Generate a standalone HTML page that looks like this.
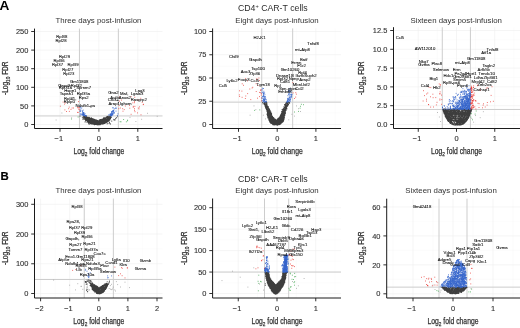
<!DOCTYPE html>
<html><head><meta charset="utf-8"><title>Volcano plots</title>
<style>html,body{margin:0;padding:0;background:#fff}body{width:520px;height:328px;overflow:hidden;font-family:"Liberation Sans",sans-serif}</style></head>
<body>
<svg width="520" height="328" viewBox="0 0 520 328" style="display:block;will-change:transform;font-family:'Liberation Sans',sans-serif">
<rect width="520" height="328" fill="#fff"/>
<g>
<path d="M79.45 28.6V128.5M118.35 28.6V128.5M40.55 28.6V128.5M157.25 28.6V128.5M34.5 115.2H162.5M34.5 96.6H162.5M34.5 78H162.5M34.5 59.4H162.5M34.5 40.8H162.5" stroke="#f5f5f5" stroke-width=".35" fill="none"/>
<path d="M60 28.6V128.5M98.9 28.6V128.5M137.8 28.6V128.5M34.5 124.5H162.5M34.5 105.9H162.5M34.5 87.3H162.5M34.5 68.7H162.5M34.5 50.1H162.5M34.5 31.5H162.5" stroke="#efefef" stroke-width=".6" fill="none"/>
<path d="M79.45 28.6V128.5M118.35 28.6V128.5M34.5 115.94H162.5" stroke="#cdcdcd" stroke-width="1" fill="none"/>
<path d="M61.9 113.0h0M157.2 116.3h0M135.9 121.5h0M147.5 113.3h0M56.1 120.0h0M141.7 119.3h0M130.0 117.4h0M71.7 117.8h0" stroke="#9a9a9a" stroke-width="0.85" stroke-linecap="round" fill="none"/>
<path d="M87.8 120.8h0M98.7 123.1h0M106.2 122.0h0M87.6 121.2h0M89.2 118.6h0M88.0 121.3h0M107.2 120.5h0M100.8 124.2h0M86.3 118.8h0M99.8 120.3h0M106.9 121.6h0M109.2 118.9h0M93.5 122.0h0M88.6 121.1h0M94.1 123.0h0M106.1 121.7h0M95.2 122.6h0M91.7 122.5h0M102.1 119.1h0M88.7 121.9h0M105.8 121.0h0M106.9 119.1h0M87.0 120.4h0M88.0 121.9h0M100.5 123.1h0M105.8 120.4h0M94.2 123.2h0M109.8 120.0h0M88.0 118.8h0M100.6 119.9h0M106.2 117.4h0M101.2 123.9h0M101.6 120.5h0M100.5 120.9h0M102.2 123.7h0M102.1 119.8h0M89.3 118.1h0M102.6 120.3h0M104.9 122.1h0M86.8 118.5h0M107.8 120.7h0M94.1 121.0h0M85.2 119.3h0M92.9 123.0h0M105.6 118.6h0M108.8 119.6h0M103.5 118.8h0M105.6 122.7h0M92.7 118.9h0M99.0 122.8h0M101.0 123.7h0M89.4 118.3h0M85.9 118.2h0M108.0 118.0h0M94.6 121.0h0M101.6 122.2h0M97.6 124.5h0M108.4 119.6h0M100.8 119.5h0M89.8 118.4h0M105.8 122.3h0M92.6 122.3h0M89.8 119.9h0M107.5 118.7h0M95.1 122.9h0M96.8 121.1h0M85.9 117.6h0M93.0 121.2h0M89.9 120.1h0M92.9 124.3h0M104.8 119.6h0M87.9 117.1h0M89.8 118.5h0M84.5 117.6h0M92.1 120.0h0M99.8 122.4h0M109.7 119.2h0M93.4 122.6h0M108.7 118.5h0M102.9 123.9h0M85.9 118.6h0M97.0 123.0h0M102.6 121.7h0M104.5 121.8h0M93.3 119.5h0M99.1 122.9h0M105.3 121.4h0M99.4 124.7h0M88.4 121.9h0M96.6 121.2h0M97.0 123.4h0M109.8 120.0h0M90.1 121.5h0M101.9 119.5h0M106.8 119.5h0M90.5 121.4h0M86.3 118.0h0M107.6 119.9h0M87.1 118.7h0M103.3 121.9h0M103.0 120.7h0M99.8 122.5h0M93.8 122.2h0M95.7 122.2h0M93.6 123.7h0M103.7 122.1h0M88.0 119.3h0M86.8 119.6h0M101.7 123.2h0M101.6 121.7h0M98.4 120.9h0M101.3 119.8h0M91.9 121.0h0M101.4 120.4h0M104.6 118.3h0M108.4 119.4h0M93.2 121.6h0M105.4 121.2h0M106.8 121.4h0M98.1 123.6h0M106.0 122.6h0M92.6 122.0h0M100.2 121.8h0M101.4 122.0h0M101.4 120.1h0M88.0 119.0h0M103.5 118.8h0M105.3 119.1h0M93.2 120.1h0M85.1 117.4h0M102.6 119.5h0M105.1 120.7h0M97.8 123.9h0M92.7 121.2h0M101.4 122.6h0M94.1 123.2h0M103.1 120.5h0M109.4 118.9h0M102.3 122.1h0M86.8 119.2h0M105.9 120.6h0M99.3 123.1h0M98.8 121.3h0M90.1 121.8h0M103.5 118.3h0M103.4 123.4h0M106.2 119.2h0M101.6 122.9h0M91.7 121.6h0M101.7 122.4h0M86.9 118.5h0M91.9 121.2h0M87.4 120.1h0M89.5 119.5h0M108.8 120.4h0M96.9 121.9h0M87.3 121.5h0M110.3 116.5h0M92.3 122.8h0M92.8 119.3h0M96.1 121.5h0M105.2 119.7h0M101.1 121.5h0M97.6 121.3h0M100.8 120.6h0M94.7 124.2h0M90.2 120.8h0M94.2 122.0h0M86.6 119.2h0M89.6 121.0h0M102.7 122.4h0M83.9 117.6h0M99.3 124.4h0M97.2 122.1h0M103.2 122.3h0M107.4 118.4h0M108.7 120.1h0M87.3 118.8h0M100.3 119.9h0M104.4 121.5h0M102.1 119.3h0M101.3 124.1h0M91.7 121.4h0M97.5 121.5h0M100.2 120.8h0M100.9 123.3h0M100.5 122.6h0M95.6 120.5h0M91.0 121.2h0M109.9 119.3h0M99.9 120.3h0M86.4 118.4h0M103.8 119.3h0M93.1 120.0h0M105.1 121.9h0M85.7 118.8h0M106.0 122.2h0M103.7 123.8h0M97.1 120.4h0M87.1 119.1h0M89.2 120.8h0M94.0 120.2h0M100.6 124.1h0M92.2 122.6h0M103.6 119.4h0M100.7 120.5h0M94.6 123.0h0M97.2 123.0h0M93.9 120.6h0M95.9 123.3h0M88.8 119.5h0M103.6 122.1h0M102.3 123.3h0M99.2 124.1h0M92.6 123.1h0M98.3 122.5h0M106.5 120.5h0M108.1 121.2h0M88.7 118.7h0M107.3 119.7h0M87.8 118.5h0M86.0 116.6h0M93.9 124.3h0M93.5 123.2h0M88.2 121.5h0M93.3 123.5h0M90.9 120.0h0M97.9 122.2h0M99.5 122.0h0M91.1 121.9h0M94.2 123.5h0M109.3 119.2h0M106.0 119.9h0M93.4 120.3h0M98.8 124.4h0M101.0 120.9h0M102.2 119.6h0M93.4 123.1h0M96.4 121.2h0M94.9 124.2h0M99.9 123.6h0M104.7 122.4h0M88.0 121.3h0M93.9 120.9h0M89.5 117.5h0M93.7 121.7h0M95.3 124.4h0M87.0 118.4h0M92.0 123.7h0M91.1 123.6h0M106.3 118.8h0M91.4 121.7h0M103.9 123.4h0M96.4 121.4h0M105.8 121.3h0M88.6 117.9h0M96.4 121.0h0M91.5 124.0h0M108.5 117.0h0M88.7 119.8h0M94.7 123.4h0M95.8 123.2h0M104.2 120.9h0M96.2 123.5h0M102.2 119.7h0M95.6 120.1h0M93.2 124.2h0M85.1 118.7h0M93.3 118.8h0M87.2 117.5h0M86.8 119.5h0M89.2 119.5h0M98.9 123.0h0M98.6 124.2h0M99.0 123.9h0M94.6 119.9h0M92.3 121.8h0M87.1 119.1h0M101.2 123.8h0M102.8 123.0h0M89.3 122.2h0M106.5 120.5h0M99.8 120.2h0M97.7 120.6h0M107.5 121.0h0M93.5 120.2h0M99.2 120.7h0M109.4 118.4h0M100.1 123.9h0M97.8 121.3h0M85.6 120.7h0M100.2 120.0h0M97.1 122.2h0M89.1 121.2h0M109.7 116.1h0M95.6 119.7h0M96.2 120.3h0M95.5 123.9h0M98.2 123.7h0M100.6 122.8h0M103.0 123.1h0M97.5 124.7h0M103.6 121.6h0M93.2 123.8h0M88.0 120.0h0M99.9 124.3h0M102.4 123.7h0M100.5 123.9h0M90.5 122.1h0M105.2 120.3h0M106.1 118.8h0M89.6 122.2h0M94.7 122.1h0M105.7 118.4h0M89.5 119.2h0M96.4 123.3h0M88.3 118.9h0M92.1 118.5h0M104.2 123.1h0M91.9 120.0h0M104.3 122.7h0M95.3 122.0h0M89.3 120.6h0M91.2 120.6h0M103.9 120.7h0M108.1 120.5h0M98.3 122.7h0M85.7 119.3h0M100.1 121.9h0M106.9 117.3h0M89.5 120.9h0M101.7 121.8h0M96.3 122.7h0M90.7 121.0h0M88.6 121.4h0M99.5 120.3h0M93.4 120.8h0M98.5 124.2h0M86.7 118.4h0M93.1 123.9h0M90.8 118.5h0M85.9 118.6h0M86.9 117.2h0M87.6 119.5h0M98.5 123.0h0M92.4 121.0h0M104.7 121.1h0M90.8 119.9h0M91.0 121.4h0M107.5 119.6h0M90.2 122.5h0M104.1 121.4h0M100.2 120.6h0M106.1 121.1h0M100.4 123.3h0M88.4 119.7h0M109.3 118.4h0M103.3 121.7h0M85.6 116.4h0M89.3 118.7h0M92.4 122.7h0M95.8 121.1h0M106.3 121.5h0M90.2 119.9h0M102.1 122.4h0M99.1 123.5h0M91.8 120.5h0M93.0 119.8h0M101.0 121.5h0M90.8 121.3h0M101.0 122.2h0M109.9 118.7h0M105.4 121.0h0M106.3 122.4h0M91.7 121.8h0M110.3 116.1h0M100.2 119.7h0M104.1 122.2h0M90.8 119.4h0M97.7 122.6h0M106.1 121.6h0M101.1 120.5h0M96.8 121.4h0M89.5 121.4h0M91.8 122.8h0M90.0 120.2h0M97.7 124.1h0M93.7 123.8h0M89.8 122.5h0M103.2 119.3h0M108.1 118.1h0M93.7 124.0h0M103.3 119.6h0M88.7 121.1h0M88.3 121.2h0M94.5 119.6h0M98.5 122.2h0M91.9 120.4h0M98.0 122.1h0M99.5 121.6h0M87.3 120.3h0M105.1 123.1h0M105.5 122.0h0M95.9 121.1h0M107.0 120.9h0M107.1 118.7h0M109.4 120.1h0M101.6 120.4h0M85.3 118.1h0M97.0 122.7h0M99.6 123.5h0M87.8 121.5h0M93.4 123.3h0M95.3 120.3h0M89.4 120.4h0M99.8 123.2h0M89.2 119.3h0M92.7 120.4h0M96.9 121.2h0M89.1 117.2h0M110.3 118.3h0M105.2 122.5h0M100.8 122.7h0M106.9 117.5h0M96.6 123.1h0M109.3 119.2h0M92.5 121.6h0M97.6 121.8h0M105.4 120.4h0M110.7 116.9h0M98.0 124.9h0M89.0 123.0h0M93.1 119.4h0M98.7 121.6h0M92.5 122.0h0M101.1 122.2h0M107.1 119.4h0M86.3 118.9h0M87.6 119.6h0M91.1 119.2h0M105.1 118.8h0M95.9 122.5h0M87.8 120.1h0M86.6 118.7h0M108.1 117.7h0M89.3 117.7h0M110.3 117.3h0M98.7 123.5h0M103.1 121.5h0M108.1 121.0h0M88.1 117.7h0M92.4 121.3h0M89.0 122.0h0M99.2 124.3h0M101.9 121.9h0M89.3 119.0h0M96.2 124.6h0M94.0 122.9h0M107.4 122.0h0M106.7 120.6h0M98.3 121.6h0M86.5 118.0h0M97.9 122.5h0M96.2 120.6h0M88.1 118.7h0M84.3 117.0h0M89.9 117.9h0M100.3 123.0h0M90.3 119.0h0M107.0 119.8h0M92.9 121.1h0M99.1 124.3h0M90.7 122.9h0M107.6 119.4h0M98.6 123.9h0M102.7 121.8h0M95.6 122.0h0M91.6 119.3h0M103.7 121.7h0M91.3 123.6h0M94.4 121.5h0M92.3 121.7h0M101.4 119.5h0M105.1 122.1h0M101.7 119.3h0M92.3 120.6h0M88.7 117.6h0M89.1 119.5h0M100.9 121.2h0M92.4 120.9h0M103.1 121.1h0M108.2 117.9h0M102.8 123.0h0M103.1 121.3h0M106.5 120.5h0M87.9 121.2h0M91.5 120.3h0M97.7 120.8h0M89.4 121.3h0M90.5 119.5h0M104.9 121.9h0M86.7 120.0h0M93.2 119.1h0M94.6 123.2h0M104.5 122.0h0M109.9 116.6h0M102.6 124.1h0M104.6 118.7h0M107.7 116.7h0M85.5 117.6h0M87.1 119.4h0M94.8 119.6h0M89.2 119.3h0M86.8 120.2h0M87.4 119.0h0M99.2 120.6h0M96.5 122.5h0M94.4 123.6h0M108.0 117.6h0M103.5 118.9h0M101.9 122.8h0M104.3 118.6h0M96.8 122.0h0M104.6 119.9h0M107.0 121.7h0M95.9 122.8h0M96.1 122.8h0M94.9 123.8h0M103.6 123.8h0M95.1 123.6h0M96.5 123.8h0M107.5 118.6h0M93.7 120.6h0M98.2 123.1h0M90.3 120.5h0M92.4 120.4h0M108.1 121.1h0M100.7 122.5h0M96.2 121.0h0M88.6 117.9h0M92.8 121.5h0M101.1 120.6h0M86.1 116.7h0M91.6 122.2h0M108.0 119.3h0M104.2 121.0h0M89.1 118.9h0M96.5 121.5h0M105.6 120.4h0M100.1 121.2h0M109.3 118.1h0M83.7 117.4h0M87.6 120.1h0M105.2 119.4h0M89.1 118.6h0M85.7 117.8h0M93.1 122.0h0M104.0 121.4h0M91.3 120.6h0M90.2 122.7h0M84.9 118.7h0M88.8 121.6h0M85.6 119.5h0M102.8 122.8h0M101.9 121.8h0M104.9 121.4h0M105.0 122.3h0M94.3 124.2h0M87.8 119.1h0M91.5 122.8h0M104.8 122.9h0M92.9 121.7h0M103.2 123.7h0M105.8 119.9h0M100.1 121.4h0M109.2 120.7h0M109.8 117.6h0M84.4 118.1h0M108.7 117.2h0M110.3 116.5h0M101.7 120.1h0M103.4 120.9h0M95.9 124.0h0M92.3 123.5h0M87.2 120.5h0M87.7 118.3h0M97.7 121.2h0M96.7 124.5h0M92.6 122.6h0M108.0 119.2h0M92.7 123.1h0M99.2 122.6h0M103.5 121.8h0M108.3 120.2h0M88.4 118.3h0M90.6 122.9h0M104.3 120.4h0M96.2 120.4h0M87.2 120.8h0M95.7 120.3h0M105.1 118.6h0M103.2 122.5h0M87.9 120.6h0M96.2 123.7h0M87.7 120.5h0M107.7 118.9h0M92.7 120.9h0M106.2 122.0h0M92.0 120.4h0M106.6 121.5h0M95.8 123.5h0M107.0 120.4h0M87.1 118.6h0M105.2 117.8h0M104.8 121.3h0M104.6 122.2h0M94.1 123.5h0M100.5 121.1h0M110.4 118.6h0M104.3 122.2h0M110.5 118.3h0M93.2 119.5h0M92.6 122.3h0M95.1 119.8h0M87.4 118.5h0M109.3 116.9h0M97.0 122.9h0M91.3 118.4h0M85.8 118.8h0M90.2 122.2h0M106.3 121.9h0M102.4 121.6h0M92.8 122.1h0M89.3 119.5h0M103.1 123.3h0M99.9 120.5h0M93.1 121.8h0M102.9 120.4h0M107.4 120.3h0M95.1 120.1h0M90.4 121.1h0M105.1 118.0h0M88.2 118.4h0M108.3 116.4h0M108.7 121.1h0M92.6 119.2h0M94.4 121.3h0M95.5 122.0h0M92.9 120.0h0M83.4 116.1h0M103.3 118.7h0M103.1 121.7h0M93.4 122.5h0M93.1 119.0h0M109.2 119.6h0M107.7 118.3h0M98.5 123.0h0M108.2 117.9h0M102.2 121.2h0M96.5 122.0h0M105.8 121.7h0M100.6 123.9h0M89.0 122.0h0M94.4 119.2h0M96.7 124.5h0M94.5 124.2h0M95.9 124.1h0M108.4 118.2h0M93.0 121.7h0M89.8 121.8h0M109.9 118.7h0M96.6 122.2h0M87.4 119.0h0M97.8 121.6h0M102.2 121.8h0M94.3 121.4h0M93.8 123.0h0M93.0 123.8h0M104.1 117.6h0M87.0 117.8h0M107.6 121.0h0M108.7 119.5h0M107.2 118.0h0M90.6 121.3h0M102.5 119.4h0M91.9 119.1h0M91.0 123.9h0M97.7 123.1h0M85.8 119.0h0M92.2 119.2h0M93.7 122.9h0M90.6 118.4h0M103.4 118.7h0M106.1 121.6h0M104.1 121.7h0M91.5 123.5h0M104.6 121.3h0M102.7 123.3h0M95.5 120.4h0M99.4 119.8h0M95.5 120.3h0M92.1 123.4h0M99.9 120.1h0M102.2 119.0h0M98.7 123.1h0M95.6 120.0h0M105.1 118.6h0M102.7 122.8h0M83.8 117.5h0M93.7 119.4h0M84.4 118.0h0M99.3 122.3h0M106.9 119.7h0M83.5 117.0h0M99.5 124.0h0M85.0 118.8h0M94.4 122.5h0M91.9 118.5h0M108.3 119.9h0M107.6 118.8h0M101.1 121.4h0M98.0 121.3h0M87.1 117.2h0M93.3 123.7h0M92.7 123.1h0M107.5 117.6h0M94.5 123.3h0M91.7 122.4h0M107.8 117.6h0M110.5 117.6h0M94.5 124.3h0M99.2 124.7h0M105.6 121.7h0M110.0 116.8h0M109.3 118.6h0M95.0 121.3h0M105.6 118.1h0M93.0 121.9h0M99.1 121.5h0M102.4 122.8h0M86.5 118.8h0M106.3 120.9h0M96.4 122.2h0M90.0 121.4h0M104.3 122.3h0M99.9 121.4h0M91.9 119.6h0M86.0 118.9h0M97.8 123.6h0M85.8 116.2h0M106.0 119.8h0M99.0 123.5h0M88.2 118.5h0M105.9 118.5h0M94.4 124.5h0M95.1 120.8h0M88.1 120.4h0M87.6 117.7h0M87.4 120.5h0M96.4 124.0h0M86.6 116.7h0M95.2 120.8h0M99.7 124.0h0M89.4 118.7h0M107.6 119.0h0M100.4 124.6h0M103.4 120.9h0M100.2 122.4h0M96.2 123.4h0M109.6 119.1h0M103.7 121.6h0M96.2 124.1h0M95.4 122.9h0M107.3 118.6h0M91.4 120.0h0M97.6 122.5h0M91.8 119.7h0M102.0 123.3h0M87.6 119.4h0M102.1 119.9h0M97.1 124.6h0M102.4 120.9h0M103.7 119.4h0M108.9 119.2h0M105.7 119.6h0M106.0 117.8h0M105.4 119.2h0M86.1 117.2h0M100.3 121.0h0M94.5 124.1h0M91.7 122.7h0M95.6 121.9h0M96.0 124.2h0M98.4 123.5h0M93.2 121.0h0M90.1 122.2h0M104.4 122.1h0M85.6 119.2h0M105.8 118.4h0M104.2 118.1h0M95.8 121.4h0M89.4 119.4h0M90.6 118.5h0M92.2 123.2h0M100.4 122.7h0M104.5 120.0h0M94.2 122.1h0M100.2 122.5h0M89.3 121.6h0M97.3 124.5h0M88.2 121.2h0M98.6 123.9h0M98.9 122.2h0M96.0 122.1h0M106.5 121.7h0M90.1 123.4h0M99.6 120.9h0M105.6 119.6h0M91.7 121.7h0M107.4 116.8h0M109.0 118.2h0M102.1 121.8h0M98.8 124.5h0M103.9 118.9h0M91.6 122.4h0M98.2 121.8h0M87.8 120.4h0M102.5 122.1h0M97.7 120.7h0M88.5 120.0h0M104.2 119.6h0M96.7 122.5h0M92.7 119.9h0M92.5 120.4h0M93.6 119.8h0M104.1 123.3h0M94.4 123.3h0M87.9 118.3h0M106.0 118.3h0M109.3 116.8h0M101.8 121.5h0M91.9 119.0h0M107.9 119.8h0M91.4 120.4h0M105.3 119.8h0M102.3 121.7h0M88.7 118.0h0M88.3 121.3h0M104.1 123.0h0M94.5 124.7h0M100.2 120.0h0M93.5 122.6h0M93.3 122.5h0M89.4 121.8h0M87.9 120.6h0M108.3 117.2h0M89.6 118.8h0M99.6 123.3h0M104.0 122.4h0M98.9 121.2h0M110.2 118.0h0M104.3 122.1h0M95.2 120.9h0M106.2 121.0h0M97.9 122.0h0M90.1 119.1h0M103.0 124.0h0M100.2 122.5h0M107.3 118.5h0M91.0 119.8h0M97.9 120.8h0M93.0 121.5h0M104.8 123.4h0M98.3 121.1h0M96.0 120.1h0M90.8 120.5h0M90.2 118.0h0M88.6 119.5h0M96.5 121.9h0M109.1 120.0h0M102.6 121.6h0M90.1 118.9h0M104.4 123.4h0M105.6 121.0h0M105.8 118.2h0M90.9 121.1h0M89.5 120.2h0M90.9 123.3h0M106.3 122.1h0M101.3 119.9h0M103.7 121.5h0M96.4 120.6h0M105.5 119.0h0M86.9 118.8h0M85.7 118.5h0M94.1 121.9h0M95.2 122.2h0M106.7 119.9h0M87.3 120.5h0M107.3 120.1h0M103.7 122.5h0M93.7 122.0h0M90.9 119.1h0M105.5 121.6h0M87.7 118.7h0M97.7 124.0h0M84.3 116.0h0M89.2 122.7h0M101.1 120.7h0M111.5 117.3h0M90.2 122.4h0M102.6 122.5h0M87.7 117.6h0M86.1 120.5h0M97.6 124.1h0M102.7 120.2h0M94.4 122.4h0M103.8 122.6h0M107.3 116.8h0M101.7 120.0h0M107.7 121.1h0M92.7 124.0h0M101.0 121.5h0M109.3 118.0h0M106.3 121.8h0M88.1 122.0h0M85.5 120.1h0M92.4 122.2h0M99.7 120.5h0M88.9 119.0h0M99.1 122.1h0M102.9 120.8h0M95.2 120.5h0M104.2 121.5h0M98.6 122.6h0M99.5 123.5h0M87.9 120.4h0M107.9 116.4h0M98.8 124.3h0M88.5 118.1h0M88.0 120.6h0M89.9 119.8h0M88.0 120.5h0M106.0 121.0h0M87.1 120.9h0M100.4 119.6h0M106.1 122.2h0M104.5 119.5h0M87.6 120.9h0M109.9 119.4h0M85.9 116.3h0M101.8 122.5h0M92.5 121.6h0M106.7 122.3h0M100.2 124.0h0M106.2 120.0h0M103.9 120.0h0M106.2 120.0h0M105.6 121.5h0M108.6 117.6h0M99.9 124.6h0M94.5 121.8h0M89.1 119.1h0M102.4 122.9h0M91.2 121.5h0M91.4 117.7h0M96.9 121.6h0M91.0 122.4h0M109.9 117.8h0M99.1 123.8h0M109.6 118.1h0M106.8 121.7h0M89.3 122.6h0M103.9 120.8h0M99.0 120.9h0M89.4 119.0h0M107.8 121.4h0M103.7 120.4h0M95.3 122.0h0M98.0 121.2h0M110.5 118.0h0M86.6 119.9h0M106.4 116.9h0M104.6 121.7h0M100.9 121.3h0M88.6 121.3h0M110.6 118.6h0M89.6 118.5h0M87.2 120.8h0M89.9 118.8h0M86.2 119.4h0M108.5 120.7h0M98.9 122.7h0M94.1 122.5h0M107.0 119.4h0M99.5 122.7h0M89.1 120.4h0M89.7 118.5h0M109.2 119.8h0M107.7 119.7h0M88.7 122.2h0M93.1 123.2h0M93.7 124.1h0M96.2 124.3h0M104.2 122.7h0M99.3 120.4h0M94.6 121.4h0M102.8 122.8h0M89.1 122.0h0M99.9 121.1h0M90.9 118.6h0M101.1 119.7h0M97.3 124.1h0M100.9 120.8h0M94.3 122.9h0M103.5 118.1h0M105.3 118.0h0M89.4 120.2h0M86.4 119.3h0M94.5 119.7h0M108.6 118.4h0M100.2 122.0h0M94.1 122.6h0M85.2 119.1h0M96.0 122.5h0M87.9 120.2h0M94.7 120.4h0M104.3 121.3h0M106.9 119.1h0M99.2 123.1h0M88.9 121.5h0M90.6 120.9h0M107.2 119.3h0M91.0 119.1h0M91.0 122.5h0M96.2 119.8h0M92.7 123.3h0M92.8 122.8h0M88.3 119.0h0M86.6 118.5h0M108.2 119.8h0M107.6 120.5h0M104.6 119.2h0M109.1 117.0h0M87.1 118.6h0M88.7 121.1h0M90.6 119.3h0M92.3 122.4h0M85.9 117.3h0M97.9 121.9h0M91.7 122.0h0M98.9 122.3h0M100.3 121.8h0M98.0 121.1h0M95.3 122.8h0M98.7 122.0h0M84.9 118.0h0M84.9 117.1h0M95.7 123.1h0M91.7 121.2h0M100.3 121.1h0M103.4 118.6h0M103.8 119.8h0M91.2 121.4h0M87.3 119.0h0M104.5 120.1h0M94.2 122.6h0M86.8 118.9h0M87.0 120.9h0M89.9 117.9h0M93.8 119.8h0M92.6 123.0h0M108.5 118.9h0M104.1 120.5h0M99.7 120.6h0M101.7 121.1h0M104.2 119.8h0M93.3 123.8h0M101.8 120.6h0M85.1 116.6h0M109.1 123.3h0M87.0 122.2h0M116.7 117.5h0M111.8 121.1h0M109.4 122.4h0M114.1 120.0h0M88.6 123.6h0M115.0 119.9h0M107.1 123.8h0M84.0 119.5h0M82.8 119.1h0M109.2 123.6h0M107.4 123.8h0M113.9 119.4h0M117.6 116.1h0M88.5 122.4h0M89.0 123.0h0M85.1 121.9h0M89.2 124.2h0M115.8 118.2h0M110.5 123.9h0M80.0 116.1h0M83.4 118.3h0M82.4 117.3h0M115.8 118.6h0M80.0 116.0h0" stroke="#3d3d3d" stroke-width="1.1" stroke-linecap="round" fill="none"/>
<path d="M127.7 120.8h0M120.1 121.7h0M127.6 120.2h0M126.3 121.8h0M121.0 121.8h0M123.7 119.5h0M71.4 119.0h0M78.1 117.0h0" stroke="#2e9e3e" stroke-width="0.85" stroke-linecap="round" fill="none"/>
<path d="M111.4 115.8h0M111.5 115.9h0M114.5 113.0h0M112.1 114.7h0M83.7 114.0h0M82.9 114.5h0M83.5 113.8h0M83.9 114.8h0M111.5 113.5h0M80.0 111.5h0M110.6 114.0h0M84.7 114.6h0M85.2 115.5h0M83.3 115.1h0M83.0 115.6h0M110.7 114.8h0M109.9 114.5h0M85.7 115.9h0M82.6 114.3h0M114.2 112.2h0M112.2 114.7h0M82.4 112.8h0M112.8 111.8h0M110.8 114.8h0M113.0 113.6h0M80.8 110.6h0M83.8 114.7h0M81.3 114.6h0M111.7 114.5h0M113.8 110.4h0M83.0 112.5h0M112.9 111.6h0M85.6 115.8h0M113.5 107.9h0M83.9 112.8h0M82.1 115.1h0M83.2 115.3h0M85.1 113.8h0M83.9 113.5h0M110.2 113.8h0M84.0 115.0h0M113.0 114.7h0M112.4 114.1h0M110.0 115.6h0M82.4 114.0h0M82.0 113.6h0M83.4 115.0h0M111.5 115.4h0M112.7 111.9h0M82.6 111.5h0M112.7 110.7h0M80.5 107.3h0M86.1 115.6h0M111.8 115.5h0M112.3 111.9h0M110.7 114.8h0M110.3 114.5h0M116.0 107.3h0M112.2 114.4h0M111.4 112.4h0M110.3 115.6h0M110.7 115.2h0M85.6 115.8h0M79.9 106.6h0M83.9 115.3h0M113.8 112.9h0M113.2 110.8h0M80.3 110.0h0M81.8 107.9h0M83.7 112.7h0M83.7 112.4h0M112.4 107.8h0M83.7 114.2h0M86.2 115.5h0M83.2 110.1h0M81.0 108.8h0M111.9 114.0h0M85.5 115.8h0M113.5 110.3h0M115.8 108.4h0M116.1 108.6h0M112.1 115.2h0M111.6 113.0h0M80.7 111.6h0M84.8 115.6h0M83.8 113.6h0M113.2 113.1h0M83.1 114.2h0M113.2 112.0h0M111.6 111.5h0M82.3 110.7h0M114.4 108.9h0M112.4 113.6h0M113.6 111.3h0M108.6 115.0h0M116.0 111.1h0M117.3 115.4h0M80.3 113.8h0M118.0 113.8h0M80.3 114.9h0" stroke="#3867cc" stroke-width="0.95" stroke-linecap="round" fill="none"/>
<path d="M78.6 109.1h0M79.0 107.6h0M79.4 109.9h0M79.0 107.4h0M68.7 108.7h0M63.1 102.1h0M60.3 106.2h0M72.1 108.0h0M65.7 102.9h0M77.5 107.7h0M69.3 111.4h0M69.2 107.1h0M78.2 112.4h0M71.0 109.4h0M64.9 109.9h0M78.6 101.6h0M73.5 108.0h0M66.4 111.5h0M77.4 112.4h0M64.6 104.1h0M134.5 101.3h0M118.8 108.7h0M129.4 105.4h0M120.3 108.0h0M137.6 112.9h0M142.2 102.4h0M139.4 106.9h0M124.2 109.6h0M123.0 111.2h0M139.0 108.9h0M143.2 104.6h0M119.5 101.1h0M119.1 105.5h0M138.3 108.0h0M134.4 108.7h0M143.5 104.3h0M133.3 106.4h0M131.1 114.3h0M133.2 107.3h0M138.2 100.0h0M141.0 114.8h0M140.8 98.3h0M134.8 97.3h0M125.3 106.0h0M121.5 100.1h0M134.6 110.3h0M134.4 102.7h0M122.7 108.7h0M129.8 108.2h0M135.0 111.7h0M131.1 96.7h0M134.9 106.4h0M132.9 102.8h0M119.4 97.0h0" stroke="#e8302a" stroke-width="0.85" stroke-linecap="round" fill="none"/>
<path d="M34.5 28.6V128.5H162.5" stroke="#1a1a1a" stroke-width="1" fill="none"/>
<path d="M60 128.5v3.3M98.9 128.5v3.3M137.8 128.5v3.3M34.5 124.5h-3.3M34.5 105.9h-3.3M34.5 87.3h-3.3M34.5 68.7h-3.3M34.5 50.1h-3.3M34.5 31.5h-3.3" stroke="#1a1a1a" stroke-width=".9" fill="none"/>
<text transform="translate(58.8 141.25) scale(.92 1)" font-size="8.1" fill="#303030" stroke="#303030" stroke-width=".12" text-anchor="middle">−1</text>
<text transform="translate(98.9 141.25) scale(.92 1)" font-size="8.1" fill="#303030" stroke="#303030" stroke-width=".12" text-anchor="middle">0</text>
<text transform="translate(137.8 141.25) scale(.92 1)" font-size="8.1" fill="#303030" stroke="#303030" stroke-width=".12" text-anchor="middle">1</text>
<text transform="translate(28.3 127.15) scale(.92 1)" font-size="8.1" fill="#303030" stroke="#303030" stroke-width=".12" text-anchor="end">0</text>
<text transform="translate(28.3 108.55) scale(.92 1)" font-size="8.1" fill="#303030" stroke="#303030" stroke-width=".12" text-anchor="end">50</text>
<text transform="translate(28.3 89.95) scale(.92 1)" font-size="8.1" fill="#303030" stroke="#303030" stroke-width=".12" text-anchor="end">100</text>
<text transform="translate(28.3 71.35) scale(.92 1)" font-size="8.1" fill="#303030" stroke="#303030" stroke-width=".12" text-anchor="end">150</text>
<text transform="translate(28.3 52.75) scale(.92 1)" font-size="8.1" fill="#303030" stroke="#303030" stroke-width=".12" text-anchor="end">200</text>
<text transform="translate(28.3 34.15) scale(.92 1)" font-size="8.1" fill="#303030" stroke="#303030" stroke-width=".12" text-anchor="end">250</text>
<text x="98.5" y="22.5" font-size="7.85" fill="#333" text-anchor="middle">Three days post-infusion</text>
<text x="98.9" y="154.05" font-size="8.6" fill="#303030" stroke="#303030" stroke-width=".25" text-anchor="middle" textLength="51" lengthAdjust="spacingAndGlyphs">Log<tspan font-size="6" dy="2">2</tspan><tspan dy="-2"> fold change</tspan></text>
<text transform="translate(8 78.2) rotate(-90)" font-size="8.4" fill="#303030" stroke="#303030" stroke-width=".25" text-anchor="middle" textLength="33.5" lengthAdjust="spacingAndGlyphs">-Log<tspan font-size="6" dy="2">10</tspan><tspan dy="-2"> FDR</tspan></text>
<g transform="scale(.25)" font-size="17" fill="#0c0c0c" stroke="#0c0c0c" stroke-width=".3" text-anchor="middle"><text x="247.2" y="152">Rpl38</text><text x="244" y="169.2">Rpl28</text><text x="258" y="230.6">Rpl29</text><text x="236" y="248">Rpl36</text><text x="230" y="262.6">Rpl37</text><text x="292" y="263.6">Rpl39</text><text x="271.2" y="282.6">Rpl27</text><text x="275" y="301.6">Rpl23</text><text x="316.8" y="330.4">Gm11808</text><text x="258.8" y="347.2">Gapdh</text><text x="304.8" y="347.2">Rpl32</text><text x="262" y="355.6">Rpl31a</text><text x="334.4" y="356.4">Sprnm7</text><text x="281.2" y="368.8">Hspe1</text><text x="266.4" y="380">Tspan1</text><text x="333.6" y="380.6">Rpl35a</text><text x="280.8" y="399.2">Rpl41,</text><text x="335" y="395.6">Rps2</text><text x="276.8" y="411.2">Rplp0</text><text x="341.2" y="429.2">Ndufb1-ps</text><text x="560" y="366">Lag3</text><text x="454" y="375.6">Gna2</text><text x="496.8" y="380">Maf,</text><text x="548" y="380">Lgals3</text><text x="482.4" y="394.4">ActbAnxa2</text><text x="555" y="405.6">Rasgrp2</text><text x="453" y="405.6">Ctc3+</text><text x="480" y="418.6">Arap1Ighxm</text></g>
</g>
<g>
<path d="M257.85 28.4V128.5M296.55 28.4V128.5M219.15 28.4V128.5M335.25 28.4V128.5M212.6 112.88H341M212.6 89.62H341M212.6 66.38H341M212.6 43.12H341" stroke="#f5f5f5" stroke-width=".35" fill="none"/>
<path d="M238.5 28.4V128.5M277.2 28.4V128.5M315.9 28.4V128.5M212.6 124.5H341M212.6 101.25H341M212.6 78H341M212.6 54.75H341M212.6 31.5H341" stroke="#efefef" stroke-width=".6" fill="none"/>
<path d="M261.72 28.4V128.5M292.68 28.4V128.5M212.6 102.18H341" stroke="#cdcdcd" stroke-width="1" fill="none"/>
<path d="M250.1 115.2h0M255.9 109.6h0M300.4 111.5h0M296.6 105.9h0M298.5 108.7h0M263.3 115.2h0M291.9 114.3h0M254.0 105.9h0M294.6 116.1h0M265.6 118.9h0M288.8 119.8h0" stroke="#9a9a9a" stroke-width="0.85" stroke-linecap="round" fill="none"/>
<path d="M277.9 121.4h0M281.6 120.7h0M268.8 112.5h0M273.5 123.3h0M281.1 116.8h0M270.7 114.3h0M277.3 122.1h0M276.1 123.6h0M283.0 121.0h0M268.7 116.0h0M281.5 117.6h0M281.2 122.4h0M280.0 119.4h0M269.7 115.6h0M270.3 119.0h0M282.2 116.1h0M282.8 115.6h0M277.7 119.5h0M281.0 122.1h0M282.6 120.3h0M281.1 118.1h0M285.8 108.9h0M269.7 113.4h0M279.0 120.3h0M266.1 106.5h0M272.1 118.8h0M268.0 115.1h0M271.8 122.8h0M277.6 122.9h0M277.5 121.5h0M285.5 109.2h0M280.7 115.7h0M268.4 111.2h0M280.2 116.2h0M282.7 119.6h0M282.0 118.1h0M272.6 116.6h0M283.7 110.6h0M272.0 119.3h0M267.0 108.8h0M281.0 116.9h0M267.5 111.9h0M279.9 118.2h0M282.9 115.0h0M281.1 120.3h0M280.0 118.0h0M281.6 121.4h0M279.2 122.9h0M274.2 124.0h0M281.5 115.0h0M270.2 118.9h0M266.8 108.6h0M268.2 111.5h0M275.0 119.8h0M283.5 116.8h0M268.7 114.0h0M273.1 119.3h0M272.3 121.9h0M272.6 122.3h0M276.6 121.8h0M284.1 116.6h0M274.8 122.7h0M278.7 124.1h0M270.8 111.8h0M280.9 123.1h0M271.9 119.1h0M271.8 118.5h0M270.2 116.3h0M269.8 118.1h0M266.0 105.3h0M283.5 114.1h0M268.5 117.2h0M270.2 116.3h0M283.3 118.5h0M289.5 102.6h0M274.5 121.5h0M271.0 115.5h0M269.8 117.2h0M276.6 124.0h0M272.3 120.5h0M266.0 106.4h0M284.4 113.4h0M273.5 124.4h0M280.3 120.5h0M273.6 124.6h0M267.6 111.8h0M277.7 122.8h0M277.0 123.5h0M269.8 118.8h0M272.8 120.4h0M273.9 123.8h0M274.0 119.5h0M282.3 120.4h0M270.9 117.8h0M278.7 124.7h0M279.3 122.4h0M281.9 121.7h0M273.5 119.2h0M281.3 120.5h0M270.0 116.9h0M277.5 120.9h0M266.1 107.8h0M288.8 102.6h0M281.0 123.6h0M281.4 121.7h0M282.7 117.7h0M283.3 113.7h0M273.0 123.3h0M277.5 122.1h0M269.0 118.9h0M269.9 115.7h0M266.5 107.9h0M269.3 110.0h0M269.1 112.7h0M280.1 123.7h0M271.9 116.6h0M280.8 123.1h0M279.7 121.1h0M282.7 116.4h0M271.0 119.6h0M281.6 119.0h0M269.5 112.7h0M269.8 112.0h0M272.6 117.7h0M282.0 113.0h0M274.7 119.5h0M282.1 116.5h0M262.7 102.4h0M279.5 123.9h0M266.6 109.3h0M268.3 117.3h0M284.3 114.9h0M275.0 121.9h0M281.6 117.8h0M275.8 120.5h0M271.5 122.9h0M275.3 124.7h0M284.4 107.8h0M282.4 115.3h0M274.8 121.6h0M271.1 121.4h0M282.2 119.0h0M282.1 112.5h0M277.6 122.9h0M287.8 102.5h0M285.4 104.8h0M278.7 121.4h0M269.1 116.2h0M275.6 120.1h0M283.6 115.1h0M270.8 123.3h0M269.4 118.9h0M280.8 116.8h0M267.9 116.6h0M270.7 115.3h0M283.8 109.1h0M276.0 121.1h0M270.1 122.2h0M282.3 119.7h0M271.0 117.7h0M287.0 103.1h0M270.6 114.6h0M271.2 114.6h0M275.4 120.8h0M272.8 121.1h0M280.9 119.5h0M283.1 120.8h0M268.1 116.2h0M266.9 103.9h0M280.2 122.6h0M268.9 117.9h0M268.7 115.5h0M273.3 118.8h0M268.3 107.5h0M271.6 114.3h0M286.0 109.2h0M281.2 122.7h0M270.6 121.3h0M280.8 123.5h0M282.8 112.0h0M287.5 102.9h0M276.9 124.6h0M270.1 113.6h0M284.1 114.4h0M265.6 107.9h0M281.9 121.0h0M271.0 114.5h0M269.9 121.4h0M275.7 123.5h0M268.2 114.0h0M276.4 123.6h0M270.7 115.5h0M277.9 121.0h0M272.7 118.5h0M268.8 108.7h0M282.7 121.2h0M279.3 118.5h0M277.3 120.3h0M275.8 121.9h0M281.6 118.3h0M281.5 122.3h0M268.9 112.7h0M271.5 116.7h0M276.3 120.8h0M274.3 120.0h0M283.5 115.5h0M280.8 114.5h0M278.2 120.7h0M276.5 124.7h0M283.3 108.6h0M286.0 103.8h0M271.8 121.9h0M278.8 122.2h0M280.5 119.4h0M271.1 116.6h0M286.8 103.1h0M274.1 121.1h0M268.8 116.9h0M282.6 118.9h0M274.4 121.1h0M277.0 123.4h0M274.5 122.1h0M269.0 120.0h0M278.6 123.1h0M270.8 122.0h0M276.9 124.0h0M272.2 116.5h0M278.2 118.3h0M281.7 121.5h0M282.9 117.8h0M271.5 119.3h0M283.4 115.7h0M286.4 105.9h0M280.7 120.1h0M271.0 115.8h0M279.6 121.8h0M265.0 104.9h0M280.2 116.3h0M272.0 122.2h0M271.9 121.5h0M272.8 122.4h0M275.9 121.9h0M275.1 120.3h0M283.9 112.3h0M279.1 118.8h0M276.7 120.9h0M281.0 119.6h0M278.2 120.9h0M269.2 114.6h0M275.8 123.9h0M273.1 120.4h0M272.5 120.5h0M275.7 122.2h0M267.8 114.7h0M278.2 121.6h0M271.3 120.4h0M276.7 123.7h0M283.4 114.1h0M270.3 119.8h0M268.3 115.9h0M279.4 121.4h0M276.9 124.6h0M270.1 120.3h0M269.9 113.3h0M282.8 111.8h0M276.5 120.3h0M268.9 111.1h0M277.5 124.0h0M271.2 118.1h0M276.9 121.1h0M271.9 118.9h0M275.6 121.7h0M285.4 108.7h0M277.2 120.3h0M287.0 105.0h0M270.5 122.7h0M274.4 119.3h0M282.9 118.9h0M284.2 115.0h0M278.3 120.0h0M278.6 119.1h0M280.0 123.5h0M272.4 121.0h0M283.6 114.7h0M276.3 123.1h0M278.6 118.8h0M281.9 121.0h0M272.0 122.0h0M277.1 122.7h0M284.2 112.3h0M268.4 115.4h0M277.0 119.5h0M269.5 119.5h0M283.0 114.5h0M269.2 116.5h0M267.4 107.2h0M265.5 107.0h0M270.7 118.7h0M270.9 116.0h0M283.5 117.9h0M273.0 120.3h0M274.7 119.0h0M282.1 114.8h0M270.7 117.5h0M268.3 116.3h0M283.7 118.7h0M285.9 104.0h0M268.9 113.6h0M278.9 122.4h0M285.4 112.5h0M267.6 107.1h0M270.8 112.2h0M270.2 120.2h0M269.9 119.9h0M274.4 121.2h0M274.2 123.4h0M280.4 118.8h0M283.9 111.1h0M267.5 113.4h0M284.2 115.9h0M285.3 111.4h0M269.2 115.6h0M282.1 121.6h0M267.9 112.8h0M274.8 119.8h0M283.4 109.1h0M280.3 120.3h0M273.9 123.4h0M267.8 114.4h0M272.4 122.7h0M270.2 110.2h0M274.6 119.2h0M267.3 113.4h0M278.0 123.4h0M269.7 117.7h0M282.3 115.8h0M278.1 122.9h0M282.4 116.6h0M270.5 122.5h0M271.1 120.6h0M273.0 120.2h0M271.1 116.7h0M275.5 123.0h0M271.9 121.8h0M281.6 113.2h0M267.9 115.0h0M278.6 118.8h0M273.1 120.9h0M281.9 115.2h0M269.3 118.9h0M273.8 120.7h0M282.0 109.7h0M278.6 122.1h0M267.7 112.4h0M269.0 116.9h0M283.8 116.4h0M268.4 115.4h0M283.3 114.4h0M269.3 109.3h0M267.6 107.1h0M269.6 120.8h0M274.3 122.0h0M285.6 108.7h0M275.8 121.3h0M273.1 121.5h0M270.4 112.7h0M264.8 102.6h0M285.0 111.1h0M282.8 118.0h0M274.7 119.9h0M281.3 114.4h0M270.3 116.3h0M275.7 124.8h0M270.8 121.9h0M274.9 124.7h0M266.3 107.8h0M277.8 121.3h0M270.7 122.2h0M268.4 117.2h0M272.3 121.4h0M270.5 117.9h0M287.9 104.1h0M284.3 110.4h0M273.0 120.9h0M268.4 106.9h0M281.3 119.5h0M270.5 117.8h0M269.3 120.5h0M277.1 120.4h0M270.9 114.4h0M283.1 116.8h0M283.3 115.4h0M276.2 123.2h0M280.2 118.0h0M283.1 117.4h0M276.1 121.8h0M273.7 123.9h0M274.5 120.6h0M281.5 114.2h0M274.5 124.3h0M276.4 123.9h0M268.3 115.4h0M268.9 109.4h0M273.1 119.1h0M282.1 116.6h0M270.4 121.1h0M276.0 120.9h0M271.4 118.6h0M272.9 122.1h0M281.5 118.7h0M275.2 122.3h0M286.6 106.5h0M283.0 116.2h0M276.9 123.4h0M269.9 122.0h0M267.7 111.7h0M282.7 119.8h0M271.7 121.1h0M278.0 124.2h0M270.0 115.7h0M280.4 117.5h0M266.9 111.1h0M276.1 121.9h0M267.7 114.0h0M283.9 111.7h0M268.9 112.1h0M271.3 114.6h0M270.0 119.1h0M275.7 123.7h0M281.2 116.2h0M277.6 124.2h0M273.2 123.1h0M282.4 119.6h0M280.2 122.6h0M271.6 118.9h0M284.8 111.2h0M280.8 121.8h0M269.9 113.1h0M279.2 123.9h0M280.2 119.5h0M270.2 115.1h0M271.0 114.4h0M274.0 120.7h0M283.7 112.4h0M279.8 119.8h0M273.5 121.6h0M281.9 118.1h0M271.8 116.5h0M268.7 111.6h0M271.1 116.2h0M279.6 123.2h0M282.6 117.2h0M283.1 120.3h0M281.0 114.7h0M277.3 124.2h0M271.7 115.9h0M282.8 112.9h0M275.5 124.1h0M274.3 124.6h0M287.0 108.7h0M286.3 108.6h0M272.6 122.4h0M286.7 106.9h0M280.1 119.3h0M282.1 118.0h0M282.9 119.0h0M271.2 120.2h0M286.0 109.1h0M281.3 116.5h0M285.3 105.5h0M282.9 116.3h0M285.3 106.5h0M282.6 118.2h0M278.7 118.5h0M281.5 117.6h0M277.2 125.1h0M270.1 113.6h0M275.4 122.3h0M265.6 104.7h0M275.3 123.9h0M268.0 115.3h0M269.3 114.0h0M269.0 117.9h0M275.1 122.8h0M269.4 112.5h0M282.8 120.4h0M281.1 120.8h0M270.9 115.0h0M274.4 122.8h0M273.7 119.1h0M281.8 116.1h0M270.8 120.9h0M287.0 106.3h0M269.4 116.7h0M278.1 123.2h0M273.7 122.4h0M270.7 122.5h0M278.7 118.9h0M285.7 107.7h0M279.6 122.6h0M276.6 122.5h0M283.2 121.6h0M269.2 117.3h0M271.8 119.4h0M272.7 119.1h0M274.0 122.4h0M269.0 112.2h0M278.5 118.8h0M285.1 110.2h0M277.2 123.9h0M273.4 118.8h0M280.1 120.1h0M269.5 111.3h0M281.8 115.4h0M269.7 118.0h0M277.0 122.2h0M269.4 115.3h0M286.2 108.5h0M282.6 113.5h0M266.1 102.6h0M280.0 116.9h0M275.8 120.2h0M281.9 121.7h0M267.9 112.7h0M283.0 112.6h0M268.4 116.4h0M283.2 113.5h0M272.5 118.4h0M269.1 110.9h0M281.0 115.2h0M275.6 121.5h0M271.2 116.7h0M268.7 116.0h0M277.8 121.5h0M264.9 105.3h0M269.5 112.6h0M274.0 122.6h0M275.8 121.4h0M277.1 125.0h0M266.0 104.9h0M276.9 122.0h0M270.4 111.6h0M270.2 118.2h0M274.0 123.7h0M277.3 121.4h0M271.9 120.7h0M281.4 113.6h0M269.7 119.6h0M271.6 122.3h0M285.5 104.5h0M281.9 118.3h0M280.2 123.6h0M284.4 115.4h0M281.9 119.6h0M278.6 122.8h0M270.0 115.3h0M274.9 122.9h0M287.8 105.2h0M268.3 114.1h0M271.2 114.7h0M269.1 113.3h0M285.8 110.0h0M279.0 118.6h0M284.9 112.3h0M276.9 122.9h0M271.6 115.3h0M268.6 114.0h0M279.2 121.4h0M278.0 122.7h0M266.9 107.4h0M268.6 108.6h0M278.9 122.5h0M281.4 116.9h0M275.8 121.9h0M282.3 121.8h0M265.1 106.3h0M283.9 115.5h0M284.7 113.9h0M270.5 120.8h0M269.4 113.6h0M272.1 115.7h0M282.8 120.1h0M279.7 118.4h0M274.1 121.1h0M268.9 117.0h0M280.6 122.1h0M271.4 119.3h0M268.2 110.7h0M282.6 115.7h0M272.5 116.7h0M271.8 122.6h0M269.4 112.1h0M279.8 116.6h0M287.3 104.5h0M267.5 105.8h0M286.4 105.8h0M272.5 117.6h0M284.6 113.7h0M273.1 122.8h0M279.1 124.1h0M268.4 113.2h0M270.7 115.4h0M266.6 104.6h0M274.3 120.3h0M271.2 118.4h0M284.5 113.1h0M270.0 116.3h0M283.9 111.3h0M274.4 119.4h0M269.4 111.2h0M282.7 110.2h0M285.5 108.0h0M271.2 119.6h0M265.7 107.6h0M277.3 120.2h0M283.5 117.0h0M282.6 116.2h0M281.3 116.7h0M272.2 120.3h0M281.9 118.3h0M281.1 118.6h0M267.8 115.6h0M271.1 117.8h0M270.0 120.6h0M282.1 122.2h0M268.3 116.4h0M280.4 122.1h0M273.1 120.3h0M282.7 116.1h0M281.4 121.6h0M266.9 108.8h0M268.3 117.7h0M268.1 115.4h0M284.4 115.5h0M281.6 122.2h0M287.3 105.9h0M284.1 111.0h0M276.8 122.3h0M284.0 117.5h0M271.6 118.1h0M281.7 120.4h0M283.4 120.0h0M280.9 121.0h0M271.4 116.4h0M268.8 119.0h0M275.4 122.6h0M280.0 121.8h0M281.2 122.5h0M280.3 116.2h0M271.5 117.5h0M274.8 119.7h0M269.7 117.9h0M282.7 116.7h0M270.8 121.6h0M273.7 123.6h0M287.1 102.8h0M273.5 121.5h0M278.1 121.6h0M267.5 115.0h0M275.6 122.3h0M272.9 119.6h0M285.0 110.4h0M272.0 123.6h0M270.8 120.9h0M269.7 116.8h0M269.1 112.0h0M279.2 122.9h0M272.8 119.5h0M282.8 116.9h0M269.5 117.7h0M268.2 118.0h0M271.2 121.8h0M278.4 121.2h0M271.9 119.9h0M280.7 123.2h0M276.3 122.3h0M267.8 117.3h0M276.8 120.4h0M272.2 121.8h0M271.2 116.5h0M278.4 120.5h0M274.0 124.4h0M277.3 122.9h0M266.8 109.7h0M271.0 122.9h0M282.5 116.2h0M274.5 119.4h0M284.0 113.7h0M269.9 118.0h0M271.2 121.0h0M275.1 121.6h0M282.0 121.4h0M272.6 121.4h0M270.0 121.0h0M269.8 120.4h0M282.9 116.5h0M273.4 117.6h0M274.8 123.3h0M273.9 119.4h0M286.8 106.1h0M285.1 105.2h0M269.2 120.5h0M276.6 122.1h0M276.3 120.8h0M281.9 122.5h0M282.2 121.2h0M267.4 106.6h0M268.6 109.5h0M272.8 119.2h0M268.7 117.3h0M280.7 115.4h0M282.8 115.0h0M270.7 115.2h0M281.3 114.3h0M268.3 117.1h0M280.6 122.7h0M284.6 115.4h0M268.6 115.5h0M281.8 122.1h0M280.4 121.4h0M282.9 116.0h0M274.7 119.5h0M285.0 112.4h0M282.5 120.9h0M280.5 115.4h0M283.5 116.6h0M274.9 122.9h0M270.9 120.9h0M278.6 119.9h0M272.8 120.0h0M274.1 123.2h0M278.1 121.7h0M279.2 117.9h0M269.6 121.3h0M272.5 116.3h0M271.8 119.5h0M280.8 118.7h0M271.0 121.6h0M268.9 113.4h0M276.2 123.2h0M265.5 105.0h0M283.6 117.0h0M266.9 104.4h0M282.0 118.0h0M269.2 119.8h0M280.5 120.2h0M285.9 106.0h0M273.6 118.5h0M273.5 119.6h0M281.2 122.5h0M276.3 122.4h0M274.2 119.6h0M279.9 118.6h0M284.3 112.5h0M272.3 123.0h0M273.9 119.2h0M280.2 122.6h0M279.3 121.4h0M281.2 118.1h0M266.4 109.4h0M279.0 122.5h0M276.5 122.3h0M283.7 115.2h0M271.7 117.7h0M276.9 123.3h0M270.6 115.3h0M265.4 103.3h0M282.9 114.2h0M268.2 114.3h0M271.1 120.6h0M284.5 112.8h0M271.7 117.5h0M276.4 123.0h0M271.1 120.2h0M288.5 104.4h0M271.9 115.7h0M272.5 119.8h0M282.1 115.2h0M284.3 115.7h0M271.0 122.2h0M268.8 118.8h0M269.5 112.8h0M276.7 122.9h0M270.1 117.9h0M271.1 123.0h0M274.6 121.1h0M267.7 113.8h0M272.1 120.1h0M269.4 112.2h0M269.8 114.9h0M283.8 116.1h0M280.3 122.3h0M280.7 119.1h0M268.7 109.1h0M281.8 116.8h0M274.6 123.4h0M271.5 118.2h0M273.0 118.9h0M281.3 118.8h0M271.8 119.4h0M271.0 112.3h0M279.1 117.8h0M284.7 110.5h0M263.9 103.8h0M266.2 108.5h0M285.4 113.5h0M279.8 124.4h0M274.6 124.8h0M274.6 121.9h0M272.6 118.2h0M273.0 120.5h0M277.6 122.6h0M287.2 106.4h0M278.6 118.9h0M273.7 122.0h0M271.7 118.2h0M269.0 114.6h0M266.4 106.4h0M280.1 122.5h0M271.0 114.0h0M277.0 120.0h0M279.7 119.9h0M284.2 118.7h0M280.2 118.9h0M269.6 113.2h0M282.2 120.4h0M273.7 119.0h0M283.6 119.1h0M269.2 116.2h0M281.0 117.5h0M277.5 123.6h0M268.9 110.8h0M282.1 116.1h0M272.2 122.2h0M269.8 118.0h0M266.5 108.4h0M267.1 109.2h0M278.1 119.7h0M276.0 121.2h0M266.2 103.9h0M283.2 114.8h0M270.5 115.9h0M283.2 119.3h0M267.3 110.2h0M275.6 122.0h0M281.5 111.8h0M269.1 112.7h0M268.0 117.9h0M273.2 120.4h0M270.2 115.5h0M270.1 119.4h0M270.1 119.4h0M282.3 121.0h0M281.8 113.3h0M281.4 122.3h0M270.5 118.3h0M283.4 118.9h0M275.6 122.8h0M272.3 117.2h0M278.9 121.5h0M264.4 104.2h0M272.3 122.8h0M286.7 107.1h0M283.7 116.3h0M275.5 122.0h0M272.5 119.4h0M275.2 121.4h0M272.0 118.6h0M282.4 112.3h0M273.2 118.7h0M285.7 107.6h0M279.1 121.6h0M272.6 122.5h0M281.1 115.7h0M280.2 120.0h0M278.0 120.9h0M285.6 106.5h0M280.2 117.4h0M280.3 121.0h0M280.2 117.3h0M271.3 117.5h0M282.9 113.1h0M270.5 119.4h0M270.1 118.3h0M273.2 122.0h0M283.5 111.1h0M285.6 107.0h0M276.1 124.7h0M267.8 114.2h0M285.1 110.4h0M270.8 112.9h0M273.2 121.6h0M272.9 119.5h0M269.8 110.6h0M271.6 113.5h0M283.0 116.6h0M286.7 102.6h0M287.4 103.5h0M280.8 119.0h0M271.9 118.7h0M268.1 107.8h0M274.0 118.8h0M268.7 109.9h0M275.9 121.5h0M281.6 121.0h0M279.6 119.8h0M280.2 120.7h0M282.3 119.0h0M280.2 121.6h0M270.5 122.2h0M282.0 119.7h0M271.0 122.1h0M272.3 120.2h0M272.6 119.6h0M287.3 105.1h0M271.2 119.2h0M280.8 116.8h0M267.5 106.6h0M270.1 119.1h0M282.5 120.7h0M270.5 117.0h0M269.5 112.1h0M275.5 120.5h0M284.6 114.3h0M283.2 118.7h0M271.0 117.9h0M282.2 116.0h0M271.8 118.8h0M272.5 121.5h0M282.8 121.8h0M280.5 124.0h0M282.8 109.4h0M268.4 116.1h0M286.9 105.3h0M273.6 120.4h0M270.5 117.4h0M270.3 117.3h0M273.9 122.4h0M272.0 117.6h0M282.2 116.9h0M283.5 119.3h0M281.1 119.9h0M279.6 121.3h0M274.6 123.4h0M280.7 116.8h0M271.9 121.6h0M275.7 123.3h0M285.5 108.6h0M278.9 119.7h0M271.6 118.7h0M272.2 121.9h0M276.6 120.8h0M283.4 111.5h0M270.8 114.0h0M276.7 124.4h0M274.2 123.9h0M272.8 118.5h0M276.0 124.4h0M284.0 106.7h0M270.9 116.8h0M279.8 120.6h0M282.7 121.6h0M275.9 122.2h0M270.0 117.4h0M278.0 122.0h0M280.3 121.8h0M271.6 114.5h0M268.2 109.9h0M280.3 116.1h0M285.6 103.7h0M268.3 112.2h0M277.2 119.2h0M273.2 120.1h0M274.7 121.7h0M285.1 112.7h0M273.0 118.2h0M285.3 109.8h0M278.5 118.3h0M285.8 110.0h0M282.9 114.8h0M279.9 117.6h0M281.4 114.9h0M281.2 114.1h0M278.2 123.5h0M267.9 112.7h0M273.7 123.0h0M280.9 117.9h0M272.8 118.5h0M268.9 113.9h0M276.2 121.8h0M282.3 115.1h0M269.9 113.4h0M275.6 120.2h0M270.7 117.0h0M274.5 119.3h0M281.8 114.0h0M268.8 109.3h0M273.8 117.8h0M279.3 124.6h0M266.9 107.2h0M283.7 117.1h0M271.8 122.4h0M282.5 114.5h0M274.6 119.0h0M282.0 121.8h0M278.3 119.9h0M269.0 116.7h0M273.4 120.3h0M272.3 122.4h0M276.4 123.9h0M274.5 119.8h0M282.7 114.3h0M280.4 120.3h0M279.6 119.4h0M282.2 112.4h0M282.1 116.3h0M285.3 111.9h0M265.5 105.3h0M281.8 117.9h0M283.6 113.4h0M275.8 124.6h0M270.2 118.6h0M284.6 113.9h0M276.7 121.6h0M274.5 123.5h0M282.2 118.0h0M274.5 123.6h0M274.2 122.0h0M277.9 124.0h0M270.6 114.4h0M273.0 123.6h0M285.7 106.7h0M281.4 117.4h0M279.2 119.2h0M271.5 122.6h0M283.9 119.6h0M280.5 121.2h0M268.3 110.5h0M279.2 117.9h0M274.5 124.3h0M286.8 105.3h0M276.7 120.6h0M279.1 118.4h0M271.4 114.7h0M279.9 122.9h0M272.0 119.0h0M280.8 120.6h0M267.4 110.4h0M273.0 124.1h0M286.0 106.4h0M277.9 124.5h0M285.7 106.7h0M278.9 119.0h0M277.9 121.9h0M278.1 120.6h0M288.0 105.6h0M270.6 121.7h0M284.7 112.3h0M267.5 109.0h0M279.7 120.9h0M268.6 117.3h0M283.8 118.2h0M266.9 105.9h0M274.7 121.9h0M283.7 120.2h0M282.1 115.7h0M281.5 122.5h0M276.4 120.9h0M270.6 113.9h0M268.4 116.1h0M280.6 117.5h0M268.2 110.5h0M278.1 120.8h0M285.3 107.2h0M277.2 120.3h0M283.8 107.0h0M268.6 114.6h0M281.0 114.7h0M269.1 117.0h0M268.4 113.4h0M275.9 120.6h0M267.9 114.5h0M279.4 122.6h0M280.4 115.9h0M264.9 102.5h0M281.9 121.0h0M285.0 108.2h0M271.7 117.1h0M283.8 118.7h0M279.0 119.4h0M272.6 119.0h0M281.5 118.9h0M266.8 104.3h0M281.5 113.7h0M282.1 122.2h0M282.4 113.2h0M282.8 116.9h0M271.8 120.8h0M282.5 114.4h0M269.1 118.2h0M280.8 121.6h0M273.8 122.5h0M266.6 108.0h0M276.2 124.8h0M275.3 121.1h0M282.8 118.8h0M278.7 120.8h0M283.2 117.5h0M278.4 122.7h0M268.3 113.3h0M272.7 117.5h0M282.2 116.0h0M280.3 122.3h0M272.5 118.8h0M273.2 122.5h0M282.1 120.3h0M269.7 118.6h0M281.6 114.3h0M272.1 122.0h0M282.3 112.6h0M282.9 114.4h0M271.9 118.7h0M267.2 110.1h0M268.9 119.4h0M265.3 102.7h0M269.1 119.3h0M286.0 103.6h0M284.8 113.7h0M280.2 117.9h0M270.7 116.8h0M284.8 112.8h0M288.0 103.1h0M266.2 108.0h0M264.8 103.3h0M269.9 119.5h0M274.1 124.3h0M278.2 122.6h0M280.4 119.8h0M272.5 123.3h0M270.0 117.7h0M276.8 122.6h0M271.8 120.9h0M275.3 120.9h0M285.4 107.7h0M280.9 118.7h0M278.1 122.8h0M283.0 114.2h0M287.6 105.5h0M280.8 114.9h0M276.4 124.7h0M269.5 111.4h0M276.0 121.9h0M269.0 112.2h0M283.9 111.8h0M270.9 115.6h0M274.0 123.5h0M277.7 119.9h0M271.4 123.1h0M268.7 113.3h0M275.8 123.7h0M270.5 119.3h0M270.1 114.3h0M282.4 112.0h0M281.7 119.1h0M278.5 123.1h0M283.7 109.7h0M278.1 120.4h0M271.7 118.3h0M276.7 124.5h0M280.9 120.8h0M285.6 105.0h0M282.7 114.7h0M267.9 114.8h0M280.8 117.2h0M277.0 122.4h0M279.1 121.5h0M264.6 104.4h0M275.3 123.0h0M280.8 115.8h0M268.9 119.8h0M268.3 114.3h0M277.7 122.2h0M273.8 123.0h0M283.5 117.5h0M278.5 121.2h0M268.0 113.3h0M274.8 122.5h0M278.5 121.0h0M273.1 121.9h0M283.9 119.6h0M281.1 121.4h0M282.6 116.5h0M283.6 119.8h0M282.5 117.9h0M282.7 110.3h0M284.5 110.5h0M271.0 121.6h0M281.0 121.0h0M271.6 117.0h0M280.7 118.9h0M279.0 123.9h0M271.6 114.6h0M270.9 113.2h0M281.4 119.5h0M274.6 122.8h0M271.1 115.2h0M272.7 123.7h0M277.9 123.2h0M280.3 117.0h0M282.7 119.3h0M277.9 121.2h0M278.8 121.9h0M276.8 120.4h0M284.0 110.1h0M284.2 114.8h0M278.1 124.6h0M275.2 122.4h0M287.7 103.8h0M272.3 117.2h0M269.4 119.5h0M275.7 123.5h0M275.4 121.3h0M272.7 124.6h0M268.5 111.1h0M266.9 106.0h0M281.5 117.7h0M268.8 113.2h0M279.2 122.4h0M279.0 120.9h0M271.0 116.7h0M283.6 115.4h0M269.1 116.8h0M278.7 123.3h0M284.9 105.6h0M272.8 121.0h0M270.9 115.1h0M267.1 110.3h0M280.1 122.5h0M280.6 118.6h0M271.9 116.7h0M268.0 114.9h0M274.9 119.5h0M271.2 115.1h0M281.1 118.0h0M280.9 122.9h0M271.9 121.3h0M270.4 116.6h0M270.6 115.3h0M271.0 118.9h0M273.2 121.1h0M280.1 123.7h0M267.4 114.3h0M271.0 122.0h0M268.2 115.2h0M265.0 105.1h0M270.7 112.0h0M284.2 117.2h0M272.7 123.8h0M271.3 114.6h0M280.5 120.5h0M282.2 111.6h0M270.9 118.2h0M268.8 113.2h0M284.1 114.4h0M273.3 120.7h0M273.8 118.7h0M277.4 123.1h0M271.4 122.9h0M270.7 120.7h0M283.1 114.9h0M273.7 119.5h0M285.9 110.5h0M271.5 116.0h0M286.5 107.5h0M281.6 113.1h0M271.6 119.4h0M271.3 122.8h0M273.8 118.5h0M281.3 118.2h0M274.5 123.2h0M275.6 122.2h0M268.9 111.7h0M283.5 120.0h0M273.7 124.1h0M275.5 120.9h0M272.3 117.4h0M286.4 102.2h0M273.5 124.3h0M270.6 114.7h0M265.4 103.2h0M264.3 102.4h0M271.8 116.7h0M282.2 113.2h0M271.0 115.4h0M275.3 124.5h0M274.6 120.8h0M266.4 105.2h0M278.9 123.3h0M277.5 122.2h0M283.4 116.7h0M269.0 108.6h0M271.9 119.8h0M281.5 116.8h0M285.3 111.5h0M273.1 124.5h0M280.4 115.6h0M275.9 122.7h0M285.7 103.6h0M268.2 114.8h0M285.7 108.0h0M273.0 118.4h0M276.8 123.3h0M270.6 121.7h0M277.9 123.1h0M267.7 114.1h0M284.7 109.7h0M272.2 118.7h0M267.8 111.5h0M280.6 121.7h0M282.7 118.9h0M283.3 119.3h0M281.9 118.2h0M274.6 124.0h0M282.1 122.1h0M277.9 123.1h0M269.7 115.7h0M282.2 118.3h0M270.3 116.6h0M273.4 121.8h0M280.5 122.9h0M267.4 115.7h0M268.2 112.2h0M278.9 122.8h0M282.4 118.2h0M287.8 103.0h0M286.1 108.0h0M279.8 122.5h0M272.7 118.4h0M285.1 109.9h0M271.3 116.8h0M279.6 124.4h0M282.0 119.8h0M272.9 120.6h0M276.5 120.1h0M284.2 112.5h0M270.4 113.2h0M266.0 102.3h0M278.4 119.2h0M266.8 105.6h0M283.6 117.9h0M284.4 112.6h0M272.9 122.0h0M285.2 109.7h0M280.3 119.5h0M286.2 104.7h0M271.4 120.5h0M280.8 119.5h0M272.2 118.0h0M267.6 109.4h0M282.7 114.6h0M282.4 121.0h0M283.5 118.3h0M267.4 111.0h0M267.5 109.0h0M267.4 114.4h0M275.2 120.5h0M266.2 106.6h0M271.4 119.7h0M281.4 114.7h0M269.6 112.6h0M282.8 115.3h0M273.4 123.5h0M280.6 121.6h0M268.9 113.1h0M283.5 115.6h0M284.7 111.3h0M268.2 115.1h0M284.5 115.5h0M285.9 109.6h0M285.4 106.2h0M283.3 120.7h0M282.7 111.7h0M289.3 102.5h0M274.8 123.0h0M274.6 119.2h0M271.1 117.5h0M272.4 117.2h0M286.1 109.9h0M276.1 124.4h0M277.6 123.4h0M268.4 113.6h0M273.0 121.0h0M278.3 118.9h0M276.4 122.4h0M264.7 103.2h0M270.6 118.2h0M274.7 123.5h0M285.7 108.4h0M270.0 117.3h0M276.6 121.0h0M279.5 123.1h0M279.5 124.4h0M269.8 110.0h0M278.1 122.7h0M269.7 121.2h0M282.5 118.1h0M271.6 123.5h0M281.5 114.7h0M281.1 116.1h0M271.0 116.1h0M282.4 120.2h0M276.6 120.9h0M284.5 113.9h0M284.0 116.9h0M266.3 107.4h0M273.0 122.4h0M282.6 113.6h0M277.6 121.4h0M278.5 120.8h0M272.8 124.1h0M286.9 105.4h0M279.9 122.3h0M277.6 121.5h0M272.6 120.0h0M268.8 119.2h0M270.3 112.1h0M272.5 123.1h0M276.0 123.2h0M271.0 121.6h0M269.1 109.6h0M283.9 111.8h0M268.3 108.2h0M278.8 118.3h0M274.7 124.7h0M280.7 116.8h0M282.2 120.7h0M272.7 122.7h0M281.5 120.5h0M283.5 114.7h0M282.6 117.0h0M283.2 114.5h0M269.6 116.4h0M280.7 117.0h0M283.2 117.5h0M284.0 113.3h0M283.9 115.1h0M282.7 115.6h0M270.3 120.4h0M272.4 121.6h0M282.9 113.6h0M269.3 116.0h0M270.4 113.9h0M277.6 120.5h0M278.2 124.5h0M268.1 113.4h0M275.0 122.0h0M282.9 114.0h0M279.8 124.0h0M276.9 123.0h0M272.0 122.9h0M279.8 122.3h0M283.0 112.8h0M279.3 124.0h0M280.0 120.6h0M284.3 117.7h0M281.8 117.7h0M280.9 115.6h0M268.3 117.6h0M279.5 122.8h0M272.9 123.1h0M281.6 113.2h0M269.3 120.6h0M272.7 122.7h0M274.0 120.6h0M281.6 122.7h0M267.7 113.9h0M281.4 121.7h0M280.4 117.2h0M278.6 119.5h0M268.7 117.2h0M265.1 106.0h0M271.8 118.5h0M272.9 122.4h0M267.8 115.3h0M278.0 120.6h0M278.8 121.0h0M284.7 112.2h0M271.7 121.3h0M282.0 120.4h0M281.7 119.4h0M284.8 113.5h0M271.3 113.9h0M278.5 119.7h0M276.9 124.9h0M274.6 124.7h0M272.4 122.5h0M274.2 119.1h0M273.0 118.5h0M271.3 115.1h0M273.4 118.3h0M279.8 122.4h0M281.0 115.1h0M275.7 122.3h0M276.7 120.2h0M276.3 124.2h0M272.1 116.3h0M267.4 112.6h0M271.1 120.5h0M278.0 123.7h0M277.6 120.1h0M275.4 122.4h0M277.9 121.9h0M284.0 116.0h0M281.6 116.4h0M282.6 116.5h0M282.1 119.3h0M281.1 116.6h0M274.0 118.8h0M281.6 119.9h0M281.1 123.0h0M268.5 109.9h0M269.6 120.0h0M269.8 111.5h0M284.6 109.0h0M271.9 119.5h0M270.2 115.9h0M281.0 118.3h0M285.4 112.7h0M274.7 124.7h0M284.8 110.0h0M273.9 121.5h0M275.8 121.7h0M282.2 115.0h0M278.1 121.2h0M271.1 118.4h0M274.3 122.9h0M277.2 124.4h0M283.3 118.6h0M272.1 122.3h0M285.4 107.4h0M277.1 123.8h0M278.0 122.8h0M265.3 105.7h0M273.0 121.0h0M269.6 116.1h0M276.1 124.0h0M283.6 115.2h0M283.7 118.2h0M283.8 111.8h0M270.1 114.9h0M284.6 115.6h0M270.2 118.6h0M272.9 117.4h0M269.8 113.8h0M280.1 119.8h0M281.9 115.4h0M279.5 122.8h0M283.6 110.1h0M280.8 116.9h0M281.7 122.7h0M270.3 121.5h0M270.3 120.1h0M276.6 123.3h0M281.2 118.6h0M281.3 118.2h0M283.7 117.4h0M281.7 119.9h0M281.6 121.6h0M281.9 114.2h0M271.1 119.3h0M274.0 124.8h0M269.5 113.8h0M273.1 124.5h0M271.2 116.7h0M269.8 118.1h0M285.9 107.1h0M285.2 107.8h0M280.2 120.0h0M283.9 117.2h0M273.1 122.6h0M272.2 117.8h0M283.4 120.9h0M280.8 119.6h0M268.9 119.6h0M267.6 107.6h0M271.8 117.2h0M284.3 111.2h0M278.6 119.6h0M277.1 119.8h0M286.1 103.6h0M280.6 120.3h0M276.8 123.6h0M276.0 121.3h0M271.0 114.2h0M283.7 119.2h0M268.7 113.4h0M282.7 115.4h0M284.8 108.1h0M275.6 122.2h0M283.5 109.3h0M280.3 121.8h0M271.8 119.3h0M286.1 105.6h0M282.9 120.4h0M282.8 117.4h0M278.4 120.2h0M273.6 122.7h0M268.3 118.0h0M279.8 123.7h0M274.3 123.9h0M277.8 119.4h0M279.7 120.4h0M270.2 112.0h0M279.9 118.7h0M275.2 120.3h0M277.4 121.0h0M283.8 108.8h0M269.7 113.3h0M281.2 117.1h0M281.5 122.3h0M281.9 117.3h0M272.5 123.6h0M280.9 122.8h0M280.1 119.8h0M279.5 123.6h0M279.7 123.7h0M270.5 117.6h0M281.8 113.0h0M274.6 121.7h0M283.8 111.4h0M276.6 122.4h0M275.5 119.2h0M279.5 120.1h0M284.7 113.9h0M284.4 117.3h0M270.1 117.3h0M272.1 123.4h0M274.4 121.9h0M281.3 120.9h0M284.3 115.2h0M269.0 110.5h0M285.0 107.0h0M268.0 111.6h0M268.8 112.2h0M268.4 111.7h0M281.3 116.0h0M279.3 123.8h0M274.7 123.0h0M278.2 124.0h0M282.7 115.1h0M268.1 115.4h0M272.6 122.4h0M278.6 120.7h0M280.5 122.4h0M267.1 111.4h0M270.5 113.7h0M271.6 115.3h0M281.5 116.1h0M281.2 118.5h0M283.5 119.0h0M279.7 122.5h0M270.3 118.5h0M269.4 117.2h0M269.3 116.4h0M271.8 123.3h0M266.3 107.1h0M281.0 115.2h0M280.5 115.7h0M272.2 121.2h0M282.5 118.4h0M272.4 116.3h0M274.5 121.8h0M268.4 115.7h0M281.9 117.1h0M282.0 113.5h0M271.3 117.8h0M268.8 115.4h0M265.4 104.6h0M267.7 116.0h0M277.4 125.2h0M277.5 123.3h0M271.7 119.9h0M279.9 119.1h0M270.7 116.9h0M270.3 119.1h0M271.0 119.1h0M280.9 123.2h0M269.3 112.0h0M279.0 118.3h0M287.4 105.4h0M286.6 107.8h0M266.9 102.8h0M269.4 115.9h0M277.4 123.6h0M282.1 119.5h0M273.1 118.0h0M276.2 121.2h0M274.9 124.3h0M268.6 114.5h0M270.7 113.6h0M274.8 121.9h0M277.9 124.5h0M284.7 114.7h0M271.4 115.7h0M277.9 122.8h0M271.5 122.2h0M277.1 121.1h0M271.4 116.3h0M282.8 110.9h0M268.8 112.0h0M272.6 121.6h0M273.2 120.2h0M272.0 117.9h0M268.6 116.5h0M270.9 121.5h0M277.4 120.1h0M282.4 116.8h0M282.2 116.2h0M268.8 114.5h0M269.9 117.8h0M278.0 124.4h0M280.9 121.6h0M281.0 117.7h0M280.7 120.6h0M271.2 121.0h0M269.0 110.2h0M281.7 121.8h0M283.1 113.6h0M268.3 115.0h0M282.8 115.5h0M285.3 106.3h0M284.6 109.6h0M281.0 120.1h0M283.4 118.0h0M279.0 123.0h0M277.4 121.8h0M283.7 109.3h0M271.5 121.6h0M275.0 120.4h0M280.6 121.7h0M282.7 111.9h0M278.1 122.4h0M282.8 116.9h0M273.8 122.0h0M268.1 110.9h0M270.3 122.1h0M271.2 116.9h0M285.8 103.8h0M283.7 115.2h0M271.4 117.2h0M267.1 114.4h0M278.8 119.7h0M272.7 122.5h0M269.5 114.5h0M283.8 109.4h0M270.6 121.5h0M269.4 118.8h0M282.3 111.8h0M275.7 121.0h0M275.2 120.1h0M274.3 120.3h0M271.3 122.6h0M284.8 108.3h0M268.0 116.0h0M270.4 115.9h0M268.1 114.0h0M268.8 110.5h0M279.1 118.3h0M287.0 102.5h0M274.0 125.1h0M272.1 121.0h0M269.8 122.0h0M281.9 117.0h0M270.8 113.8h0M282.0 111.5h0M268.0 106.3h0M273.6 118.8h0M283.0 118.6h0M270.1 118.0h0M276.4 124.7h0M278.0 118.9h0M269.9 115.0h0M280.1 123.7h0M282.2 120.7h0M271.6 122.4h0M277.4 123.3h0M275.2 120.3h0M282.6 119.1h0M276.8 122.7h0M284.5 115.9h0M284.0 115.9h0M267.6 114.9h0M276.9 124.2h0M282.2 122.4h0M267.5 106.7h0M273.1 122.2h0M281.1 121.7h0M268.8 118.8h0M269.5 112.9h0M274.7 118.8h0M277.5 124.3h0M273.5 119.9h0M264.1 103.5h0M280.6 121.3h0M283.2 115.3h0M269.8 120.6h0M275.7 123.8h0M279.0 120.1h0M281.3 118.3h0M285.5 110.7h0M270.8 121.8h0M284.0 110.0h0M270.6 122.5h0M278.8 120.5h0M280.4 119.5h0M286.3 103.0h0M271.8 120.1h0M280.8 120.4h0M275.7 124.4h0M274.5 121.5h0M271.3 116.4h0M280.9 114.6h0M274.8 119.0h0M266.4 105.4h0M277.1 123.9h0M271.2 116.3h0M277.9 119.8h0M282.0 118.1h0M283.1 120.3h0M273.1 122.6h0M272.2 122.7h0M272.5 123.2h0M279.8 117.4h0M276.8 122.1h0M269.4 110.3h0M283.8 116.0h0M279.7 121.1h0M270.6 122.3h0M280.1 121.7h0M283.4 117.2h0M273.7 121.0h0M275.5 122.6h0M268.3 117.8h0M274.5 123.4h0M279.8 119.0h0M270.2 118.3h0M286.2 104.0h0M270.8 115.1h0M277.7 124.8h0M275.9 124.2h0M276.7 124.7h0M272.0 117.5h0M268.4 117.4h0M280.1 117.2h0M269.5 109.3h0M272.5 122.2h0M281.6 117.9h0M268.8 110.2h0M285.0 114.9h0M269.5 119.9h0M274.5 124.0h0M279.6 123.6h0M286.8 103.3h0M278.3 122.5h0M278.1 124.2h0M281.5 113.4h0M283.0 117.5h0M280.4 118.9h0M282.5 116.2h0M270.0 121.3h0M274.3 119.7h0M277.6 120.7h0M269.9 121.9h0M280.7 115.1h0M270.2 119.6h0M273.8 119.8h0M269.7 116.8h0M267.9 115.8h0M268.1 113.4h0M268.4 115.3h0M277.4 120.6h0M275.3 123.4h0M268.8 116.7h0M278.2 121.5h0M271.1 119.5h0M284.4 110.0h0M273.9 123.7h0M269.5 120.1h0M270.0 121.9h0M283.1 118.6h0M283.4 118.2h0M271.7 121.0h0M284.9 105.0h0M280.3 117.5h0M276.4 122.3h0M268.1 113.4h0M281.5 115.7h0M282.4 119.4h0M282.5 113.7h0M269.9 113.9h0M281.3 120.2h0M267.9 107.8h0M270.0 115.6h0M276.2 123.7h0M271.6 121.7h0M274.5 124.3h0M282.5 116.0h0M272.1 122.5h0M270.5 119.2h0M281.3 118.7h0M277.6 124.0h0M286.4 105.3h0M280.3 120.2h0M271.3 120.7h0M274.9 122.3h0M283.8 113.8h0M279.2 122.7h0M275.2 124.8h0M268.9 111.9h0M277.2 121.0h0M274.0 119.9h0M270.2 113.8h0M283.3 113.3h0M269.5 117.9h0M284.6 110.5h0M271.8 118.9h0M274.2 119.4h0M282.8 116.5h0M271.7 117.9h0M271.6 120.7h0M268.2 114.1h0M268.1 115.6h0M270.9 122.1h0M272.1 117.0h0M281.7 117.7h0M272.2 117.7h0M272.6 117.5h0M281.9 115.0h0M273.3 119.0h0M280.4 117.9h0M267.8 108.3h0M278.9 123.7h0M281.6 114.2h0M273.0 123.8h0M279.1 124.6h0M266.8 110.0h0M273.4 122.7h0M274.7 123.5h0M267.5 112.4h0M278.6 120.0h0M279.3 119.2h0M271.4 116.9h0M281.9 118.4h0M267.8 114.5h0M270.4 119.0h0M284.0 113.0h0M276.0 120.5h0M276.5 122.8h0M267.9 113.6h0M284.5 104.6h0M284.2 111.7h0M277.8 123.3h0M283.0 118.9h0M283.7 116.1h0M280.5 117.4h0M283.2 112.0h0M268.4 115.9h0M284.3 109.3h0M280.7 120.1h0M282.3 117.8h0M283.2 109.0h0M272.5 121.4h0M269.3 117.1h0M269.3 116.6h0M280.1 120.6h0M269.1 114.6h0M284.1 114.0h0M282.1 116.6h0M273.6 121.9h0M273.8 121.1h0M271.5 117.8h0M274.4 121.2h0M267.9 115.4h0M283.5 114.5h0M278.5 123.0h0M283.4 116.6h0M283.1 115.5h0M283.3 115.8h0M269.7 113.0h0M271.4 115.5h0M271.3 122.4h0M275.9 121.0h0M271.6 115.6h0M270.1 113.2h0M272.7 121.3h0M273.3 119.0h0M278.7 122.7h0M271.0 114.8h0M285.0 112.4h0M278.8 124.2h0M284.1 111.5h0M273.0 121.1h0M277.2 120.1h0M271.5 119.4h0M268.3 108.4h0M282.2 120.0h0M270.1 112.4h0M282.2 115.0h0M271.9 115.8h0M280.5 115.8h0M269.9 117.6h0M278.0 124.3h0M275.5 119.2h0M281.5 120.0h0M275.9 122.0h0M283.8 114.9h0M275.5 121.9h0M280.5 122.0h0M271.2 123.2h0M269.3 120.1h0M269.7 119.3h0M266.2 106.2h0M276.0 123.3h0M281.2 114.5h0M273.0 121.1h0M269.6 111.9h0M273.0 119.6h0M280.6 116.4h0M282.0 115.9h0M268.5 113.0h0M267.8 110.4h0M284.1 117.4h0M268.7 117.8h0M269.7 120.2h0M277.5 119.1h0M267.9 108.2h0M272.7 120.7h0M283.9 116.5h0M267.0 104.0h0M266.7 102.7h0M286.2 102.6h0M263.9 103.7h0M263.0 103.7h0M286.0 103.0h0M289.6 103.3h0M286.3 103.1h0M288.2 103.0h0" stroke="#3d3d3d" stroke-width="1.1" stroke-linecap="round" fill="none"/>
<path d="M298.5 111.4h0M300.4 106.3h0M300.1 108.2h0M259.8 109.9h0M254.7 110.4h0M301.3 104.3h0M303.6 104.7h0M294.4 112.0h0" stroke="#2e9e3e" stroke-width="0.85" stroke-linecap="round" fill="none"/>
<path d="M264.7 102.1h0M265.9 101.6h0M290.1 100.0h0M264.2 101.1h0M263.7 101.4h0M265.9 101.6h0M265.7 101.9h0M263.8 98.6h0M290.7 98.1h0M262.4 88.2h0M263.9 92.9h0M262.8 92.3h0M286.9 102.1h0M287.4 101.8h0M287.7 100.7h0M288.6 98.3h0M289.0 99.2h0M263.4 95.6h0M290.7 99.7h0M287.6 98.9h0M263.5 93.3h0M263.1 100.4h0M263.4 99.3h0M288.6 99.6h0M288.4 101.4h0M291.0 96.9h0M290.4 99.8h0M264.0 99.2h0M287.1 102.0h0M263.9 99.5h0M262.0 89.5h0M290.0 98.7h0M263.7 96.1h0M288.4 101.3h0M262.9 96.5h0M290.1 101.4h0M289.4 100.2h0M262.0 90.8h0M288.0 99.1h0M264.1 97.5h0M289.6 100.1h0M264.6 100.0h0M287.3 100.6h0M288.5 94.6h0M262.2 100.8h0M263.9 92.9h0M288.8 93.7h0M264.8 98.4h0M264.0 100.1h0M291.5 94.6h0M264.7 99.7h0M291.3 94.0h0M265.4 99.8h0M263.9 102.1h0M290.2 97.2h0M262.8 96.4h0M291.7 96.0h0M291.1 92.0h0M261.8 98.0h0M292.0 94.5h0M287.6 101.3h0M290.1 96.1h0M291.5 95.9h0M289.2 93.0h0M263.4 88.5h0M291.3 97.7h0M287.9 95.7h0M289.3 91.7h0M289.9 88.6h0M265.7 98.1h0M263.3 93.5h0M287.1 101.8h0M263.6 96.1h0M289.8 101.8h0M288.5 91.2h0M265.0 97.2h0M288.8 100.2h0M266.6 101.2h0M289.7 90.6h0M265.3 96.6h0M263.8 99.9h0M290.2 89.1h0M264.5 100.2h0M287.7 99.8h0M262.6 98.1h0M289.7 94.0h0M263.2 101.1h0M291.3 96.2h0M290.3 94.4h0M262.0 92.7h0M289.0 100.0h0M265.2 98.9h0M264.1 96.7h0M264.3 101.1h0M289.2 97.0h0M289.6 98.1h0M264.7 93.1h0M266.2 99.6h0M287.3 101.1h0M289.8 95.2h0M263.9 91.3h0M264.6 96.3h0M290.6 91.1h0M289.6 97.4h0M264.9 94.7h0M263.4 94.5h0M288.7 90.5h0M287.8 98.3h0M266.1 101.7h0M264.3 100.4h0M289.0 91.4h0" stroke="#3867cc" stroke-width="0.95" stroke-linecap="round" fill="none"/>
<path d="M261.6 98.0h0M261.4 100.9h0M261.3 93.6h0M260.7 90.4h0M260.4 92.7h0M260.8 89.8h0M261.2 95.1h0M257.1 79.1h0M252.1 88.0h0M258.0 85.5h0M256.2 91.5h0M250.8 99.6h0M247.7 93.6h0M245.8 96.0h0M239.3 94.9h0M256.1 83.7h0M259.4 92.4h0M259.6 80.6h0M245.7 78.7h0M259.4 96.6h0M258.9 78.0h0M242.1 97.3h0M257.6 98.2h0M242.2 83.8h0M247.6 80.9h0M239.5 90.8h0M243.5 85.3h0M239.7 96.5h0M241.9 91.1h0M256.5 79.1h0M249.8 89.0h0M252.8 87.3h0M245.3 98.5h0M296.3 94.2h0M294.4 98.5h0M295.7 97.1h0M292.8 82.7h0M295.8 92.7h0M293.1 92.9h0" stroke="#e8302a" stroke-width="0.85" stroke-linecap="round" fill="none"/>
<path d="M212.6 28.4V128.5H341" stroke="#1a1a1a" stroke-width="1" fill="none"/>
<path d="M238.5 128.5v3.3M277.2 128.5v3.3M315.9 128.5v3.3M212.6 124.5h-3.3M212.6 101.25h-3.3M212.6 78h-3.3M212.6 54.75h-3.3M212.6 31.5h-3.3" stroke="#1a1a1a" stroke-width=".9" fill="none"/>
<text transform="translate(237.3 141.25) scale(.92 1)" font-size="8.1" fill="#303030" stroke="#303030" stroke-width=".12" text-anchor="middle">−1</text>
<text transform="translate(277.2 141.25) scale(.92 1)" font-size="8.1" fill="#303030" stroke="#303030" stroke-width=".12" text-anchor="middle">0</text>
<text transform="translate(315.9 141.25) scale(.92 1)" font-size="8.1" fill="#303030" stroke="#303030" stroke-width=".12" text-anchor="middle">1</text>
<text transform="translate(206.4 127.15) scale(.92 1)" font-size="8.1" fill="#303030" stroke="#303030" stroke-width=".12" text-anchor="end">0</text>
<text transform="translate(206.4 103.9) scale(.92 1)" font-size="8.1" fill="#303030" stroke="#303030" stroke-width=".12" text-anchor="end">25</text>
<text transform="translate(206.4 80.65) scale(.92 1)" font-size="8.1" fill="#303030" stroke="#303030" stroke-width=".12" text-anchor="end">50</text>
<text transform="translate(206.4 57.4) scale(.92 1)" font-size="8.1" fill="#303030" stroke="#303030" stroke-width=".12" text-anchor="end">75</text>
<text transform="translate(206.4 34.15) scale(.92 1)" font-size="8.1" fill="#303030" stroke="#303030" stroke-width=".12" text-anchor="end">100</text>
<text x="277" y="22.5" font-size="7.85" fill="#333" text-anchor="middle">Eight days post-infusion</text>
<text x="277.2" y="154.05" font-size="8.6" fill="#303030" stroke="#303030" stroke-width=".25" text-anchor="middle" textLength="51" lengthAdjust="spacingAndGlyphs">Log<tspan font-size="6" dy="2">2</tspan><tspan dy="-2"> fold change</tspan></text>
<text transform="translate(186.5 78.2) rotate(-90)" font-size="8.4" fill="#303030" stroke="#303030" stroke-width=".25" text-anchor="middle" textLength="33.5" lengthAdjust="spacingAndGlyphs">-Log<tspan font-size="6" dy="2">10</tspan><tspan dy="-2"> FDR</tspan></text>
<g transform="scale(.25)" font-size="17" fill="#0c0c0c" stroke="#0c0c0c" stroke-width=".3" text-anchor="middle"><text x="1038" y="156.4">H2-K1</text><text x="1252" y="178.4">Tnfsf8</text><text x="1210" y="202.6">mt-Atp8</text><text x="935" y="233.6">Chil9</text><text x="1022" y="243.6">Gapdh</text><text x="1215" y="242.6">Batf</text><text x="1185" y="255.6">Ermn</text><text x="1206.4" y="268.6">F1r2</text><text x="1032" y="280.6">Tsp100</text><text x="982" y="290.6">Aoc3</text><text x="1160" y="285.6">Gm10260</text><text x="1210" y="295.6">Rpl4</text><text x="1019.2" y="301.6">Zfp36</text><text x="1140" y="307.6">Dnase1l3</text><text x="1200" y="307.6">Ikzrk</text><text x="1242" y="307.6">Suph2</text><text x="928" y="327.6">Ly6c2</text><text x="975" y="323.6">Foxp3</text><text x="1019.2" y="326.8">Ccl5</text><text x="1130" y="320.6">Rpl32</text><text x="1175" y="320.6">Npnp</text><text x="1220" y="325.6">Arap2</text><text x="892" y="348.6">Ccl5</text><text x="1052.8" y="342.6">Tgm18</text><text x="1110" y="348.6">Rpl</text><text x="1140" y="333.6">Cd81</text><text x="1205" y="342.6">Mbnl.kif2</text><text x="1152" y="358.6">Spn.ptprc</text><text x="1198" y="358.6">Ccl2</text><text x="1140" y="370.6">Emba8</text></g>
</g>
<g>
<path d="M437.38 27.2V128.5M475.62 27.2V128.5M399.12 27.2V128.5M513.88 27.2V128.5M393.5 115.1H520M393.5 96.3H520M393.5 77.5H520M393.5 58.7H520M393.5 39.9H520" stroke="#f5f5f5" stroke-width=".35" fill="none"/>
<path d="M418.25 27.2V128.5M456.5 27.2V128.5M494.75 27.2V128.5M393.5 124.5H520M393.5 105.7H520M393.5 86.9H520M393.5 68.1H520M393.5 49.3H520M393.5 30.5H520" stroke="#efefef" stroke-width=".6" fill="none"/>
<path d="M442.27 27.2V128.5M470.42 27.2V128.5M393.5 109.46H520" stroke="#cdcdcd" stroke-width="1" fill="none"/>
<path d="M475.6 115.5h0M480.2 117.7h0M439.3 117.0h0M440.4 121.5h0M473.7 122.2h0M483.3 111.7h0M437.4 112.5h0M471.8 118.5h0" stroke="#9a9a9a" stroke-width="0.85" stroke-linecap="round" fill="none"/>
<path d="M445.2 110.4h0M449.6 111.5h0M466.0 112.7h0M459.7 117.2h0M445.5 114.9h0M455.3 120.7h0M456.7 122.5h0M447.4 116.6h0M464.1 123.5h0M446.0 113.9h0M454.1 112.6h0M457.8 119.9h0M455.2 111.4h0M459.8 116.2h0M464.2 112.2h0M470.5 109.1h0M451.0 122.4h0M461.6 118.4h0M463.0 121.8h0M451.2 122.1h0M442.8 109.2h0M471.0 111.7h0M451.4 115.2h0M451.9 110.4h0M468.7 114.0h0M459.7 114.1h0M456.4 123.1h0M465.2 112.4h0M443.6 109.8h0M463.3 115.3h0M453.6 110.4h0M445.4 112.4h0M461.9 115.4h0M469.8 114.9h0M448.8 111.4h0M461.0 119.5h0M451.4 113.7h0M464.3 116.4h0M463.7 121.6h0M449.1 116.0h0M466.9 109.9h0M461.8 114.5h0M462.6 122.7h0M466.6 114.6h0M455.2 110.6h0M464.8 122.7h0M468.3 118.3h0M445.7 110.6h0M467.4 113.4h0M454.2 113.1h0M456.7 120.0h0M447.0 113.7h0M463.0 122.0h0M451.2 122.3h0M468.1 113.4h0M450.7 111.3h0M459.1 116.5h0M454.3 124.9h0M460.5 125.0h0M448.4 112.1h0M448.0 116.7h0M464.4 120.5h0M464.6 119.6h0M459.2 110.3h0M469.5 112.6h0M448.7 120.2h0M467.5 117.8h0M447.6 119.9h0M470.8 109.3h0M460.9 117.7h0M460.4 117.9h0M470.9 111.8h0M465.6 118.6h0M465.7 111.6h0M444.3 109.8h0M453.5 117.8h0M445.2 114.2h0M448.4 109.6h0M448.9 118.0h0M467.7 116.6h0M446.4 117.3h0M451.4 116.8h0M457.1 111.7h0M467.4 114.2h0M470.8 109.7h0M463.3 119.2h0M448.9 113.2h0M458.6 122.4h0M463.3 117.2h0M444.2 112.3h0M462.5 119.9h0M453.4 112.9h0M459.9 121.7h0M462.2 116.8h0M462.2 119.0h0M457.9 110.9h0M458.9 121.5h0M448.5 117.3h0M457.1 113.8h0M446.4 115.8h0M456.7 113.4h0M458.3 109.4h0M465.2 117.7h0M454.2 116.5h0M443.3 111.1h0M458.1 112.3h0M448.7 117.2h0M464.3 114.7h0M454.0 121.8h0M453.8 114.4h0M469.2 112.8h0M454.2 109.2h0M452.9 109.9h0M452.8 115.8h0M456.7 122.5h0M445.4 114.5h0M458.6 116.5h0M469.5 110.4h0M459.1 110.8h0M464.4 110.8h0M470.3 110.1h0M467.2 115.1h0M464.4 115.2h0M466.4 118.2h0M466.6 114.4h0M450.1 118.0h0M456.7 116.3h0M452.7 124.2h0M450.3 122.2h0M459.3 114.6h0M452.0 117.9h0M460.7 121.5h0M459.7 109.6h0M445.8 117.2h0M455.6 110.1h0M454.1 111.6h0M463.3 124.1h0M445.3 110.0h0M447.6 112.4h0M457.6 121.7h0M454.5 114.1h0M462.1 110.1h0M452.4 123.7h0M448.5 118.0h0M469.8 114.2h0M449.8 110.9h0M447.0 118.3h0M450.9 122.4h0M452.6 123.3h0M449.3 111.3h0M458.3 122.0h0M470.0 109.3h0M446.4 118.3h0M454.8 117.8h0M462.2 122.6h0M468.4 116.4h0M471.8 109.3h0M446.9 113.7h0M458.3 121.7h0M468.3 115.1h0M444.3 109.7h0M459.8 115.5h0M447.8 120.8h0M465.1 119.2h0M470.0 111.2h0M458.4 120.2h0M443.0 110.1h0M444.6 114.1h0M454.8 119.5h0M467.4 113.2h0M449.6 116.4h0M462.2 121.0h0M454.5 122.7h0M450.4 119.2h0M463.2 110.9h0M451.7 123.1h0M453.5 123.8h0M465.0 121.7h0M457.1 116.3h0M465.5 122.0h0M457.7 120.3h0M447.4 116.9h0M455.6 118.4h0M468.1 114.5h0M459.2 111.7h0M470.8 111.5h0M442.8 109.4h0M452.6 112.4h0M465.1 119.7h0M462.7 122.3h0M459.0 124.9h0M462.0 109.7h0M468.2 112.2h0M462.6 114.8h0M458.6 123.8h0M459.1 111.8h0M462.1 123.7h0M452.1 113.8h0M462.2 111.7h0M460.6 117.7h0M465.6 119.8h0M456.7 109.5h0M443.5 111.7h0M458.3 120.9h0M467.7 113.1h0M461.3 114.9h0M461.4 121.9h0M454.1 120.8h0M453.1 118.5h0M463.6 109.4h0M445.0 109.1h0M467.9 118.0h0M468.2 110.5h0M470.7 111.2h0M446.7 116.6h0M446.1 114.1h0M468.7 117.0h0M454.4 113.5h0M450.6 113.5h0M453.8 121.1h0M461.9 124.2h0M447.4 112.0h0M456.9 109.4h0M461.9 122.7h0M463.7 109.3h0M443.1 109.7h0M466.3 118.5h0M455.4 112.9h0M455.4 112.8h0M459.1 119.5h0M450.9 115.4h0M468.5 116.0h0M448.9 114.5h0M458.5 122.1h0M447.6 116.4h0M460.6 112.4h0M468.9 110.7h0M468.4 112.1h0M446.6 110.0h0M460.9 112.6h0M468.7 112.5h0M448.6 113.3h0M454.8 123.1h0M463.5 123.4h0M464.2 120.0h0M455.8 113.0h0M461.3 109.3h0M462.2 121.3h0M453.0 109.4h0M461.7 111.9h0M459.5 122.6h0M463.0 116.1h0M457.6 121.0h0M452.5 113.0h0M455.4 119.5h0M469.5 113.1h0M448.2 114.4h0M447.0 116.6h0M443.1 109.4h0M467.5 113.2h0M471.5 110.3h0M449.6 115.1h0M450.5 117.3h0M448.5 110.0h0M460.2 109.8h0M456.8 124.3h0M466.6 111.9h0M448.8 114.1h0M468.3 113.7h0M456.2 123.4h0M466.2 110.4h0M466.0 113.6h0M469.2 111.8h0M457.2 109.7h0M460.5 123.2h0M459.0 119.0h0M448.3 121.1h0M457.3 120.7h0M469.7 109.1h0M469.2 113.7h0M443.4 109.5h0M462.0 111.2h0M452.2 116.2h0M446.7 110.8h0M446.8 117.1h0M465.8 121.0h0M470.6 112.1h0M457.9 123.7h0M453.9 123.5h0M457.6 124.5h0M466.8 119.9h0M464.4 121.8h0M444.6 111.6h0M448.9 118.3h0M468.0 109.2h0M457.1 115.1h0M461.9 110.1h0M465.3 112.7h0M461.2 110.7h0M464.1 109.9h0M458.6 118.9h0M449.4 119.5h0M448.2 120.4h0M471.6 109.1h0M443.0 110.0h0M462.8 109.4h0M468.3 111.6h0M449.5 111.6h0M444.1 113.4h0M454.3 110.5h0M452.3 123.3h0M456.1 112.2h0M455.2 124.6h0M470.1 109.3h0M446.2 117.7h0M470.2 113.3h0M444.1 111.4h0M470.0 113.6h0M452.4 122.9h0M463.9 118.4h0M442.8 109.6h0M455.7 115.9h0M462.4 113.1h0M461.0 117.1h0M466.2 114.5h0M447.2 117.3h0M454.4 117.6h0M460.6 115.1h0M443.6 109.3h0M467.0 114.5h0M454.8 109.4h0M449.9 117.6h0M449.2 114.4h0M461.7 113.3h0M444.1 113.0h0M449.8 111.4h0M451.6 111.7h0M450.2 121.8h0M464.0 114.1h0M460.0 118.5h0M469.0 115.5h0M463.1 120.9h0M451.3 122.1h0M452.2 110.2h0M446.3 110.7h0M449.8 112.8h0M460.3 122.2h0M464.0 113.0h0M451.3 120.1h0M452.7 116.8h0M466.1 121.4h0M470.6 109.4h0M445.2 113.7h0M444.8 111.0h0M464.8 121.4h0M457.1 122.1h0M455.1 113.0h0M461.1 113.8h0M464.8 114.5h0M444.8 112.8h0M470.7 110.4h0M470.6 109.4h0M454.8 111.9h0M456.4 112.5h0M450.6 117.2h0M459.8 117.9h0M448.7 110.4h0M458.3 120.8h0M469.0 112.7h0M457.4 121.8h0M466.8 115.6h0M447.9 118.2h0M468.4 110.2h0M446.3 110.0h0M448.9 117.5h0M463.7 112.2h0M451.5 112.1h0M446.2 110.2h0M445.3 111.0h0M465.8 119.2h0M443.3 109.8h0M444.4 112.8h0M470.2 111.7h0M465.5 121.6h0M453.5 124.7h0M448.3 110.2h0M467.9 114.4h0M465.6 115.7h0M462.2 114.8h0M458.1 124.7h0M458.0 114.7h0M471.2 109.7h0M457.9 124.3h0M445.2 110.4h0M444.9 112.2h0M460.0 116.9h0M464.0 119.1h0M461.0 124.1h0M464.3 120.5h0M451.3 121.2h0M453.5 112.4h0M450.4 114.6h0M453.6 109.9h0M450.5 120.9h0M467.0 111.5h0M447.0 112.5h0M448.8 116.1h0M463.5 113.3h0M454.3 122.4h0M452.7 113.2h0M471.1 111.0h0M468.7 113.0h0M449.1 113.6h0M447.2 117.6h0M457.0 109.6h0M459.4 123.3h0M452.8 110.7h0M459.9 109.6h0M462.4 112.0h0M466.4 115.8h0M449.8 112.0h0M461.5 114.9h0M444.4 109.2h0M444.6 110.8h0M444.3 113.5h0M446.1 113.2h0M465.5 121.4h0M453.5 116.6h0M457.1 123.4h0M455.8 117.4h0M448.7 111.7h0M444.1 113.2h0M448.0 116.9h0M467.7 118.7h0M452.6 119.7h0M455.0 119.1h0M450.4 123.4h0M464.3 118.9h0M463.1 114.0h0M453.9 117.6h0M457.5 123.3h0M454.2 118.6h0M459.4 124.9h0M460.0 122.8h0M459.5 118.3h0M468.9 115.7h0M470.4 111.1h0M444.2 113.2h0M453.8 112.7h0M443.9 109.7h0M453.6 111.8h0M466.1 112.1h0M462.5 115.2h0M459.2 111.2h0M445.2 115.4h0M466.3 120.8h0M460.5 119.7h0M451.5 109.5h0M465.6 116.1h0M443.9 110.7h0M448.2 118.2h0M465.7 114.9h0M444.1 110.1h0M446.6 113.3h0M457.3 124.6h0M463.4 118.7h0M459.9 118.8h0M443.8 112.2h0M450.7 123.3h0M463.3 113.5h0M452.9 124.6h0M448.4 118.0h0M442.8 109.3h0M450.4 112.1h0M469.8 113.5h0M444.2 113.3h0M458.8 110.4h0M469.2 111.5h0M463.1 112.7h0M450.9 113.9h0M461.6 113.8h0M446.2 117.6h0M457.2 123.2h0M450.4 110.7h0M468.2 115.7h0M467.9 112.9h0M464.9 113.1h0M453.6 116.8h0M465.9 121.1h0M471.2 110.0h0M453.5 117.5h0M458.0 120.5h0M447.5 115.3h0M445.9 112.7h0M463.7 123.3h0M444.5 112.4h0M460.2 121.9h0M446.0 113.5h0M462.2 121.9h0M464.6 117.1h0M470.1 111.9h0M454.1 122.5h0M454.1 121.2h0M454.3 115.9h0M463.2 114.8h0M465.6 110.1h0M446.1 112.4h0M452.2 115.8h0M444.3 109.2h0M449.6 109.4h0M464.1 116.1h0M470.0 112.0h0M471.2 109.2h0M444.7 112.9h0M454.4 111.9h0M468.1 116.9h0M457.4 122.4h0M452.9 120.3h0M465.5 115.7h0M467.9 115.4h0M447.0 117.4h0M457.8 123.8h0M447.0 118.9h0M448.0 110.3h0M458.2 112.4h0M450.1 112.1h0M466.1 113.7h0M453.4 116.0h0M448.0 115.6h0M461.0 114.0h0M450.3 117.3h0M444.7 109.8h0M471.8 109.3h0M448.1 115.7h0M446.5 111.3h0M456.7 116.0h0M442.8 109.2h0M465.7 112.5h0M444.9 113.1h0M443.9 111.2h0M470.8 112.2h0M457.8 119.0h0M469.7 109.4h0M468.8 116.7h0M464.1 110.2h0M443.6 109.5h0M461.4 112.6h0M444.6 113.9h0M443.0 109.3h0M467.3 109.3h0M451.6 119.4h0M464.4 121.4h0M458.1 122.7h0M465.5 118.8h0M461.3 120.9h0M471.0 111.6h0M456.5 121.8h0M467.5 115.8h0M466.6 112.1h0M459.8 109.2h0M457.4 125.1h0M455.2 110.5h0M461.5 110.7h0M448.4 109.4h0M455.5 117.1h0M461.5 118.8h0M451.7 121.0h0M449.0 118.5h0M445.8 115.3h0M466.1 118.3h0M468.2 114.5h0M467.0 119.7h0M463.3 122.1h0M460.3 118.1h0M444.4 114.1h0M468.3 110.5h0M456.5 113.7h0M462.7 120.6h0M446.2 111.2h0M464.4 109.5h0M447.0 111.3h0M470.6 111.9h0M463.4 114.9h0M458.2 113.7h0M461.7 111.5h0M449.4 117.3h0M457.2 121.1h0M445.2 113.4h0M450.9 123.2h0M451.0 111.1h0M447.5 112.8h0M454.8 116.6h0M444.6 111.6h0M443.5 109.2h0M452.4 124.1h0M471.6 109.2h0M463.9 119.4h0M455.2 117.1h0M448.5 116.2h0M446.3 115.4h0M454.8 119.1h0M461.7 115.8h0M466.7 117.2h0M456.2 121.6h0M467.5 119.7h0M466.3 117.4h0M467.4 114.2h0M452.4 123.8h0M456.3 124.4h0M447.4 110.4h0M459.7 125.0h0M444.0 112.7h0M456.4 119.5h0M447.5 112.7h0M456.6 114.5h0M448.0 114.5h0M442.8 109.3h0M455.0 118.8h0M455.2 124.5h0M458.5 113.6h0M446.4 110.4h0M457.2 109.2h0M451.4 120.0h0M445.1 112.8h0M454.7 121.0h0M462.1 113.5h0M451.5 113.2h0M463.5 121.3h0M465.7 119.4h0M443.1 109.2h0M449.0 114.4h0M451.0 121.4h0M459.9 119.4h0M456.9 118.3h0M459.2 113.8h0M444.9 110.2h0M451.1 112.0h0M447.4 118.9h0M464.4 122.2h0M462.6 114.5h0M451.6 113.7h0M468.2 117.7h0M446.7 113.9h0M443.2 109.4h0M453.6 113.0h0M462.2 111.2h0M470.2 111.3h0M457.5 117.9h0M446.7 112.9h0M460.1 113.7h0M443.2 110.4h0M466.5 112.2h0M452.1 118.9h0M445.7 109.1h0M447.1 117.0h0M466.8 111.7h0M469.1 110.1h0M448.1 111.8h0M471.7 109.2h0M467.7 110.3h0M452.3 123.8h0M444.2 112.1h0M447.1 109.4h0M455.4 116.8h0M448.7 117.4h0M448.0 118.2h0M450.7 119.4h0M468.2 118.2h0M443.8 110.1h0M469.5 115.5h0M455.8 113.2h0M464.2 123.0h0M457.6 122.9h0M470.2 111.9h0M448.0 120.2h0M450.2 122.7h0M457.5 109.5h0M457.5 110.0h0M452.4 114.4h0M451.6 113.5h0M445.3 115.4h0M457.3 124.6h0M466.9 117.8h0M467.9 114.1h0M454.8 112.9h0M471.2 110.2h0M470.8 111.1h0M452.0 123.4h0M446.1 116.6h0M467.0 115.7h0M470.1 112.9h0M461.6 118.2h0M470.8 110.4h0M456.6 120.9h0M458.0 109.8h0M444.9 112.0h0M453.5 109.6h0M469.6 112.5h0M445.7 112.5h0M446.7 109.2h0M443.7 111.1h0M457.1 113.7h0M460.3 112.7h0M458.2 121.5h0M468.3 114.9h0M462.5 118.9h0M461.2 122.9h0M460.3 120.3h0M457.4 120.6h0M444.9 110.4h0M445.6 109.3h0M461.5 124.8h0M448.9 113.8h0M454.8 114.6h0M461.5 120.5h0M460.2 112.0h0M449.8 117.5h0M450.5 122.5h0M446.8 118.8h0M462.0 114.1h0M463.6 109.5h0M446.6 113.4h0M450.6 109.7h0M447.1 117.4h0M460.5 121.7h0M451.3 111.3h0M468.0 115.6h0M450.5 113.7h0M461.5 115.5h0M461.2 118.5h0M470.1 110.6h0M463.7 113.9h0M469.9 109.2h0M459.7 110.9h0M442.8 109.3h0M452.2 119.2h0M464.3 114.5h0M452.7 120.7h0M461.9 110.1h0M446.1 112.2h0M461.5 122.1h0M453.9 112.2h0M470.2 110.2h0M444.8 109.3h0M453.2 109.2h0M465.0 116.0h0M454.1 122.8h0M456.2 123.0h0M452.5 124.3h0M445.6 115.7h0M452.0 113.0h0M468.2 118.4h0M465.0 116.6h0M451.7 114.2h0M462.2 121.7h0M465.8 114.0h0M465.9 113.4h0M444.3 111.3h0M447.5 120.2h0M470.5 110.7h0M450.9 122.4h0M465.4 122.0h0M461.1 111.2h0M468.1 110.6h0M445.0 109.6h0M469.9 114.3h0M468.2 115.6h0M449.7 120.3h0M463.4 119.1h0M442.9 109.8h0M467.9 113.7h0M454.8 112.2h0M464.3 109.7h0M465.8 111.6h0M443.5 110.5h0M468.4 114.9h0M445.8 114.7h0M447.2 113.2h0M456.0 114.3h0M450.1 118.2h0M461.6 115.1h0M448.3 119.7h0M460.8 124.1h0M464.9 111.9h0M470.7 111.9h0M454.3 111.2h0M451.0 109.9h0M459.5 121.9h0M461.7 120.5h0M469.6 111.9h0M459.8 120.4h0M455.5 124.3h0M451.4 116.1h0M463.8 121.8h0M461.3 116.2h0M444.8 114.1h0M451.4 114.5h0M447.6 111.3h0M457.1 123.1h0M453.8 110.2h0M447.3 112.5h0M458.1 114.6h0M461.9 114.5h0M452.6 120.5h0M467.0 119.7h0M445.7 111.7h0M444.4 112.3h0M463.3 110.9h0M459.1 121.6h0M464.6 112.7h0M469.9 110.6h0M457.6 113.6h0M466.5 113.7h0M461.6 120.5h0M457.7 109.8h0M457.4 120.5h0M471.6 109.8h0M452.8 111.3h0M455.1 110.3h0M456.5 118.1h0M461.3 124.5h0M444.5 111.4h0M461.7 111.0h0M443.8 109.3h0M453.8 120.8h0M455.6 112.0h0M459.2 112.9h0M459.3 111.3h0M460.3 111.8h0M443.4 109.9h0M452.3 117.5h0M464.2 117.6h0M454.9 114.2h0M466.8 117.9h0M458.5 115.9h0M459.3 123.8h0M462.4 120.0h0M471.3 110.9h0M442.8 109.7h0M446.2 117.5h0M445.3 115.9h0M448.7 119.8h0M443.3 110.9h0M471.4 109.3h0M447.1 114.0h0M456.5 124.5h0M468.4 116.6h0M456.5 112.1h0M449.9 114.4h0M451.2 119.6h0M455.0 125.0h0M451.7 118.7h0M456.4 120.0h0M454.7 120.6h0M445.1 109.3h0M468.1 110.8h0M470.9 109.8h0M459.1 115.7h0M445.5 110.3h0M469.2 110.0h0M453.3 115.7h0M453.8 118.5h0M450.2 119.4h0M469.7 111.9h0M462.8 121.2h0M451.5 121.4h0M453.5 112.1h0M455.0 123.2h0M453.8 120.3h0M462.3 110.6h0M470.3 110.4h0M444.0 110.7h0M467.4 119.1h0M467.4 119.0h0M449.1 121.6h0M471.2 111.0h0M468.2 116.8h0M463.7 122.4h0M445.8 116.8h0M455.7 110.1h0M464.7 109.6h0M458.8 114.4h0M444.4 110.5h0M464.9 118.6h0M454.7 118.2h0M449.1 117.5h0M452.8 114.3h0M445.7 115.4h0M453.2 120.5h0M443.2 110.6h0M471.8 109.2h0M446.7 109.6h0M452.6 114.6h0M451.5 122.1h0M456.1 121.5h0M452.6 115.2h0M468.5 113.0h0M448.2 116.7h0M471.7 109.6h0M454.1 123.2h0M471.3 110.5h0M452.5 115.4h0M445.1 110.9h0M467.0 111.4h0M447.3 111.3h0M464.3 120.2h0M468.3 110.6h0M449.1 119.8h0M452.0 120.3h0M459.1 121.2h0M468.0 116.1h0M467.6 115.4h0M456.9 114.0h0M459.2 122.5h0M466.1 119.0h0M447.2 113.4h0M469.8 112.5h0M467.8 109.3h0M449.5 122.3h0M461.0 123.6h0M464.0 116.6h0M461.6 122.6h0M444.8 110.8h0M444.5 112.0h0M449.2 115.6h0M445.8 112.3h0M456.8 114.3h0M464.2 116.7h0M459.5 120.8h0M469.1 111.6h0M457.0 123.3h0M455.8 120.0h0M446.4 112.9h0M470.5 111.8h0M462.3 113.6h0M471.2 109.6h0M469.9 110.5h0M445.2 111.9h0M460.3 119.9h0M456.9 118.1h0M464.7 113.5h0M444.0 109.5h0M461.9 111.4h0M460.5 114.5h0M453.6 113.5h0M446.4 118.2h0M462.7 118.3h0M444.1 109.3h0M452.5 113.7h0M443.5 109.9h0M451.7 111.0h0M450.0 118.7h0M460.7 124.5h0M462.6 114.3h0M463.3 117.8h0M454.7 118.8h0M464.7 121.8h0M461.9 121.4h0M458.3 113.0h0M465.4 109.8h0M471.0 111.8h0M456.7 115.8h0M470.7 111.7h0M460.9 115.1h0M454.0 121.6h0M456.6 110.4h0M461.8 119.1h0M451.9 114.6h0M469.6 112.9h0M453.9 114.0h0M460.9 114.2h0M467.7 116.1h0M466.8 120.5h0M462.3 124.5h0M463.5 120.0h0M464.7 112.5h0M459.8 116.6h0M455.3 117.6h0M468.8 116.8h0M447.4 116.8h0M446.5 113.6h0M451.8 113.7h0M449.6 112.7h0M471.0 110.8h0M458.2 113.7h0M468.4 117.7h0M458.8 118.0h0M449.0 113.6h0M468.2 110.6h0M468.4 109.6h0M446.3 111.8h0M465.0 113.2h0M459.3 118.1h0M447.9 115.5h0M452.5 119.7h0M464.1 110.2h0M448.2 116.9h0M460.4 121.1h0M458.2 112.1h0M458.2 117.2h0M448.0 115.9h0M466.7 110.0h0M458.4 124.2h0M462.8 123.0h0M461.0 116.2h0M452.0 123.9h0M464.1 110.7h0M454.3 109.7h0M469.5 113.8h0M456.0 111.2h0M448.4 115.9h0M456.2 116.4h0M454.2 118.3h0M470.4 109.5h0M451.7 119.4h0M468.6 109.8h0M443.5 110.8h0M446.6 116.5h0M451.3 109.2h0M464.3 122.2h0M460.2 122.9h0M454.8 115.4h0M454.8 110.0h0M467.2 110.7h0M449.0 112.9h0M465.6 122.0h0M453.6 124.0h0M462.9 112.2h0M466.5 111.6h0M455.2 109.4h0M448.4 117.1h0M449.7 115.3h0M449.9 119.3h0M445.5 116.1h0M455.1 114.1h0M461.5 113.9h0M454.0 124.0h0M470.5 110.8h0M470.0 109.9h0M465.3 112.3h0M465.8 118.1h0M451.8 124.3h0M464.8 119.8h0M444.3 113.2h0M443.3 110.4h0M444.7 112.2h0M452.0 117.2h0M463.9 121.6h0M443.6 111.1h0M453.9 121.5h0M460.1 111.5h0M467.3 111.3h0M459.1 110.1h0M449.9 117.6h0M445.2 110.5h0M457.5 122.1h0M466.2 117.2h0M466.9 116.2h0M460.7 120.3h0M448.0 118.7h0M444.9 109.6h0M444.1 111.5h0M450.6 113.3h0M458.3 121.8h0M447.1 112.3h0M460.8 113.9h0M451.9 110.6h0M465.7 118.6h0M458.2 109.9h0M465.0 111.1h0M450.2 121.2h0M459.3 118.7h0M468.5 114.6h0M443.2 109.1h0M469.9 111.0h0M459.9 122.8h0M471.7 109.3h0M451.0 112.6h0M457.0 124.3h0M462.6 113.1h0M460.0 114.3h0M460.8 113.0h0M467.9 117.5h0M447.4 109.7h0M463.6 118.2h0M455.7 114.5h0M469.3 114.5h0M470.3 113.6h0M455.6 124.3h0M453.1 115.9h0M468.9 109.9h0M470.1 110.8h0M465.2 122.0h0M469.0 116.7h0M470.3 109.2h0M456.8 118.4h0M453.2 110.8h0M444.4 110.3h0M455.5 113.4h0M449.0 111.3h0M463.8 118.3h0M460.5 120.2h0M469.9 114.4h0M462.8 109.4h0M450.0 122.0h0M453.6 111.2h0M457.3 124.0h0M458.3 115.4h0M470.1 109.7h0M461.1 115.9h0M452.2 115.5h0M450.7 116.1h0M459.5 123.7h0M445.2 109.3h0M456.1 114.1h0M468.8 109.6h0M469.4 110.1h0M459.0 121.5h0M458.6 112.8h0M452.4 116.2h0M459.8 121.8h0M456.0 115.9h0M461.6 109.5h0M470.4 113.3h0M464.7 113.8h0M446.7 115.0h0M447.7 115.0h0M462.8 113.9h0M471.1 111.1h0M460.1 124.4h0M467.1 118.7h0M450.8 118.1h0M449.8 114.0h0M471.3 110.0h0M468.2 111.0h0M455.8 120.9h0M466.5 119.8h0M461.4 115.6h0M465.4 112.9h0M459.8 117.4h0M462.6 123.6h0M470.1 111.9h0M455.2 114.0h0M464.1 118.3h0M470.6 109.7h0M443.9 112.0h0M450.1 113.7h0M453.1 118.6h0M459.4 123.5h0M456.0 121.0h0M470.1 113.5h0M448.3 114.7h0M451.6 111.4h0M445.0 110.7h0M447.9 113.4h0M460.0 124.4h0M444.2 110.9h0M470.1 110.3h0M464.8 118.6h0M445.2 112.9h0M465.7 116.3h0M446.3 113.8h0M457.8 123.8h0M449.0 115.5h0M447.7 117.6h0M458.2 116.4h0M468.4 117.4h0M445.2 114.0h0M448.8 120.7h0M456.8 113.0h0M470.5 109.3h0M453.3 113.6h0M468.0 115.0h0M458.5 118.2h0M455.9 115.5h0M464.9 120.0h0M448.4 121.4h0M458.0 111.4h0M443.7 110.8h0M458.0 113.6h0M471.7 109.4h0M444.8 113.6h0M445.6 116.8h0M459.4 115.5h0M469.8 111.9h0M458.9 125.1h0M470.7 112.2h0M452.0 110.0h0M471.6 109.4h0M448.9 119.3h0M465.2 117.6h0M452.5 114.3h0M467.0 110.9h0M443.8 112.1h0M451.8 114.3h0M469.6 111.9h0M465.2 113.1h0M456.8 123.7h0M453.7 119.0h0M470.2 110.8h0M448.4 118.2h0M448.3 114.6h0M444.5 112.2h0M462.2 116.2h0M469.3 110.2h0M446.5 111.5h0M464.9 121.5h0M465.0 113.7h0M448.7 121.4h0M457.9 119.9h0M459.4 113.5h0M444.4 110.2h0M470.2 109.1h0M446.6 116.3h0M447.1 114.2h0M463.2 114.3h0M457.3 112.5h0M465.6 110.7h0M461.5 119.8h0M445.5 115.5h0M455.9 121.3h0M471.2 109.6h0M451.6 123.3h0M448.1 118.2h0M468.5 110.5h0M445.2 109.4h0M454.6 118.0h0M471.7 109.2h0M467.8 115.3h0M446.6 116.3h0M445.2 112.2h0M456.8 123.4h0M462.6 117.3h0M466.3 113.2h0M448.5 109.6h0M455.1 110.9h0M455.9 121.8h0M451.6 117.8h0M462.5 123.7h0M458.4 124.4h0M454.8 109.2h0M465.1 120.3h0M451.4 118.9h0M460.2 113.5h0M465.5 119.5h0M452.6 118.3h0M443.7 111.8h0M442.8 109.2h0M465.7 117.7h0M466.4 119.3h0M463.5 119.6h0M443.4 110.1h0M450.2 117.1h0M470.3 112.3h0M459.0 120.5h0M455.2 119.6h0M471.0 110.6h0M470.9 111.0h0M450.0 113.7h0M463.7 118.8h0M466.5 120.0h0M467.5 119.0h0M469.3 113.7h0M464.6 109.4h0M444.7 112.5h0M451.6 118.3h0M448.5 121.4h0M461.2 117.2h0M458.6 124.8h0M471.0 111.2h0M449.7 120.2h0M446.4 115.4h0M443.6 111.6h0M448.5 119.4h0M468.7 117.4h0M460.6 117.4h0M449.9 119.5h0M459.5 111.8h0M461.6 112.6h0M452.4 117.5h0M443.3 109.3h0M463.1 119.3h0M459.6 124.2h0M445.1 110.1h0M457.3 109.8h0M446.9 119.1h0M454.7 118.9h0M464.1 123.3h0M460.3 114.6h0M452.3 111.9h0M465.0 121.6h0M450.1 113.0h0M461.7 116.4h0M451.2 121.7h0M461.1 121.1h0M459.4 121.8h0M460.2 121.8h0M467.3 114.1h0M466.4 120.7h0M471.2 109.3h0M449.3 117.6h0M471.3 110.1h0M462.2 113.2h0M447.0 118.9h0M442.8 109.5h0M449.7 113.5h0M455.9 114.6h0M461.3 117.3h0M468.5 111.5h0M467.1 113.3h0M469.5 111.1h0M468.1 110.6h0M468.0 111.8h0M471.3 109.3h0M464.5 117.1h0M447.2 111.1h0M459.4 113.3h0M455.8 125.1h0M462.5 116.4h0M451.1 110.5h0M469.6 112.7h0M451.0 118.5h0M456.0 119.4h0M447.7 111.2h0M469.4 113.5h0M468.8 115.5h0M470.3 110.5h0M449.1 109.3h0M452.4 115.1h0M469.3 116.1h0M468.3 117.3h0M446.0 115.2h0M456.3 113.5h0M444.4 109.6h0M466.8 111.8h0M467.2 119.1h0M470.0 110.8h0M466.4 111.8h0M455.0 117.8h0M453.7 121.5h0M461.9 116.6h0M455.0 118.0h0M470.6 111.5h0M456.3 125.0h0M456.1 121.0h0M471.1 109.7h0M450.3 118.9h0M452.3 114.4h0M445.0 112.9h0M469.7 114.0h0M457.9 113.3h0M455.7 110.3h0M468.7 111.4h0M469.2 111.0h0M448.8 116.9h0M446.4 110.3h0M468.3 109.3h0M470.5 110.7h0M458.5 113.5h0M463.9 122.2h0M443.3 111.0h0M457.0 114.5h0M445.1 113.4h0M446.6 116.0h0M444.3 111.1h0M458.3 124.6h0M459.4 116.1h0M455.2 114.0h0M463.5 113.0h0M445.1 115.9h0M449.5 121.9h0M447.9 111.5h0M457.5 111.0h0M465.7 110.5h0M447.9 114.5h0M468.9 114.4h0M452.9 111.9h0M448.5 117.1h0M450.1 109.9h0M465.0 115.8h0M443.0 110.0h0M455.2 124.8h0M451.2 110.6h0M458.2 120.1h0M454.2 122.1h0M445.4 116.2h0M447.2 116.3h0M470.7 109.3h0M459.1 125.1h0M469.5 110.5h0M470.5 111.7h0M460.2 112.7h0M469.3 110.2h0M454.9 110.6h0M451.4 121.3h0M466.3 112.6h0M452.3 122.3h0M450.4 120.5h0M456.6 121.7h0M454.5 109.5h0M470.6 109.5h0M468.9 111.1h0M463.7 120.9h0M468.7 116.4h0M450.0 112.5h0M450.4 115.8h0M452.8 111.8h0M460.1 114.1h0M443.4 110.7h0M445.6 112.7h0M450.1 111.8h0M445.5 113.3h0M450.0 122.9h0M445.7 113.8h0M451.4 113.0h0M455.4 115.9h0M458.6 111.9h0M466.1 112.4h0M451.2 115.0h0M453.9 113.5h0M468.0 116.6h0M443.3 110.7h0M457.7 123.3h0M446.2 114.3h0M443.1 110.0h0M468.5 115.6h0M462.1 112.2h0M456.3 121.7h0M466.3 120.8h0M470.5 111.3h0M459.6 119.2h0M456.0 124.8h0M442.8 109.3h0M470.3 111.6h0M465.3 110.5h0M445.8 112.0h0M455.7 121.3h0M449.9 109.7h0M470.3 109.8h0M451.5 110.6h0M446.9 115.4h0M468.9 115.3h0M451.6 111.2h0M446.5 110.9h0M444.5 111.0h0M447.5 119.4h0M455.3 118.5h0M450.0 121.6h0M462.4 109.9h0M468.6 115.5h0M447.0 110.5h0M443.8 110.0h0M464.8 115.4h0M462.0 113.4h0M468.0 116.1h0M446.2 117.7h0M463.0 111.8h0M450.9 117.8h0M448.1 120.8h0M453.8 118.4h0M467.4 112.3h0M466.5 111.7h0M467.1 111.4h0M449.9 120.4h0M455.9 124.9h0M447.8 110.2h0M449.2 116.0h0M467.2 117.5h0M445.8 116.5h0M469.4 110.2h0M470.7 112.3h0M455.5 111.9h0M460.1 114.0h0M470.7 111.9h0M463.7 110.7h0M465.7 110.2h0M464.3 122.1h0M444.4 111.6h0M465.5 115.7h0M463.0 117.9h0M452.6 109.7h0M444.0 111.4h0M453.0 114.1h0M458.8 110.5h0M453.2 110.9h0M459.6 115.5h0M454.3 109.9h0M462.9 117.5h0M469.9 110.5h0M443.2 110.6h0M460.7 118.8h0M466.3 117.4h0M443.4 110.1h0M456.1 124.3h0M466.2 120.0h0M462.6 116.2h0M453.9 109.6h0M452.7 110.2h0M443.7 110.5h0M457.3 121.8h0" stroke="#3d3d3d" stroke-width="1.1" stroke-linecap="round" fill="none"/>
<path d="M472.4 119.8h0M471.4 113.7h0M475.1 114.1h0M470.9 117.1h0M476.2 111.0h0" stroke="#2e9e3e" stroke-width="0.85" stroke-linecap="round" fill="none"/>
<path d="M462.5 107.3h0M450.6 107.9h0M456.2 106.6h0M448.0 109.0h0M467.4 109.5h0M455.9 101.9h0M465.8 105.5h0M460.9 97.4h0M468.9 95.7h0M470.4 96.4h0M465.3 103.9h0M463.9 104.9h0M459.4 101.9h0M468.6 99.9h0M464.6 93.2h0M466.3 102.0h0M461.7 105.0h0M454.1 106.6h0M463.0 103.8h0M462.4 101.3h0M458.4 105.6h0M463.2 99.0h0M457.1 105.5h0M465.1 96.9h0M467.1 95.2h0M469.1 105.7h0M464.3 94.5h0M462.9 104.2h0M464.3 90.3h0M450.6 108.3h0M459.6 104.1h0M453.4 108.2h0M463.0 99.9h0M450.6 103.6h0M464.5 105.9h0M464.3 103.1h0M466.0 95.8h0M470.2 100.2h0M455.5 107.7h0M469.8 103.1h0M470.0 96.4h0M463.5 96.5h0M466.0 105.3h0M465.2 105.4h0M462.9 100.8h0M460.4 107.6h0M462.7 101.3h0M465.4 96.2h0M463.7 104.5h0M463.1 105.5h0M463.1 109.1h0M464.8 101.5h0M460.4 94.7h0M461.8 103.6h0M458.7 102.7h0M458.9 101.5h0M466.3 99.2h0M465.0 106.9h0M454.9 108.2h0M444.1 105.6h0M463.2 99.4h0M465.0 101.6h0M465.4 98.1h0M456.8 103.8h0M462.1 96.6h0M460.6 106.7h0M459.6 108.8h0M466.6 105.4h0M463.1 108.9h0M462.0 106.6h0M453.0 106.5h0M459.9 108.9h0M462.9 99.1h0M463.5 109.0h0M460.3 108.1h0M462.6 106.3h0M468.3 99.8h0M455.9 109.1h0M468.1 98.6h0M464.8 91.3h0M462.0 108.1h0M459.4 101.6h0M461.1 108.5h0M466.5 101.5h0M450.4 106.2h0M469.9 93.9h0M467.0 100.4h0M455.3 109.4h0M466.4 107.9h0M457.2 109.0h0M468.7 101.0h0M462.1 92.2h0M468.0 100.9h0M466.3 99.4h0M466.0 104.6h0M469.7 103.8h0M465.9 97.8h0M467.6 97.9h0M458.8 109.5h0M461.1 104.0h0M463.9 94.2h0M465.4 97.2h0M455.7 107.1h0M457.7 95.2h0M452.6 103.4h0M459.3 100.8h0M461.6 92.3h0M465.6 104.8h0M460.9 96.0h0M442.5 107.2h0M462.6 106.7h0M466.0 95.7h0M466.4 108.9h0M451.8 109.4h0M468.4 99.6h0M463.2 91.6h0M457.1 105.7h0M469.2 109.3h0M458.2 104.1h0M460.7 96.7h0M467.1 105.9h0M462.1 102.4h0M464.5 104.2h0M465.7 91.2h0M462.8 101.7h0M468.8 95.2h0M465.6 108.7h0M462.7 105.4h0M467.5 101.5h0M463.7 105.4h0M468.0 100.5h0M467.3 94.5h0M468.2 102.9h0M452.3 108.4h0M464.4 107.2h0M464.9 96.6h0M468.1 102.3h0M468.2 108.6h0M466.4 99.2h0M467.5 109.1h0M461.9 100.3h0M462.7 105.1h0M460.8 99.6h0M462.8 99.5h0M469.5 107.0h0M466.2 103.8h0M470.0 102.7h0M457.7 103.0h0M450.4 108.7h0M466.4 93.0h0M467.9 99.6h0M465.8 93.8h0M461.3 104.3h0M469.9 102.0h0M466.6 107.4h0M467.9 97.2h0M464.8 108.1h0M465.8 108.7h0M469.8 95.2h0M465.7 106.3h0M465.3 107.2h0M464.0 105.4h0M461.9 101.5h0M470.2 104.9h0M469.9 92.6h0M464.6 97.3h0M468.0 107.5h0M468.7 98.2h0M458.9 104.0h0M458.5 108.9h0M468.7 90.0h0M467.4 94.0h0M460.5 108.4h0M469.9 103.1h0M452.5 105.4h0M462.1 101.2h0M464.0 106.3h0M466.8 105.8h0M469.7 93.9h0M466.4 91.7h0M466.5 107.9h0M466.1 99.7h0M470.3 97.2h0M461.7 109.0h0M462.0 105.2h0M457.3 103.9h0M463.5 97.4h0M459.3 97.3h0M462.6 108.4h0M457.4 107.8h0M464.6 96.4h0M457.5 102.0h0M466.8 94.6h0M462.9 101.5h0M463.3 98.8h0M464.4 96.4h0M468.7 108.1h0M466.9 108.9h0M455.8 98.0h0M469.0 94.4h0M459.7 107.1h0M468.3 89.2h0M463.6 103.5h0M469.7 106.4h0M470.3 94.8h0M465.9 106.7h0M460.9 108.4h0M468.6 108.4h0M461.8 103.5h0M470.3 90.0h0M467.9 89.8h0M459.7 100.4h0M469.8 96.7h0M462.5 104.2h0M468.0 106.9h0M467.6 103.5h0M464.5 107.8h0M467.5 109.4h0M459.8 98.6h0M462.8 102.8h0M466.9 99.3h0M457.6 108.0h0M470.4 94.1h0M459.2 105.1h0M462.3 109.0h0M470.3 91.6h0M459.7 109.2h0M466.6 94.0h0M464.9 103.8h0M459.8 104.6h0M468.1 107.2h0M457.4 107.6h0M464.7 101.5h0M467.1 107.8h0M455.8 108.3h0M464.3 105.3h0M455.8 105.3h0M469.6 108.5h0M463.4 106.9h0M460.6 102.8h0M467.6 106.5h0M459.6 102.9h0M468.9 100.6h0M447.7 108.0h0M461.5 108.5h0M459.1 108.1h0M470.3 100.0h0M470.2 94.2h0M469.1 90.3h0M466.6 98.9h0M465.8 98.5h0M461.5 109.4h0M467.0 97.4h0M466.0 102.8h0M466.2 99.0h0M467.9 101.0h0M469.1 98.8h0M461.9 104.2h0M467.8 107.1h0M470.3 95.3h0M453.5 101.5h0M446.5 109.3h0M470.2 95.6h0M467.5 102.9h0M453.1 105.2h0M469.8 89.8h0M461.9 99.8h0M466.1 103.4h0M464.9 105.9h0M463.4 105.9h0M465.3 106.7h0M462.9 101.7h0M469.9 89.8h0M463.0 99.8h0M466.6 100.7h0M466.1 104.0h0M468.4 93.6h0M454.3 99.7h0M466.8 107.6h0M465.6 104.9h0M457.7 106.1h0M467.2 104.6h0M460.2 100.3h0M470.3 93.0h0M465.5 105.6h0M455.5 107.8h0M468.6 102.2h0M455.1 108.8h0M455.4 97.1h0M463.4 106.9h0M458.0 106.7h0M460.1 109.0h0M454.6 108.2h0M470.1 97.4h0M465.4 92.1h0M465.0 103.1h0M445.4 107.9h0M468.1 106.3h0M467.2 106.8h0M468.8 103.6h0M468.8 101.6h0M466.3 105.4h0M466.6 91.6h0M462.0 97.8h0M466.4 107.2h0M466.0 101.8h0M463.3 108.1h0M469.6 103.5h0M453.8 108.3h0M468.0 101.4h0M468.5 108.3h0M458.2 106.8h0M469.8 98.2h0M468.9 104.4h0M454.0 105.0h0M453.5 108.8h0M462.4 102.3h0M469.0 99.4h0M468.4 98.9h0M448.2 104.2h0M458.7 108.5h0M464.7 96.6h0M464.1 91.0h0M469.0 105.8h0M467.9 105.9h0M467.9 105.6h0M469.7 98.4h0M466.7 108.9h0M465.7 109.0h0M458.4 108.2h0M469.9 108.8h0M464.7 96.3h0M466.8 107.7h0M469.9 97.6h0M469.0 100.6h0M461.5 101.1h0M448.9 107.8h0M457.1 99.9h0M467.8 99.6h0M470.2 104.0h0M465.2 103.0h0M457.4 106.2h0M458.7 100.4h0M461.7 103.2h0M466.5 103.8h0M455.8 107.8h0M469.6 107.7h0M459.9 107.8h0M453.7 106.5h0M464.9 108.8h0M447.2 106.6h0M460.0 97.8h0M469.0 99.1h0M467.7 98.6h0M463.1 108.5h0M461.2 106.7h0M467.0 99.1h0M470.0 89.2h0M462.4 108.9h0M442.4 107.5h0M469.9 108.9h0M462.5 94.1h0M467.9 100.1h0M470.2 99.9h0M466.0 103.1h0M462.0 105.8h0M458.5 102.9h0M468.7 99.9h0M462.4 104.5h0M465.1 107.1h0M462.4 97.3h0M448.8 104.2h0M468.4 103.4h0M464.7 100.3h0M469.8 101.4h0M467.4 101.1h0M466.4 95.0h0M467.9 89.5h0M462.3 106.9h0M459.8 108.7h0M457.1 103.3h0M463.0 103.1h0M464.0 106.9h0M465.4 96.4h0M470.1 109.4h0M442.5 109.0h0M462.0 99.1h0M453.7 105.5h0M461.2 102.5h0M464.7 102.8h0M461.2 99.7h0M466.3 107.7h0M469.9 101.2h0M463.8 108.7h0M442.5 107.3h0M469.3 99.5h0M467.3 97.0h0M450.6 109.0h0M453.8 106.2h0M463.9 91.8h0M448.6 105.0h0M457.7 107.2h0M465.7 106.2h0M465.0 104.6h0M468.3 106.7h0M469.8 102.8h0M461.1 99.1h0M465.1 100.5h0M459.6 108.8h0M461.2 108.2h0M450.8 108.9h0M467.3 107.8h0M467.8 105.2h0M469.9 109.1h0M456.7 102.7h0M469.4 96.3h0M464.7 98.4h0M461.2 104.6h0M465.0 108.2h0M466.0 105.9h0M453.6 108.9h0M462.2 99.6h0M466.6 108.6h0M456.7 104.4h0M452.1 103.8h0M461.0 101.2h0M464.1 107.2h0M450.6 107.7h0M461.9 105.3h0M463.4 108.5h0M462.6 105.8h0M459.9 103.8h0M468.2 105.6h0M465.1 103.3h0M469.3 93.4h0M469.7 95.6h0M464.4 100.3h0M468.9 108.3h0M456.9 106.9h0M469.5 109.2h0M465.7 109.1h0M454.0 99.2h0M469.7 109.5h0M461.3 107.1h0M463.1 109.4h0M469.7 107.7h0M467.4 97.9h0M453.2 102.0h0M466.7 104.3h0M469.3 106.0h0M469.2 105.8h0M466.2 99.9h0M469.7 97.2h0M469.3 104.8h0M467.6 102.5h0M467.6 95.7h0M466.3 108.7h0M457.1 106.2h0M461.2 107.1h0M458.1 103.4h0M464.8 107.4h0M460.0 105.8h0M464.0 92.9h0M467.7 96.8h0M470.2 95.0h0M464.0 97.0h0M469.4 97.0h0M465.4 105.0h0M461.1 108.6h0M455.4 103.3h0M467.8 108.4h0M462.6 108.2h0M468.2 103.7h0M468.9 99.8h0M470.1 99.4h0M468.3 91.1h0M470.0 102.6h0M459.1 109.0h0M465.6 104.2h0M467.3 106.1h0M468.3 104.6h0M469.0 91.3h0M460.3 107.3h0M465.3 102.5h0M462.2 107.1h0M467.3 90.2h0M463.4 98.7h0M468.6 99.6h0M466.5 97.0h0M466.2 97.1h0M464.2 102.3h0M468.5 105.5h0M465.9 101.8h0M469.3 107.7h0M444.5 106.1h0M458.3 105.8h0M460.5 107.0h0M469.9 92.1h0M469.8 102.5h0M466.7 101.5h0M461.8 103.4h0M462.1 108.4h0M468.0 107.5h0M470.2 94.7h0M463.9 105.7h0M454.3 106.6h0M453.4 99.0h0M463.9 102.4h0M463.0 107.0h0M464.8 102.7h0M467.3 103.4h0M468.6 101.4h0M458.5 105.3h0M470.3 108.1h0M468.8 106.3h0M465.8 100.6h0M462.6 100.6h0M450.3 106.5h0M456.4 108.2h0M457.9 106.0h0M466.9 88.2h0M457.1 108.7h0M462.5 108.7h0M449.1 109.1h0M470.1 104.3h0M470.2 96.3h0M470.4 88.6h0M470.4 104.0h0M466.2 99.1h0M467.0 104.7h0M456.2 109.0h0M464.8 107.9h0M463.5 105.9h0M453.8 100.8h0M468.1 101.2h0M467.0 105.1h0M454.1 108.9h0M466.4 101.9h0M463.5 105.3h0M467.8 99.9h0M467.5 98.5h0M467.3 103.3h0M460.7 102.7h0M459.5 108.2h0M459.8 108.5h0M465.2 96.4h0M469.8 92.9h0M464.2 93.2h0M459.4 101.6h0M460.8 108.9h0M465.4 106.2h0M469.7 108.0h0M466.6 98.3h0M466.5 104.0h0M455.0 99.1h0M460.8 102.1h0M456.0 108.1h0M444.5 109.4h0M461.9 99.4h0M469.6 105.8h0M467.7 104.0h0M467.8 102.4h0M449.3 103.6h0M452.8 100.5h0M469.0 104.5h0M469.9 105.6h0M469.5 106.4h0M470.2 101.1h0M451.9 103.7h0M469.2 98.8h0M449.9 102.0h0M463.2 99.3h0M468.0 102.0h0M470.1 109.0h0M455.2 102.8h0M469.2 100.0h0M456.4 106.8h0M460.7 106.8h0M468.7 95.6h0M452.1 101.4h0M468.0 96.6h0M466.8 107.6h0M469.3 104.4h0M469.3 106.3h0M464.8 103.7h0M467.0 97.5h0M466.5 96.6h0M470.3 93.5h0M461.1 91.4h0M456.1 93.4h0M457.3 95.1h0M449.3 99.5h0M453.1 96.8h0M462.3 91.1h0M454.7 97.3h0M455.4 96.6h0M461.1 92.2h0M449.2 101.1h0M461.3 92.0h0M458.4 94.3h0M466.0 85.7h0M466.9 87.5h0M450.2 100.6h0M453.2 97.1h0M469.0 85.7h0M460.3 92.8h0M462.9 88.6h0M453.9 97.8h0" stroke="#3867cc" stroke-width="0.95" stroke-linecap="round" fill="none"/>
<path d="M473.4 87.6h0M471.4 92.5h0M472.0 102.9h0M473.1 105.8h0M471.6 90.5h0M472.8 100.9h0M472.6 100.6h0M472.2 105.7h0M471.4 96.6h0M472.2 101.0h0M471.8 91.2h0M471.2 88.9h0M471.3 87.4h0M472.4 108.2h0M471.0 88.1h0M471.8 104.1h0M476.0 101.0h0M473.3 87.4h0M470.7 103.1h0M471.5 108.0h0M471.6 92.6h0M475.9 109.0h0M471.4 87.3h0M472.2 96.3h0M471.4 107.7h0M473.5 99.9h0M471.8 94.8h0M471.4 103.1h0M472.5 92.2h0M473.2 95.9h0M471.1 97.0h0M472.1 91.9h0M473.1 101.0h0M472.8 89.8h0M471.6 89.2h0M471.4 86.2h0M472.7 98.0h0M473.3 90.8h0M474.2 93.0h0M473.5 106.0h0M471.5 96.5h0M473.8 99.6h0M473.0 105.0h0M472.4 102.6h0M471.5 106.7h0M470.9 98.2h0M470.9 108.7h0M472.5 96.1h0M470.9 99.8h0M473.1 94.4h0M471.8 88.4h0M472.7 105.9h0M471.9 88.3h0M471.7 88.0h0M474.8 106.7h0M472.6 98.1h0M474.1 95.2h0M471.1 109.3h0M470.8 103.8h0M472.8 103.5h0M471.2 89.9h0M473.4 107.7h0M472.8 107.6h0M471.6 103.1h0M471.9 95.9h0M471.9 101.0h0M471.5 99.8h0M473.9 107.6h0M471.0 94.8h0M470.9 97.7h0M487.1 105.1h0M483.1 105.2h0M493.3 101.3h0M487.8 87.7h0M480.1 90.5h0M478.0 103.3h0M480.1 88.9h0M479.1 103.7h0M482.6 107.8h0M473.0 100.7h0M479.0 107.5h0M473.7 85.8h0M477.7 85.1h0M486.3 88.2h0M473.8 95.1h0M475.7 100.8h0M483.6 103.8h0M477.7 85.7h0M475.2 100.6h0M492.0 86.7h0M491.1 95.4h0M487.3 102.5h0M490.6 101.8h0M485.2 107.0h0M423.6 90.7h0M441.6 95.1h0M427.8 93.0h0M439.9 100.1h0M429.1 87.4h0M435.8 97.6h0M426.5 101.1h0M440.1 91.9h0M440.2 85.0h0M437.0 102.3h0M432.9 94.2h0M426.5 99.2h0M426.7 94.0h0M430.7 107.1h0M439.6 93.8h0M439.2 83.9h0M430.8 87.6h0M439.9 99.0h0M433.4 107.0h0M428.7 104.7h0M441.4 104.3h0M433.1 97.7h0M441.8 99.6h0M440.2 93.8h0M440.3 84.9h0M428.4 104.5h0M423.1 101.0h0M436.3 104.9h0M424.6 95.6h0M430.4 96.8h0" stroke="#e8302a" stroke-width="0.85" stroke-linecap="round" fill="none"/>
<path d="M393.5 27.2V128.5H521" stroke="#1a1a1a" stroke-width="1" fill="none"/>
<path d="M418.25 128.5v3.3M456.5 128.5v3.3M494.75 128.5v3.3M393.5 124.5h-3.3M393.5 105.7h-3.3M393.5 86.9h-3.3M393.5 68.1h-3.3M393.5 49.3h-3.3M393.5 30.5h-3.3" stroke="#1a1a1a" stroke-width=".9" fill="none"/>
<text transform="translate(417.05 141.25) scale(.92 1)" font-size="8.1" fill="#303030" stroke="#303030" stroke-width=".12" text-anchor="middle">−1</text>
<text transform="translate(456.5 141.25) scale(.92 1)" font-size="8.1" fill="#303030" stroke="#303030" stroke-width=".12" text-anchor="middle">0</text>
<text transform="translate(494.75 141.25) scale(.92 1)" font-size="8.1" fill="#303030" stroke="#303030" stroke-width=".12" text-anchor="middle">1</text>
<text transform="translate(387.3 127.15) scale(.92 1)" font-size="8.1" fill="#303030" stroke="#303030" stroke-width=".12" text-anchor="end">0.0</text>
<text transform="translate(387.3 108.35) scale(.92 1)" font-size="8.1" fill="#303030" stroke="#303030" stroke-width=".12" text-anchor="end">2.5</text>
<text transform="translate(387.3 89.55) scale(.92 1)" font-size="8.1" fill="#303030" stroke="#303030" stroke-width=".12" text-anchor="end">5.0</text>
<text transform="translate(387.3 70.75) scale(.92 1)" font-size="8.1" fill="#303030" stroke="#303030" stroke-width=".12" text-anchor="end">7.5</text>
<text transform="translate(387.3 51.95) scale(.92 1)" font-size="8.1" fill="#303030" stroke="#303030" stroke-width=".12" text-anchor="end">10.0</text>
<text transform="translate(387.3 33.15) scale(.92 1)" font-size="8.1" fill="#303030" stroke="#303030" stroke-width=".12" text-anchor="end">12.5</text>
<text x="456.2" y="22.5" font-size="7.85" fill="#333" text-anchor="middle">Sixteen days post-infusion</text>
<text x="456.5" y="154.05" font-size="8.6" fill="#303030" stroke="#303030" stroke-width=".25" text-anchor="middle" textLength="51" lengthAdjust="spacingAndGlyphs">Log<tspan font-size="6" dy="2">2</tspan><tspan dy="-2"> fold change</tspan></text>
<text transform="translate(364.3 78.2) rotate(-90)" font-size="8.4" fill="#303030" stroke="#303030" stroke-width=".25" text-anchor="middle" textLength="33.5" lengthAdjust="spacingAndGlyphs">-Log<tspan font-size="6" dy="2">10</tspan><tspan dy="-2"> FDR</tspan></text>
<g transform="scale(.25)" font-size="17" fill="#0c0c0c" stroke="#0c0c0c" stroke-width=".3" text-anchor="middle"><text x="1600" y="157.6">Ccl5</text><text x="1700" y="200">AW112010</text><text x="1970" y="202.6">Tnfsf8</text><text x="1945" y="217.6">Atf1a</text><text x="1905" y="240.6">Gm11808</text><text x="1695" y="250.4">Nkg7</text><text x="1850" y="254.4">mt-Atp8</text><text x="1696" y="262.4">Gzma</text><text x="1747.2" y="260">Plac8</text><text x="1955" y="268.6">Tagln2</text><text x="1764" y="284.4">Selenow</text><text x="1826.4" y="284.4">Erm</text><text x="1935" y="282.6">Arfk5b</text><text x="1842.4" y="298.4">Pa2g4</text><text x="1886" y="298.4">Hprt1</text><text x="1946" y="298.6">Trmdc10</text><text x="1794" y="307.6">Hdc1</text><text x="1850" y="310.6">Gm28661</text><text x="1735" y="320.6">Btg1</text><text x="1838.4" y="322.4">Smim5</text><text x="1914" y="315.6">Ldha</text><text x="1962" y="315.6">Zfp36l1</text><text x="1806" y="336.8">Rpl9-ps6</text><text x="1912" y="330.6">Mrpl42</text><text x="1968" y="330.8">Cd82</text><text x="1700" y="347.6">Ccl4</text><text x="1747.2" y="354">Hk2</text><text x="1850" y="348.6">Ptpn6</text><text x="1938" y="345.6">Zeb2os</text><text x="1926" y="363.6">Carhsp1</text></g>
</g>
<g>
<path d="M55.15 198.6V298M84.25 198.6V298M113.35 198.6V298M142.45 198.6V298M34.5 278.63H162.5M34.5 248.9H162.5M34.5 219.17H162.5" stroke="#f5f5f5" stroke-width=".35" fill="none"/>
<path d="M40.6 198.6V298M69.7 198.6V298M98.8 198.6V298M127.9 198.6V298M157 198.6V298M34.5 293.5H162.5M34.5 263.77H162.5M34.5 234.03H162.5M34.5 204.3H162.5" stroke="#efefef" stroke-width=".6" fill="none"/>
<path d="M84.25 198.6V298M113.35 198.6V298M34.5 279.53H162.5" stroke="#cdcdcd" stroke-width="1" fill="none"/>
<path d="M69.7 285.2h0M77.8 283.7h0M81.3 286.4h0M117.7 284.6h0M120.6 287.0h0M125.0 282.2h0M53.7 280.1h0M114.8 289.9h0M116.3 281.6h0M82.8 289.3h0M129.4 287.6h0M75.5 289.9h0M111.5 284.3h0M110.4 289.2h0M110.3 285.6h0M86.6 284.2h0M111.4 289.6h0M86.8 288.8h0M86.9 289.5h0M88.0 289.2h0M109.6 280.5h0M87.1 284.4h0M88.9 290.2h0M85.4 282.4h0M87.2 283.5h0M115.4 291.0h0M113.2 287.1h0M109.2 288.5h0M112.6 289.0h0M89.6 289.8h0M81.0 286.4h0M86.1 284.4h0M87.4 284.9h0M89.8 285.5h0" stroke="#9a9a9a" stroke-width="0.85" stroke-linecap="round" fill="none"/>
<path d="M94.2 284.7h0M104.3 288.3h0M90.8 283.2h0M101.9 292.0h0M93.5 287.9h0M105.5 289.5h0M91.4 286.5h0M102.7 290.9h0M106.3 285.8h0M98.1 288.2h0M105.3 284.9h0M94.6 288.5h0M95.6 289.2h0M95.8 286.0h0M89.0 282.3h0M93.7 289.6h0M107.7 283.7h0M106.8 284.7h0M96.8 291.1h0M101.6 288.0h0M94.1 286.8h0M107.5 284.7h0M101.8 287.3h0M103.8 291.4h0M93.3 288.5h0M94.4 288.6h0M103.1 288.6h0M104.7 284.0h0M98.6 289.5h0M95.6 290.8h0M104.2 288.3h0M102.1 287.6h0M106.9 284.7h0M96.2 288.2h0M101.8 290.3h0M94.0 284.6h0M93.1 288.6h0M100.5 287.1h0M104.6 288.7h0M94.4 290.6h0M97.0 287.1h0M91.8 286.6h0M94.1 291.1h0M103.1 288.8h0M101.1 289.5h0M101.0 291.4h0M103.1 290.8h0M104.9 284.1h0M94.2 285.6h0M99.0 289.3h0M105.2 286.7h0M101.6 292.7h0M106.8 285.0h0M105.9 288.2h0M96.4 285.8h0M95.0 290.4h0M104.6 289.4h0M102.8 289.4h0M106.4 283.2h0M104.7 288.9h0M95.5 288.5h0M91.7 284.3h0M90.5 285.2h0M104.8 289.3h0M96.6 290.0h0M105.2 286.1h0M101.3 291.9h0M103.9 289.4h0M91.7 285.7h0M90.7 285.0h0M103.5 290.6h0M102.9 292.0h0M102.2 286.6h0M94.0 287.5h0M99.7 290.7h0M92.2 288.3h0M98.2 292.1h0M95.3 287.0h0M95.9 288.5h0M101.8 287.1h0M102.2 292.1h0M92.7 287.6h0M97.3 289.5h0M106.1 288.6h0M104.5 289.8h0M98.0 287.7h0M102.5 287.9h0M94.7 287.6h0M96.3 292.4h0M104.6 291.0h0M99.8 292.4h0M101.6 289.5h0M96.4 288.7h0M101.4 292.0h0M106.0 287.4h0M100.9 288.4h0M95.7 288.6h0M105.6 288.0h0M93.6 284.7h0M95.7 287.6h0M103.2 292.0h0M96.2 291.6h0M94.2 287.1h0M101.7 289.9h0M93.5 286.7h0M98.8 288.7h0M93.1 289.6h0M101.0 286.8h0M102.9 291.4h0M102.8 290.2h0M102.4 290.1h0M97.0 289.0h0M91.4 285.0h0M103.4 286.2h0M92.3 286.0h0M106.2 287.5h0M98.5 293.3h0M94.5 290.1h0M100.0 288.6h0M106.2 285.2h0M97.5 289.4h0M102.4 288.1h0M95.9 285.7h0M100.4 289.5h0M93.6 286.8h0M105.1 288.0h0M103.4 288.5h0M99.9 287.6h0M96.4 288.5h0M102.9 291.9h0M94.9 285.0h0M90.5 283.7h0M95.6 285.9h0M94.0 289.7h0M102.4 287.4h0M92.7 286.6h0M102.2 292.2h0M95.1 286.4h0M97.2 292.4h0M92.8 284.7h0M99.5 290.6h0M106.4 283.7h0M96.3 290.7h0M101.9 288.3h0M92.3 285.7h0M109.3 281.9h0M92.9 287.1h0M91.7 286.0h0M93.5 289.5h0M94.7 286.6h0M97.5 289.2h0M93.7 284.8h0M92.8 286.6h0M92.4 289.4h0M105.0 286.4h0M96.5 292.5h0M105.2 284.8h0M101.9 287.1h0M94.1 289.9h0M97.7 287.3h0M91.6 286.7h0M103.6 287.8h0M90.7 285.4h0M95.9 289.3h0M98.7 289.7h0M101.5 289.8h0M100.9 290.1h0M94.8 288.6h0M96.0 286.6h0M102.6 285.5h0M104.7 287.7h0M106.7 286.5h0M89.9 283.5h0M95.8 287.4h0M99.3 292.4h0M101.3 287.8h0M96.9 293.4h0M103.2 287.2h0M88.8 279.7h0M96.1 288.6h0M93.3 284.7h0M96.6 293.3h0M91.7 283.7h0M96.6 291.1h0M102.1 285.8h0M100.5 289.8h0M101.1 289.5h0M99.0 291.6h0M97.3 293.1h0M95.1 286.6h0M96.6 286.6h0M95.5 291.7h0M102.3 287.5h0M100.6 290.4h0M106.8 285.4h0M96.7 291.5h0M106.0 288.0h0M91.4 285.3h0M99.1 288.4h0M96.3 287.2h0M93.4 286.1h0M97.4 287.2h0M91.6 286.1h0M97.7 290.6h0M106.4 285.1h0M106.2 288.4h0M106.3 285.1h0M93.4 287.1h0M103.9 287.0h0M105.7 284.4h0M99.9 291.8h0M103.3 285.5h0M95.0 290.1h0M103.0 286.0h0M94.1 290.9h0M95.3 288.7h0M101.2 291.8h0M96.1 286.3h0M104.4 290.0h0M103.4 288.8h0M91.9 286.3h0M96.0 289.5h0M94.1 285.4h0M96.2 288.3h0M104.3 284.7h0M105.1 286.6h0M88.2 280.8h0M92.1 287.1h0M97.0 290.0h0M98.3 288.4h0M91.3 284.6h0M107.6 284.8h0M103.3 290.3h0M102.6 290.4h0M93.2 290.3h0M98.4 287.6h0M98.1 291.2h0M92.3 286.9h0M93.6 290.2h0M103.5 285.9h0M95.9 290.5h0M105.6 285.0h0M96.3 289.8h0M96.6 293.0h0M99.9 291.3h0M96.3 286.2h0M95.8 291.2h0M101.9 290.5h0M90.6 280.5h0M92.1 289.1h0M92.4 287.5h0M99.0 288.2h0M98.8 288.8h0M91.8 285.1h0M99.0 292.8h0M101.6 289.7h0M98.4 289.1h0M105.2 286.9h0M103.7 286.9h0M98.8 293.1h0M100.9 292.0h0M103.6 290.5h0M96.8 289.9h0M102.2 286.6h0M105.8 286.7h0M93.9 284.7h0M94.9 289.2h0M104.8 289.1h0M96.7 291.7h0M105.4 285.4h0M93.8 285.3h0M106.6 284.2h0M101.8 286.9h0M105.3 285.6h0M97.9 288.1h0M94.1 286.3h0M94.9 290.1h0M102.5 286.8h0M93.0 286.6h0M104.4 287.8h0M103.2 286.1h0M94.7 287.2h0M94.3 290.6h0M101.2 292.5h0M96.0 289.9h0M99.2 291.1h0M93.8 285.2h0M94.0 288.0h0M92.3 286.7h0M94.1 284.9h0M95.1 286.2h0M94.2 285.8h0M100.3 287.9h0M95.7 286.6h0M105.1 284.2h0M97.6 289.0h0M103.8 287.1h0M92.4 284.4h0M100.5 290.7h0M100.2 292.6h0M103.3 288.5h0M104.6 285.5h0M97.8 288.4h0M95.5 290.8h0M89.9 282.1h0M102.6 288.6h0M98.8 289.1h0M103.1 292.4h0M94.9 289.1h0M92.1 283.3h0M93.2 288.9h0M103.6 286.7h0M105.9 284.9h0M99.8 293.5h0M105.4 287.1h0M102.9 291.7h0M105.6 288.4h0M91.5 285.7h0M102.0 289.9h0M93.5 287.0h0M93.6 290.1h0M101.2 287.8h0M94.1 286.9h0M102.0 288.3h0M102.6 289.6h0M91.5 286.9h0M96.2 291.5h0M102.3 290.0h0M96.6 286.3h0M100.3 288.4h0M96.4 292.2h0M102.3 287.4h0M90.6 284.8h0M96.8 291.3h0M107.0 284.9h0M97.9 293.7h0M105.4 284.0h0M102.2 288.1h0M100.0 290.6h0M98.1 291.4h0M96.0 289.0h0M94.5 289.0h0M100.0 288.2h0M99.8 288.1h0M103.3 291.9h0M93.6 290.4h0M102.3 291.5h0M95.3 286.4h0M101.3 291.5h0M99.7 287.4h0M96.9 292.1h0M96.3 287.6h0M104.0 289.1h0M102.8 288.6h0M93.9 286.6h0M99.0 290.0h0M97.7 287.3h0M93.7 285.3h0M105.8 286.9h0M94.1 287.9h0M97.4 287.3h0M93.8 285.3h0M100.4 293.0h0M90.9 280.7h0M94.1 288.9h0M103.9 285.4h0M100.1 292.3h0M101.6 290.2h0M93.9 288.0h0M103.2 288.0h0M93.1 284.6h0M94.9 289.7h0M98.0 290.6h0M106.0 287.4h0M97.3 291.3h0M93.5 285.1h0M93.8 290.7h0M98.4 293.6h0M103.1 287.5h0M98.4 290.6h0M94.6 285.1h0M100.6 291.9h0M99.0 288.7h0M102.9 287.8h0M103.7 288.2h0M99.8 292.7h0M102.3 288.4h0M100.5 291.8h0M97.5 292.7h0M104.2 285.3h0M100.2 290.4h0M102.1 292.7h0M96.7 293.4h0M90.4 285.7h0M91.2 285.8h0M106.8 286.4h0M91.3 286.5h0M102.9 290.4h0M104.9 288.1h0M101.4 286.7h0M98.6 290.5h0M97.1 287.0h0M94.2 286.2h0M93.8 288.3h0M92.7 287.3h0M99.8 293.0h0M95.6 289.4h0M101.0 290.0h0M98.8 289.9h0M104.4 285.0h0M107.9 284.4h0M101.7 292.6h0M100.0 288.1h0M99.8 291.0h0M103.2 287.3h0M90.4 283.0h0M102.9 291.7h0M93.8 289.5h0M104.4 289.9h0M97.8 287.1h0M95.2 286.0h0M97.7 292.7h0M100.3 291.1h0M93.6 289.3h0M106.5 283.8h0M107.0 286.5h0M99.6 287.8h0M91.0 284.0h0M93.2 289.1h0M101.6 286.4h0M98.9 290.6h0M96.6 290.6h0M106.2 284.8h0M93.2 286.2h0M103.9 287.7h0M98.6 291.5h0M95.4 290.1h0M94.6 285.0h0M93.4 288.7h0M101.7 292.9h0M102.1 290.5h0M97.5 288.1h0M92.9 285.6h0M98.2 288.7h0M96.8 290.7h0M91.4 286.3h0M95.3 290.1h0M101.3 290.5h0M100.8 288.0h0M95.9 288.7h0M102.6 285.7h0M98.4 289.1h0M101.9 287.4h0M102.6 288.6h0M103.4 287.1h0M103.2 285.4h0M99.0 292.1h0M103.7 285.0h0M90.7 285.0h0M99.5 289.5h0M99.8 293.9h0M96.5 288.9h0M95.2 287.0h0M96.6 290.9h0M101.4 291.2h0M100.4 289.6h0M107.5 284.9h0M105.7 287.6h0M102.6 287.3h0M93.5 288.1h0M102.8 287.3h0M103.6 288.8h0M92.6 288.7h0M95.3 292.0h0M89.5 280.8h0M101.4 291.4h0M93.8 286.0h0M94.0 287.5h0M91.9 286.9h0M98.4 288.2h0M99.8 288.3h0M103.7 289.9h0M98.5 292.2h0M106.0 287.9h0M93.3 287.8h0M101.7 290.0h0M104.9 285.0h0M93.4 284.8h0M102.8 289.6h0M93.0 288.9h0M103.1 290.9h0M92.7 287.3h0M97.7 291.1h0M102.6 289.7h0M108.5 284.1h0M103.0 291.3h0M106.1 285.3h0M104.1 288.1h0M94.4 290.9h0M102.5 286.1h0M104.0 287.9h0M96.3 286.6h0M101.2 289.5h0M104.2 290.2h0M96.9 291.8h0M98.1 291.7h0M99.9 288.5h0M95.8 289.5h0M98.1 292.5h0M97.0 290.9h0M93.4 288.5h0M100.2 292.5h0M100.2 293.5h0M97.3 287.2h0M100.6 292.1h0M98.2 289.5h0M106.2 284.7h0M96.3 292.3h0M98.2 289.3h0M99.8 291.1h0M95.9 286.5h0M100.0 288.2h0M97.1 292.3h0M96.7 286.6h0M94.6 284.8h0M94.6 286.4h0M103.0 290.9h0M107.2 281.7h0M100.7 287.3h0M99.2 289.5h0M96.4 292.1h0M92.4 288.1h0M98.0 292.1h0M95.8 291.4h0M100.0 287.2h0M103.6 286.7h0M93.6 287.7h0M97.4 289.0h0M93.7 285.8h0M107.2 285.8h0M97.6 292.8h0M103.8 286.5h0M96.4 286.2h0M100.1 288.0h0M97.1 289.2h0M93.6 286.5h0M100.3 292.8h0M105.8 285.2h0M92.4 288.3h0M96.8 288.1h0M95.6 287.3h0M102.4 288.7h0M101.0 290.0h0M96.5 290.7h0M97.9 291.2h0M99.2 293.5h0M94.2 285.8h0M90.8 283.6h0M100.8 287.2h0M94.0 290.0h0M94.1 289.6h0M95.8 286.2h0M101.9 288.7h0M94.7 289.5h0M103.9 286.5h0M103.5 290.3h0M94.7 292.0h0M102.7 289.4h0M105.5 285.4h0M90.6 280.7h0M95.2 290.6h0M105.3 286.4h0M98.4 291.9h0M103.8 287.3h0M99.7 291.6h0M95.6 290.9h0M95.1 286.2h0M99.7 292.0h0M94.0 288.3h0M102.2 289.6h0M91.0 281.4h0M107.1 286.7h0M94.0 290.4h0M90.3 282.7h0M104.2 287.6h0M102.7 291.4h0M103.0 290.1h0M106.6 286.4h0M105.2 284.1h0M96.4 292.7h0M104.4 288.0h0M102.0 291.0h0M92.2 286.9h0M100.2 293.3h0M93.8 286.5h0M103.2 288.0h0M104.4 287.8h0M99.5 288.4h0M104.8 287.3h0M91.9 285.8h0M99.2 292.4h0M96.6 289.7h0M95.6 291.1h0M99.3 288.9h0M94.7 287.5h0M105.0 289.4h0M92.0 286.2h0M99.9 293.4h0M98.6 291.5h0M99.4 291.4h0M99.6 292.1h0M102.4 287.9h0M100.9 287.1h0M96.9 289.7h0M94.8 286.8h0M95.8 289.8h0M101.1 288.0h0M98.2 293.1h0M93.1 289.7h0M96.7 292.4h0M102.2 286.5h0M105.5 287.1h0M106.9 285.7h0M92.9 285.5h0M94.4 288.0h0M103.6 291.6h0M93.0 290.0h0M101.9 287.6h0M97.3 287.3h0M96.3 287.0h0M96.8 291.8h0M99.3 291.6h0M105.0 286.9h0M102.0 292.6h0M93.9 288.4h0M93.9 288.9h0M106.8 286.0h0M102.7 292.2h0M91.7 286.6h0M95.8 289.7h0M93.9 287.5h0M97.9 291.2h0M97.2 287.4h0M94.5 286.6h0M94.4 287.3h0M96.6 286.3h0M106.5 287.6h0M105.7 288.7h0M92.2 287.1h0M95.1 291.7h0M95.2 287.3h0M100.9 291.7h0M99.4 289.0h0M103.3 288.8h0M95.5 291.5h0M96.0 290.8h0M97.8 286.9h0M95.8 287.6h0M97.3 288.7h0M102.2 287.1h0M94.7 289.5h0M102.2 288.4h0M103.6 289.0h0M101.1 286.6h0M98.9 292.5h0M92.1 286.2h0M96.8 293.4h0M94.0 290.1h0M92.9 283.5h0M101.8 291.0h0M101.5 289.2h0M101.2 291.3h0M107.1 286.1h0M100.5 291.2h0M104.9 289.3h0M93.8 289.8h0M100.2 290.8h0M104.5 288.3h0M105.0 289.6h0M107.2 284.6h0M98.6 288.8h0M96.6 287.0h0M98.2 293.0h0M94.9 286.3h0M105.7 287.7h0M99.1 290.1h0M93.4 288.1h0M101.1 293.4h0M102.6 291.3h0M101.5 287.0h0M105.7 288.7h0M104.3 285.3h0M96.7 287.1h0M104.8 284.7h0M107.2 285.7h0M98.0 291.7h0M93.0 285.8h0M100.9 287.0h0M95.4 291.1h0M100.0 291.5h0M98.3 289.8h0M94.6 286.1h0M101.9 289.4h0M104.8 288.4h0M96.2 288.6h0M97.9 287.8h0M104.0 288.9h0M101.9 292.9h0M106.9 283.7h0M105.6 288.2h0M98.2 292.7h0M104.5 290.9h0M107.4 284.4h0M107.6 284.3h0M105.5 288.3h0M94.1 289.6h0M101.4 288.9h0M102.7 289.9h0M104.1 288.5h0M99.9 287.8h0M99.6 291.5h0M106.9 283.5h0M97.1 290.9h0M103.4 292.1h0M93.1 287.6h0M97.2 289.6h0M92.4 286.7h0M98.8 291.4h0M100.0 288.0h0M96.8 291.6h0M106.5 286.0h0M100.7 290.5h0M92.3 284.1h0M101.2 290.7h0M100.8 287.8h0M98.5 289.2h0M91.1 284.0h0M95.2 289.5h0M105.8 288.1h0M94.7 285.5h0M98.5 291.8h0M105.7 288.2h0M107.0 285.5h0M101.5 290.2h0M100.0 291.8h0M100.3 287.6h0M106.5 286.0h0M94.8 285.3h0M103.9 288.5h0M95.1 291.0h0M100.0 293.4h0M100.0 289.3h0M95.7 291.7h0M97.6 287.9h0M103.5 287.5h0M102.7 287.3h0M96.1 290.7h0M88.4 281.1h0M97.2 286.3h0M95.1 287.6h0M103.8 286.1h0M91.1 284.3h0M94.5 289.7h0M106.4 286.1h0M103.3 289.0h0M96.1 289.2h0M88.2 280.9h0M102.6 291.3h0M96.5 288.4h0M93.3 286.2h0M102.1 287.4h0M103.7 289.2h0M107.0 286.4h0M97.8 290.8h0M96.0 288.4h0M96.4 288.4h0M101.6 291.4h0M97.4 290.7h0M103.4 285.2h0M95.2 291.4h0M92.0 282.4h0M98.9 289.5h0M108.9 283.0h0M102.5 286.8h0M101.1 288.7h0M103.4 285.2h0M100.1 291.5h0M96.1 287.9h0M107.0 286.4h0M96.6 286.8h0M93.2 289.8h0M100.6 292.2h0M105.8 283.9h0M93.8 284.8h0M94.5 289.9h0M107.6 285.7h0M100.1 291.5h0M96.6 290.0h0M109.5 281.7h0M99.6 291.6h0M87.4 281.2h0M87.1 280.0h0M86.5 290.2h0M85.4 282.0h0M86.5 281.8h0M85.4 281.7h0M87.1 289.8h0M87.1 287.0h0M87.4 291.6h0M85.7 281.6h0M85.3 281.5h0M86.3 284.1h0M87.7 291.7h0M86.1 282.5h0" stroke="#3d3d3d" stroke-width="1.1" stroke-linecap="round" fill="none"/>
<path d="M85.7 269.3h0M88.9 277.7h0M87.5 275.9h0M88.7 274.5h0M90.2 272.7h0M90.8 268.8h0M88.5 277.0h0M88.4 276.8h0M89.3 276.1h0M85.3 270.2h0M87.0 271.2h0M88.2 273.4h0M107.8 277.9h0M111.4 275.9h0M108.1 277.6h0M107.7 275.9h0" stroke="#3867cc" stroke-width="0.95" stroke-linecap="round" fill="none"/>
<path d="M120.6 273.8h0M114.9 267.1h0M125.0 277.9h0M127.2 267.9h0M122.2 268.4h0M127.6 267.9h0M122.1 275.7h0M121.7 267.5h0M118.7 275.6h0M72.7 270.4h0M81.1 265.6h0M75.9 269.5h0" stroke="#e8302a" stroke-width="0.85" stroke-linecap="round" fill="none"/>
<path d="M34.5 198.6V298H162.5" stroke="#1a1a1a" stroke-width="1" fill="none"/>
<path d="M40.6 298v3.3M69.7 298v3.3M98.8 298v3.3M127.9 298v3.3M157 298v3.3M34.5 293.5h-3.3M34.5 263.77h-3.3M34.5 234.03h-3.3M34.5 204.3h-3.3" stroke="#1a1a1a" stroke-width=".9" fill="none"/>
<text transform="translate(39.4 310.75) scale(.92 1)" font-size="8.1" fill="#303030" stroke="#303030" stroke-width=".12" text-anchor="middle">−2</text>
<text transform="translate(68.5 310.75) scale(.92 1)" font-size="8.1" fill="#303030" stroke="#303030" stroke-width=".12" text-anchor="middle">−1</text>
<text transform="translate(98.8 310.75) scale(.92 1)" font-size="8.1" fill="#303030" stroke="#303030" stroke-width=".12" text-anchor="middle">0</text>
<text transform="translate(127.9 310.75) scale(.92 1)" font-size="8.1" fill="#303030" stroke="#303030" stroke-width=".12" text-anchor="middle">1</text>
<text transform="translate(157 310.75) scale(.92 1)" font-size="8.1" fill="#303030" stroke="#303030" stroke-width=".12" text-anchor="middle">2</text>
<text transform="translate(28.3 296.15) scale(.92 1)" font-size="8.1" fill="#303030" stroke="#303030" stroke-width=".12" text-anchor="end">0</text>
<text transform="translate(28.3 266.42) scale(.92 1)" font-size="8.1" fill="#303030" stroke="#303030" stroke-width=".12" text-anchor="end">100</text>
<text transform="translate(28.3 236.68) scale(.92 1)" font-size="8.1" fill="#303030" stroke="#303030" stroke-width=".12" text-anchor="end">200</text>
<text transform="translate(28.3 206.95) scale(.92 1)" font-size="8.1" fill="#303030" stroke="#303030" stroke-width=".12" text-anchor="end">300</text>
<text x="98.5" y="193.2" font-size="7.85" fill="#333" text-anchor="middle">Three days post-infusion</text>
<text x="98.8" y="323.55" font-size="8.6" fill="#303030" stroke="#303030" stroke-width=".25" text-anchor="middle" textLength="51" lengthAdjust="spacingAndGlyphs">Log<tspan font-size="6" dy="2">2</tspan><tspan dy="-2"> fold change</tspan></text>
<text transform="translate(8 248.2) rotate(-90)" font-size="8.4" fill="#303030" stroke="#303030" stroke-width=".25" text-anchor="middle" textLength="33.5" lengthAdjust="spacingAndGlyphs">-Log<tspan font-size="6" dy="2">10</tspan><tspan dy="-2"> FDR</tspan></text>
<g transform="scale(.25)" font-size="17" fill="#0c0c0c" stroke="#0c0c0c" stroke-width=".3" text-anchor="middle"><text x="308" y="833.6">Rpl38</text><text x="293" y="890.6">Rps28,</text><text x="298" y="915.6">Rpl37</text><text x="347" y="917.6">Rpl29</text><text x="318" y="935.6">Rpl39</text><text x="348" y="952.6">Rpl36</text><text x="290" y="960.6">Gapdh,</text><text x="302" y="985.6">Rps27</text><text x="358" y="980.6">Rps21</text><text x="302" y="1003.6">Tomm7</text><text x="365" y="1003.6">Rpl37a</text><text x="398" y="1018.6">Cox7c</text><text x="320" y="1033.6">Eno1.Gm11808</text><text x="255" y="1043.6">Atp5e</text><text x="350" y="1045.6">Rps21</text><text x="465" y="1042.6">Ly6a</text><text x="505" y="1049.6">Il10</text><text x="581.6" y="1046.8">Gzmb</text><text x="330" y="1058.6">Ndufb1-ps.Ndufa3</text><text x="446" y="1057.6">Ccnd1</text><text x="492.8" y="1065.6">Klra</text><text x="324" y="1069.6">Rpl35</text><text x="418" y="1068.6">Pkur</text><text x="380" y="1080.6">Rpl35a</text><text x="316" y="1085.6">Llb</text><text x="432" y="1091.6">Selenow</text><text x="561.6" y="1081.6">Gzma</text><text x="348" y="1105.6">Rps10a</text></g>
</g>
<g>
<path d="M257.62 198.5V298M296.38 198.5V298M218.88 198.5V298M335.12 198.5V298M212.6 282.77H341M212.6 261.32H341M212.6 239.88H341M212.6 218.43H341" stroke="#f5f5f5" stroke-width=".35" fill="none"/>
<path d="M238.25 198.5V298M277 198.5V298M315.75 198.5V298M212.6 293.5H341M212.6 272.05H341M212.6 250.6H341M212.6 229.15H341M212.6 207.7H341" stroke="#efefef" stroke-width=".6" fill="none"/>
<path d="M264.52 198.5V298M288.7 198.5V298M212.6 272.05H341" stroke="#cdcdcd" stroke-width="1" fill="none"/>
<path d="M222.0 280.6h0M240.2 277.2h0M247.9 287.1h0M259.6 284.1h0M298.3 285.8h0M304.1 278.5h0M253.8 267.8h0M296.4 288.4h0M263.4 290.1h0M292.5 281.5h0M232.4 271.2h0" stroke="#9a9a9a" stroke-width="0.85" stroke-linecap="round" fill="none"/>
<path d="M284.1 277.5h0M284.0 277.3h0M283.9 283.4h0M279.9 286.7h0M272.7 291.9h0M272.3 285.3h0M269.9 284.7h0M275.4 292.1h0M275.8 291.9h0M282.7 280.9h0M280.5 287.5h0M269.6 284.5h0M265.9 274.6h0M268.7 276.3h0M277.9 285.1h0M282.5 283.9h0M283.3 280.6h0M275.0 291.4h0M281.2 282.6h0M279.0 287.1h0M284.6 275.2h0M277.5 291.2h0M284.9 280.3h0M285.7 275.6h0M275.8 287.8h0M268.1 274.7h0M267.4 275.4h0M273.9 292.6h0M270.3 279.7h0M275.3 294.1h0M272.1 283.4h0M270.3 284.3h0M275.4 288.1h0M269.0 286.1h0M268.7 277.5h0M279.2 286.3h0M274.2 289.2h0M270.8 280.0h0M269.3 284.5h0M285.1 277.3h0M276.1 287.7h0M271.1 286.4h0M268.5 277.5h0M272.3 283.5h0M278.9 283.4h0M273.5 287.7h0M274.1 293.3h0M285.5 273.2h0M278.9 290.9h0M269.2 276.1h0M280.9 285.6h0M283.9 272.4h0M280.2 285.0h0M285.9 273.2h0M279.1 283.0h0M272.2 287.7h0M266.9 278.8h0M271.5 280.5h0M284.8 280.1h0M274.3 284.1h0M277.7 287.9h0M280.9 281.3h0M276.2 290.2h0M281.3 280.3h0M281.9 281.4h0M280.6 285.2h0M266.4 277.6h0M271.9 288.0h0M272.3 285.2h0M266.8 277.6h0M282.5 285.1h0M282.5 279.8h0M279.8 281.8h0M268.0 273.0h0M269.7 279.1h0M268.7 277.1h0M272.4 289.5h0M268.4 279.9h0M282.1 276.2h0M282.0 284.9h0M282.6 282.8h0M274.6 283.9h0M268.7 272.1h0M279.8 286.1h0M276.7 285.3h0M277.0 293.5h0M275.7 284.6h0M280.4 281.2h0M283.0 273.3h0M284.3 273.8h0M271.6 286.1h0M274.6 288.6h0M284.9 276.9h0M277.5 289.0h0M279.6 285.0h0M275.6 291.0h0M267.7 276.0h0M282.8 276.8h0M275.6 289.7h0M268.0 283.2h0M275.4 287.4h0M277.1 283.6h0M281.0 282.9h0M277.1 290.4h0M268.0 275.6h0M278.4 287.1h0M282.8 284.7h0M277.2 291.4h0M275.3 293.8h0M278.6 288.5h0M275.2 285.6h0M284.6 273.2h0M283.0 274.9h0M279.3 283.9h0M270.2 283.8h0M269.1 280.7h0M285.0 275.5h0M275.5 285.8h0M284.2 277.7h0M277.8 285.2h0M282.6 282.2h0M284.2 279.0h0M273.8 283.6h0M267.3 279.7h0M284.5 280.2h0M276.1 293.5h0M276.9 292.2h0M275.2 289.2h0M281.1 287.9h0M279.8 288.5h0M274.8 291.9h0M280.2 287.9h0M284.2 281.8h0M265.6 274.9h0M276.7 285.7h0M278.2 285.5h0M282.8 284.7h0M281.5 280.4h0M268.6 277.7h0M285.5 272.9h0M272.1 285.6h0M267.6 279.8h0M278.0 286.1h0M283.2 276.8h0M273.5 287.6h0M283.4 275.5h0M281.1 283.6h0M270.5 279.5h0M279.8 282.9h0M277.7 286.3h0M277.5 283.9h0M274.1 291.9h0M273.3 291.8h0M269.1 282.8h0M269.6 283.7h0M284.9 276.5h0M275.3 292.7h0M280.8 282.9h0M283.3 283.6h0M267.3 282.1h0M269.7 279.2h0M282.5 283.4h0M279.2 282.6h0M277.7 283.9h0M271.8 282.0h0M281.1 287.1h0M280.8 283.0h0M267.3 280.4h0M275.0 288.6h0M268.9 278.8h0M265.3 272.1h0M277.6 286.6h0M270.2 284.6h0M275.7 287.3h0M273.5 291.7h0M273.5 292.7h0M281.6 287.5h0M267.0 275.6h0M278.3 289.0h0M282.8 280.0h0M270.7 287.5h0M279.5 291.1h0M274.6 288.5h0M266.9 280.7h0M269.6 283.5h0M280.3 282.7h0M283.0 284.6h0M272.9 287.4h0M268.9 283.8h0M266.1 273.7h0M276.5 288.4h0M283.8 279.2h0M277.0 287.4h0M272.7 288.5h0M275.9 286.1h0M276.2 290.5h0M265.3 273.1h0M271.4 285.7h0M279.3 288.9h0M275.7 294.0h0M277.2 291.9h0M279.8 288.0h0M272.7 284.8h0M268.2 282.0h0M268.0 274.9h0M273.1 287.7h0M272.5 281.7h0M265.6 273.9h0M272.0 290.4h0M284.7 276.0h0M272.5 285.4h0M282.5 277.9h0M272.5 286.2h0M269.4 281.6h0M273.8 283.5h0M278.5 290.0h0M267.4 278.6h0M282.1 276.7h0M268.0 283.5h0M268.6 285.3h0M265.1 272.4h0M275.8 285.4h0M285.1 275.0h0M268.6 284.8h0M282.5 285.3h0M274.9 285.7h0M278.5 291.6h0M278.6 287.0h0M280.0 287.8h0M273.3 291.2h0M272.9 282.9h0M280.8 284.4h0M273.6 292.6h0M277.7 289.2h0M268.5 273.9h0M273.1 289.6h0M269.1 285.6h0M284.1 272.6h0M274.6 290.3h0M276.4 284.8h0M282.3 277.2h0M275.0 292.6h0M272.1 291.8h0M286.3 273.3h0M267.6 280.3h0M279.7 286.7h0M283.6 284.0h0M276.3 287.5h0M267.6 274.8h0M266.2 272.8h0M274.1 291.4h0M279.7 283.2h0M279.9 288.9h0M282.2 285.2h0M284.6 278.8h0M268.7 279.5h0M273.7 288.7h0M281.0 285.8h0M280.5 284.7h0M271.0 285.3h0M266.7 280.3h0M269.5 277.8h0M274.3 285.8h0M273.8 284.4h0M272.1 291.5h0M280.9 285.6h0M267.4 272.5h0M280.9 283.7h0M283.9 282.8h0M267.5 282.2h0M279.5 282.4h0M266.1 277.3h0M280.0 287.3h0M270.1 286.5h0M267.8 275.1h0M279.6 283.6h0M265.8 272.1h0M275.5 289.5h0M284.6 277.6h0M281.2 284.1h0M281.7 284.0h0M282.5 274.9h0M272.5 289.7h0M282.0 283.2h0M272.6 287.2h0M283.1 285.7h0M285.0 277.0h0M279.0 285.1h0M282.5 277.7h0M274.6 293.2h0M284.5 272.6h0M267.9 280.5h0M274.8 287.9h0M269.8 280.8h0M272.8 288.2h0M282.4 285.4h0M273.4 292.5h0M272.6 291.1h0M273.2 288.8h0M272.5 288.6h0M269.1 276.4h0M274.9 287.5h0M283.9 276.9h0M276.3 293.6h0M278.4 291.6h0M278.8 291.3h0M284.8 273.3h0M266.7 277.2h0M274.6 293.4h0M282.8 273.5h0M277.4 287.9h0M269.7 286.9h0M282.1 282.4h0M279.9 288.1h0M272.3 285.3h0M268.7 282.5h0M283.8 282.7h0M282.3 287.3h0M284.0 279.1h0M280.2 281.9h0M279.2 290.8h0M284.3 276.9h0M268.3 280.6h0M274.6 283.9h0M281.0 281.3h0M272.1 287.1h0M269.6 286.5h0M283.8 283.5h0M272.2 290.8h0M281.3 282.0h0M275.5 288.8h0M281.4 287.2h0M266.0 274.9h0M267.2 282.3h0M274.1 287.4h0M284.4 280.2h0M283.6 274.6h0M268.7 277.4h0M280.3 286.2h0M270.0 282.5h0M280.8 282.2h0M273.7 290.6h0M280.3 280.3h0M281.2 283.2h0M278.9 283.1h0M284.1 279.0h0M278.1 290.9h0M281.0 287.9h0M274.8 286.5h0M270.8 287.2h0M279.5 291.1h0M277.5 286.2h0M273.1 282.8h0M274.3 291.8h0M280.0 286.9h0M270.4 286.9h0M271.9 289.1h0M269.0 277.2h0M267.7 274.0h0M274.0 284.8h0M278.2 291.4h0M279.7 285.8h0M280.9 283.1h0M271.6 285.2h0M267.4 279.2h0M269.6 279.0h0M266.9 274.5h0M269.2 284.3h0M270.7 287.6h0M268.0 274.1h0M267.8 275.1h0M278.1 289.6h0M281.1 288.2h0M281.8 280.9h0M284.3 276.8h0M275.5 293.0h0M280.7 288.8h0M277.2 284.9h0M282.3 283.1h0M269.4 278.0h0M284.0 282.5h0M270.0 283.3h0M280.2 287.6h0M270.7 280.9h0M283.1 282.2h0M286.1 272.7h0M279.4 288.4h0M274.7 289.7h0M274.5 285.9h0M278.5 286.2h0M281.2 284.3h0M277.8 288.4h0M283.5 280.0h0M284.9 276.7h0M276.5 293.6h0M284.3 274.2h0M276.5 290.8h0M279.7 286.1h0M280.3 283.7h0M277.1 284.8h0M273.5 287.8h0M282.2 279.4h0M268.9 276.3h0M271.0 288.0h0M276.0 289.0h0M273.0 283.3h0M276.2 289.3h0M268.6 273.2h0M282.5 276.1h0M282.6 276.8h0M268.4 285.3h0M267.9 277.9h0M283.2 285.0h0M274.1 284.2h0M274.5 290.2h0M273.3 292.1h0M269.9 280.6h0M278.9 288.4h0M269.9 282.6h0M282.0 282.2h0M266.8 275.0h0M275.3 286.8h0M275.6 293.3h0M275.1 288.2h0M282.6 284.0h0M274.3 289.3h0M275.4 286.8h0M267.3 279.1h0M269.6 285.3h0M276.4 286.0h0M270.7 287.4h0M269.5 282.9h0M275.9 289.0h0M268.0 276.5h0M285.5 278.4h0M282.5 281.7h0M271.0 282.8h0M269.4 283.0h0M272.6 290.3h0M270.2 282.3h0M285.1 279.3h0M281.7 284.1h0M273.3 284.3h0M283.6 275.5h0M275.6 293.6h0M278.5 288.4h0M270.5 281.1h0M266.0 276.7h0M267.8 283.0h0M273.0 292.0h0M268.5 282.9h0M272.5 281.5h0M274.0 290.6h0M282.2 283.9h0M265.8 272.8h0M274.4 291.5h0M278.3 292.0h0M276.1 290.5h0M282.9 280.5h0M283.9 274.8h0M277.6 289.1h0M284.4 276.1h0M277.9 288.1h0M268.6 283.2h0M269.0 278.4h0M278.2 289.7h0M283.6 283.9h0M283.4 275.5h0M275.8 285.5h0M283.2 277.4h0M277.5 284.4h0M267.6 272.6h0M271.7 285.0h0M283.7 276.6h0M279.9 290.9h0M282.3 285.8h0M274.8 289.2h0M274.9 285.1h0M278.3 285.2h0M276.0 287.5h0M272.3 284.8h0M280.7 280.4h0M279.8 282.4h0M275.7 287.8h0M269.8 279.7h0M268.3 279.8h0M280.2 284.7h0M279.8 284.2h0M275.8 288.9h0M284.7 276.3h0M270.2 285.5h0M276.0 286.6h0M285.3 273.7h0M277.6 286.5h0M279.9 288.1h0M270.2 285.6h0M270.6 283.4h0M278.8 281.7h0M274.1 284.9h0M281.7 280.7h0M277.4 292.6h0M283.2 274.0h0M273.4 284.3h0M277.0 284.6h0M281.4 284.8h0M276.4 286.7h0M269.3 277.1h0M278.4 284.7h0M279.7 290.7h0M280.9 285.9h0M270.8 283.8h0M268.7 285.7h0M279.5 290.6h0M267.5 274.7h0M272.6 289.3h0M269.7 279.0h0M271.7 284.5h0M280.0 283.7h0M282.6 280.2h0M273.6 293.0h0M281.9 283.6h0M280.2 284.5h0M279.5 285.0h0M275.5 294.1h0M274.3 293.1h0M279.4 283.8h0M273.1 284.4h0M280.5 286.1h0M274.2 290.2h0M283.1 285.6h0M280.2 280.4h0M266.3 276.7h0M281.9 278.4h0M275.5 293.8h0M278.8 285.9h0M279.3 284.0h0M283.6 277.1h0M268.5 282.5h0M282.9 277.3h0M284.5 280.3h0M273.5 291.3h0M284.0 282.4h0M270.1 281.9h0M280.9 287.4h0M285.7 274.9h0M281.4 285.7h0M278.2 283.9h0M274.8 291.5h0M283.9 278.3h0M270.0 281.3h0M274.4 287.7h0M267.5 276.6h0M280.3 282.9h0M266.0 273.4h0M284.2 276.8h0M276.9 290.5h0M274.9 287.8h0M283.1 276.1h0M275.9 292.8h0M280.1 289.8h0M267.0 274.0h0M267.0 277.0h0M281.0 287.5h0M280.0 285.8h0M277.6 292.2h0M275.3 289.7h0M274.2 293.0h0M268.8 282.2h0M280.7 281.9h0M280.6 289.4h0M283.5 276.5h0M267.8 283.5h0M272.5 282.0h0M271.6 280.6h0M273.3 288.0h0M267.3 277.2h0M268.2 285.0h0M280.9 283.9h0M278.6 289.7h0M279.0 287.0h0M268.8 284.1h0M282.7 279.2h0M268.6 284.2h0M269.5 282.5h0M267.2 278.4h0M273.3 285.0h0M275.0 292.8h0M282.0 282.6h0M284.6 272.9h0M278.1 292.1h0M273.8 284.2h0M270.2 280.8h0M273.5 283.7h0M274.7 290.4h0M280.6 283.3h0M278.7 291.1h0M272.7 291.1h0M273.8 286.1h0M275.1 288.9h0M280.4 283.4h0M283.5 273.2h0M273.7 288.1h0M273.9 285.6h0M285.5 276.5h0M280.6 283.3h0M283.2 278.2h0M285.0 275.5h0M282.2 276.4h0M277.9 289.4h0M265.7 275.0h0M279.2 289.8h0M267.7 279.3h0M274.1 292.1h0M276.8 286.3h0M277.1 289.9h0M267.8 281.5h0M279.8 286.2h0M282.6 282.8h0M272.5 287.8h0M274.6 285.3h0M285.9 274.5h0M269.0 282.0h0M278.4 283.8h0M268.1 279.5h0M274.8 286.2h0M278.5 290.4h0M271.9 287.4h0M275.9 288.9h0M276.2 285.3h0M283.3 279.0h0M282.5 278.4h0M279.4 290.7h0M274.4 289.2h0M278.1 285.5h0M282.1 276.4h0M269.9 283.6h0M283.0 282.7h0M282.1 286.7h0M270.7 282.9h0M279.1 281.9h0M270.8 286.2h0M281.0 281.8h0M269.7 278.6h0M279.2 286.0h0M274.6 284.4h0M271.5 289.8h0M270.5 287.0h0M278.4 292.0h0M275.1 291.7h0M277.3 290.9h0M284.7 274.8h0M267.0 279.1h0M280.0 282.3h0M267.5 277.2h0M272.6 288.6h0M268.7 285.9h0M282.4 282.5h0M269.1 276.2h0M283.3 282.9h0M271.9 289.8h0M277.4 291.7h0M277.4 292.5h0M269.8 278.5h0M284.8 275.0h0M273.1 289.3h0M282.0 277.1h0M276.1 292.0h0M267.8 276.5h0M270.8 280.0h0M283.9 284.1h0M281.1 284.3h0M276.1 287.9h0M267.3 273.6h0M275.4 287.0h0M269.9 287.1h0M267.3 278.1h0M269.2 282.3h0M284.2 283.3h0M271.8 282.4h0M274.8 290.0h0M277.1 290.4h0M270.7 279.9h0M282.7 281.8h0M284.2 282.5h0M275.2 287.6h0M275.1 289.1h0M272.4 282.0h0M274.4 293.2h0M275.1 292.5h0M276.7 286.0h0M282.4 282.0h0M266.4 273.4h0M278.5 284.5h0M276.3 286.6h0M277.8 286.5h0M279.4 283.7h0M268.3 283.5h0M273.4 291.9h0M277.4 290.3h0M275.3 293.3h0M267.8 277.7h0M276.1 285.6h0M268.9 280.1h0M275.0 284.5h0M268.1 283.7h0M269.2 275.4h0M271.8 285.1h0M275.1 290.2h0M267.3 280.6h0M276.4 292.7h0M272.9 283.6h0M273.4 285.5h0M282.5 284.9h0M282.5 279.2h0M284.0 276.3h0M269.3 277.9h0M266.8 277.0h0M285.0 273.2h0M277.4 285.1h0M282.1 286.3h0M276.7 292.7h0M281.9 284.3h0M278.9 291.8h0M280.8 287.8h0M271.5 285.4h0M283.2 284.8h0M267.4 278.3h0M279.7 284.3h0M283.2 279.8h0M273.7 292.9h0M266.5 279.1h0M281.8 278.5h0M275.5 293.0h0M279.8 285.7h0M282.7 281.5h0M276.1 290.0h0M285.4 277.3h0M268.5 277.8h0M281.6 281.7h0M268.9 277.8h0M286.6 273.1h0M278.8 286.0h0M270.3 281.0h0M274.1 290.2h0M266.3 274.2h0M273.9 291.7h0M278.1 286.8h0M268.1 282.5h0M276.9 288.0h0M270.7 284.7h0M281.1 285.7h0M269.2 281.0h0M281.9 283.5h0M269.0 276.8h0M270.9 281.9h0M267.6 279.4h0M277.9 293.0h0M280.6 280.4h0M285.0 274.3h0M277.4 289.7h0M284.0 277.8h0M282.4 277.8h0M278.1 291.0h0M282.6 281.7h0M275.0 286.5h0M281.3 285.4h0M269.8 282.6h0M270.2 284.3h0M267.5 277.4h0M277.7 285.0h0M277.9 289.7h0M271.4 288.9h0M266.7 274.3h0M272.4 284.2h0M274.8 290.0h0M282.0 284.2h0M280.8 283.0h0M283.1 277.9h0M280.1 287.3h0M278.7 292.2h0M275.7 293.8h0M266.7 274.6h0M285.3 274.6h0M278.5 284.9h0M277.2 288.4h0M269.8 282.2h0M269.5 284.9h0M284.4 279.7h0M270.6 288.6h0M271.9 284.0h0M283.8 274.0h0M270.1 282.1h0M268.6 273.3h0M284.8 278.8h0M274.3 289.8h0M280.7 281.1h0M274.4 288.6h0M278.7 290.9h0M271.4 282.2h0M277.2 293.6h0M275.4 291.5h0M272.4 285.4h0M275.9 288.7h0M271.6 280.8h0M270.9 286.9h0M278.1 287.2h0M268.9 282.7h0M278.8 283.3h0M283.8 275.8h0M285.6 277.0h0M282.6 273.3h0M279.9 289.9h0M273.1 291.8h0M284.9 278.9h0M276.7 285.3h0M272.4 291.7h0M273.2 283.0h0M272.1 286.0h0M275.1 287.9h0M284.6 280.5h0M282.0 279.1h0M270.5 287.3h0M268.4 280.9h0M279.3 287.8h0M284.1 275.2h0M281.3 285.3h0M270.3 283.9h0M280.7 289.1h0M283.2 284.2h0M280.2 286.6h0M267.0 277.8h0M272.5 289.5h0M278.7 283.1h0M270.9 285.1h0M269.1 274.0h0M271.5 281.0h0M269.9 282.7h0M278.2 289.5h0M276.2 290.2h0M279.9 281.9h0M267.9 274.2h0M273.5 291.1h0M283.1 284.8h0M270.1 285.2h0M273.7 292.9h0M270.9 281.5h0M272.8 284.0h0M277.8 283.7h0M285.1 276.7h0M281.4 281.4h0M270.9 287.5h0M283.4 273.8h0M268.6 280.4h0M276.9 290.1h0M283.4 281.7h0M276.9 293.6h0M280.5 286.7h0M268.9 284.3h0M273.4 284.5h0M284.8 278.1h0M270.6 282.7h0M271.0 281.0h0M279.9 284.2h0M285.1 279.4h0M272.9 288.8h0M268.2 274.9h0M268.7 275.8h0M284.4 274.3h0M265.7 272.5h0M268.6 277.8h0M281.7 286.6h0M284.9 274.2h0M283.9 277.6h0M268.3 284.0h0M272.8 290.7h0M273.2 288.1h0M272.0 288.7h0M283.1 283.1h0M283.4 275.8h0M279.9 287.0h0M276.4 288.3h0M282.4 277.7h0M272.6 282.5h0M283.6 282.6h0M272.8 281.9h0M267.1 276.9h0M269.9 277.8h0M279.2 287.1h0M275.1 285.6h0M266.8 276.3h0M279.4 282.9h0M273.8 286.3h0M268.6 274.5h0M274.9 286.6h0M281.5 284.2h0M267.6 282.3h0M268.3 278.4h0M268.0 279.7h0M281.4 280.2h0M279.9 288.2h0M270.1 286.4h0M270.1 278.7h0M267.5 282.3h0M284.8 274.1h0M274.4 291.3h0M273.0 283.8h0M280.4 286.7h0M273.6 290.4h0M275.4 291.0h0M285.1 277.9h0M265.9 276.2h0M283.2 284.5h0M273.7 288.4h0M279.8 283.1h0M279.1 287.5h0M274.0 289.1h0M269.1 282.5h0M284.4 282.5h0M281.8 277.0h0M274.7 292.8h0M280.0 288.8h0M273.5 282.4h0M269.8 280.2h0M278.5 282.9h0M280.4 283.8h0M277.9 293.0h0M269.4 284.5h0M267.3 275.8h0M274.5 291.7h0M268.5 283.1h0M266.0 272.4h0M277.4 292.8h0M273.9 286.1h0M281.3 288.5h0M267.9 277.7h0M281.6 287.0h0M281.1 285.4h0M283.8 280.5h0M274.9 292.2h0M279.5 289.0h0M268.2 277.4h0M273.3 286.1h0M280.7 287.3h0M284.2 274.3h0M268.1 279.7h0M267.9 275.8h0M283.3 277.8h0M272.4 283.5h0M277.0 288.8h0M283.8 280.3h0M271.1 282.3h0M268.1 279.6h0M283.6 280.3h0M269.4 277.7h0M274.1 291.4h0M271.5 288.7h0M268.6 275.3h0M268.9 280.2h0M284.0 275.6h0M279.0 291.4h0M281.3 283.3h0M276.2 293.0h0M277.9 289.0h0M275.9 291.9h0M271.4 288.3h0M278.3 287.1h0M273.9 291.1h0M284.4 281.1h0M271.2 282.1h0M280.4 280.3h0M282.4 286.8h0M280.0 287.9h0M280.2 286.4h0M269.6 276.9h0M280.9 280.9h0M269.7 278.6h0M273.2 287.8h0M278.0 289.6h0M277.1 284.1h0M284.3 274.4h0M281.9 287.3h0M267.8 278.7h0M270.8 279.9h0M280.1 285.8h0M283.6 280.0h0M284.9 273.7h0M273.8 287.8h0M270.8 287.2h0M269.1 285.3h0M273.8 288.4h0M281.1 285.0h0M281.9 279.0h0M283.8 276.0h0M284.4 280.8h0M271.4 283.3h0M283.2 273.6h0M270.9 288.7h0M284.9 280.3h0M269.5 285.6h0M267.6 273.1h0M271.4 288.4h0M276.3 287.3h0M272.5 290.3h0M272.3 284.3h0M270.9 280.0h0M279.8 287.0h0M268.2 274.7h0M267.2 277.2h0M276.4 287.2h0M271.5 281.8h0M282.4 280.8h0M275.6 289.7h0M284.7 281.1h0M284.1 281.4h0M267.5 275.3h0M269.6 286.7h0M279.5 289.8h0M270.4 282.9h0M283.0 275.8h0M278.4 289.9h0M271.4 287.9h0M273.7 290.2h0M282.2 278.6h0M278.7 290.4h0M266.3 275.9h0M281.9 284.6h0M276.3 292.8h0M274.3 291.7h0M276.0 287.5h0M278.8 292.2h0M273.8 289.0h0M277.4 291.2h0M279.4 289.4h0M272.1 290.6h0M276.2 284.5h0M266.3 277.0h0M283.9 277.7h0M278.8 283.2h0M278.1 291.4h0M267.4 272.7h0M276.9 291.2h0M276.5 292.8h0M267.6 278.9h0M268.0 281.4h0M267.1 278.5h0M274.6 287.5h0M285.1 274.9h0M285.0 275.4h0M274.2 292.0h0M286.7 272.2h0M282.3 278.5h0M286.2 275.6h0M281.4 283.9h0M285.0 277.6h0M284.5 274.3h0M285.5 274.5h0M277.9 286.9h0M279.3 288.7h0M268.7 280.9h0M268.7 284.7h0M282.8 275.7h0M270.1 284.7h0M271.3 289.6h0M276.2 285.4h0M284.6 279.9h0M271.0 288.8h0M272.3 288.7h0M269.0 285.3h0M285.8 273.0h0M272.6 283.7h0M272.9 287.2h0M275.6 288.1h0M275.1 287.3h0M267.5 282.9h0M278.5 288.1h0M272.1 290.1h0M284.4 276.8h0M269.4 280.9h0M279.6 281.8h0M279.8 287.4h0M283.4 284.9h0M285.5 275.4h0M277.4 287.3h0M268.3 285.0h0M278.7 290.1h0M277.6 285.1h0M274.4 290.5h0M282.5 278.5h0M277.9 290.8h0M273.0 285.7h0M268.2 272.5h0M280.1 290.0h0M269.0 277.4h0M275.2 290.3h0M277.2 283.8h0M266.6 278.1h0M268.3 277.5h0M282.5 277.3h0M282.9 286.0h0M272.0 282.8h0M274.1 290.0h0M281.5 279.2h0M281.4 284.7h0M282.6 283.7h0M284.8 282.2h0M272.5 285.6h0M276.1 286.0h0M283.8 274.3h0M272.1 289.1h0M266.7 272.3h0M279.5 282.8h0M272.1 284.1h0M269.1 283.9h0M276.8 293.2h0M273.4 286.2h0M273.2 284.2h0M279.1 291.8h0M274.7 292.9h0M274.9 293.8h0M283.7 281.8h0M274.5 293.6h0M266.3 272.3h0M269.6 281.5h0M284.7 279.8h0M278.1 292.2h0M279.5 283.6h0M270.1 288.4h0M268.0 274.1h0M275.2 285.9h0M275.3 288.1h0M268.3 284.7h0M270.3 286.3h0M276.9 289.6h0M282.6 278.1h0M278.0 287.8h0M267.8 274.0h0M285.3 279.3h0M266.1 275.8h0M281.5 279.3h0M283.3 275.0h0M285.9 272.3h0M276.6 293.2h0M281.2 287.1h0M266.9 274.3h0M278.7 282.6h0M285.2 273.6h0M281.1 284.2h0M269.9 286.2h0M266.8 276.5h0M270.1 287.3h0M278.7 284.8h0M269.3 276.7h0M280.6 285.4h0M280.0 281.0h0M272.2 289.0h0M270.4 288.2h0M281.3 288.3h0M271.0 288.9h0M273.8 293.2h0M273.3 291.3h0M271.0 285.2h0M272.6 281.7h0M266.2 275.1h0M271.0 285.7h0M282.3 283.6h0M271.9 285.4h0M274.5 284.4h0M284.4 275.9h0M283.5 284.7h0M270.6 279.0h0M283.3 275.8h0M271.0 284.7h0M275.4 286.1h0M273.6 290.7h0M284.1 280.6h0M282.4 277.1h0M281.3 281.4h0M272.0 287.1h0M283.2 279.7h0M272.6 287.3h0M266.7 277.1h0M283.7 272.7h0M270.2 286.0h0M270.8 281.8h0M269.2 284.3h0M270.0 285.8h0M268.7 274.8h0M280.7 286.5h0M282.5 277.7h0M268.4 278.7h0M275.9 290.3h0M266.5 276.6h0M274.2 285.5h0M281.7 285.6h0M270.3 284.7h0M269.4 284.8h0M271.7 285.0h0M281.8 278.9h0M278.2 286.3h0M277.1 289.2h0M285.5 278.6h0M283.5 284.4h0M281.5 283.1h0M279.3 289.0h0M281.9 280.7h0M280.7 281.8h0M268.0 281.3h0M266.7 273.3h0M272.2 290.9h0M268.3 283.4h0M272.5 291.9h0M277.5 285.7h0M282.1 281.2h0M267.2 277.0h0M279.6 287.1h0M285.8 274.4h0M267.7 273.9h0M285.0 274.0h0M268.2 284.7h0M284.7 281.5h0M280.1 283.7h0M273.3 291.5h0M280.5 287.0h0M283.7 276.5h0M275.2 288.6h0M280.2 284.5h0M280.5 280.9h0M276.9 285.1h0M268.9 282.4h0M273.1 282.6h0M275.3 289.5h0M273.1 292.0h0M270.8 283.4h0M269.2 281.2h0M272.1 282.7h0M275.4 289.3h0M279.1 290.9h0M283.2 276.4h0M268.4 274.6h0M283.5 274.6h0M279.2 285.1h0M273.1 282.5h0M281.1 281.0h0M268.1 282.3h0M276.9 284.7h0M285.6 276.3h0M269.0 278.3h0M273.5 292.8h0M283.9 274.0h0M269.5 284.8h0M268.2 279.3h0M283.5 281.4h0M272.3 287.2h0M272.5 281.6h0M274.7 284.6h0M278.9 288.4h0M280.7 289.2h0M267.0 278.6h0M271.9 284.9h0M281.6 284.5h0M276.5 285.9h0M272.0 281.5h0M270.6 281.7h0M266.9 278.0h0M272.7 286.6h0M278.9 281.8h0M281.4 283.5h0M276.9 290.7h0M269.3 275.8h0M268.3 282.1h0M277.2 283.9h0M279.2 283.2h0M281.6 283.5h0M269.3 284.9h0M283.3 283.7h0M283.0 276.7h0M280.1 285.6h0M268.1 278.4h0M276.6 293.4h0M272.4 286.5h0M266.9 279.0h0M282.0 280.9h0M272.5 290.6h0M278.8 285.6h0M274.6 284.5h0M282.5 277.1h0M273.7 289.9h0M280.1 289.1h0M277.8 286.5h0M272.5 285.0h0M266.5 280.1h0M272.8 285.4h0M284.2 279.2h0M273.9 288.0h0M281.2 285.4h0M267.1 278.1h0M268.9 284.6h0M268.3 283.1h0M279.7 284.8h0M274.3 290.3h0M282.0 283.6h0M275.6 291.9h0M280.8 289.1h0M284.4 279.1h0M284.8 278.8h0M284.3 279.1h0M274.7 285.1h0M276.0 288.5h0M270.7 287.9h0M275.3 287.2h0M282.9 274.0h0M281.9 284.7h0M283.1 283.2h0M278.3 283.7h0M278.7 290.2h0M271.6 281.9h0M276.2 294.0h0M281.3 281.2h0M274.5 287.8h0M279.9 281.5h0M278.8 283.5h0M278.4 290.0h0M275.0 286.8h0M281.2 286.8h0M285.3 273.6h0M281.6 283.7h0M277.7 283.6h0M280.0 284.0h0M280.4 285.7h0M267.7 280.7h0M269.1 283.8h0M278.1 282.7h0M282.4 279.4h0M271.8 281.5h0M279.3 288.7h0M282.9 274.3h0M272.6 288.7h0M279.1 282.2h0M286.1 274.0h0M279.2 285.7h0M272.5 282.8h0M268.4 281.1h0M275.8 287.6h0M280.8 285.0h0M267.9 281.9h0M280.5 288.2h0M282.7 278.4h0M277.1 293.5h0M270.1 283.7h0M284.0 277.4h0M268.0 284.0h0M280.5 284.1h0M276.1 291.1h0M269.7 287.5h0M275.1 292.2h0M269.9 282.9h0M281.7 281.2h0M283.4 285.0h0M267.8 274.8h0M266.4 272.5h0M276.7 287.3h0M278.0 285.9h0M270.9 288.2h0M280.1 287.9h0M270.9 280.6h0M285.1 278.0h0M274.3 283.2h0M270.0 284.7h0M265.2 272.7h0M276.3 291.8h0M273.9 283.1h0M271.9 286.4h0M266.7 278.9h0M281.2 286.2h0M277.6 289.4h0M284.9 272.4h0M266.0 273.4h0M274.0 289.4h0M282.9 286.2h0M282.1 285.4h0M276.1 285.1h0M271.8 282.8h0M283.3 276.9h0M269.3 278.5h0M285.1 278.5h0M272.5 284.3h0M281.0 286.8h0M281.0 285.3h0M267.2 278.9h0M270.3 286.3h0M278.8 288.0h0M284.5 279.4h0M267.2 280.9h0M281.1 282.5h0M272.6 283.1h0M270.0 286.8h0M283.6 274.2h0M283.2 283.9h0M283.7 273.7h0M269.6 277.5h0M270.8 279.0h0M272.1 289.1h0M273.3 289.9h0M276.8 285.3h0M265.4 272.2h0M271.8 289.6h0M274.8 291.5h0M272.0 287.7h0M278.2 287.6h0M280.9 282.1h0M274.2 290.0h0M268.6 279.0h0M280.9 282.4h0M271.2 282.0h0M267.3 276.8h0M281.6 286.0h0M284.2 272.7h0M271.4 284.2h0M279.9 280.9h0M284.8 277.5h0M272.9 285.5h0M265.6 276.6h0M278.7 291.8h0M283.5 283.1h0M283.7 283.4h0M274.2 290.6h0M269.8 282.2h0M281.9 280.2h0M279.1 285.8h0M270.5 281.9h0M282.5 278.2h0M267.9 278.8h0M282.2 278.9h0M267.9 277.4h0M280.1 285.2h0M284.8 278.8h0M269.1 283.8h0M281.4 286.0h0M270.6 284.3h0M282.0 279.4h0M277.2 283.8h0M280.8 281.0h0M270.5 282.5h0M269.7 280.8h0M277.1 284.4h0M277.9 291.8h0M277.5 284.6h0M276.1 287.5h0M268.1 273.2h0M284.5 279.3h0M279.6 289.7h0M273.7 288.6h0M278.6 292.2h0M266.5 277.6h0M281.7 279.1h0M280.7 286.1h0M275.6 289.0h0M272.5 286.9h0M283.0 282.5h0M272.0 289.8h0M278.8 292.2h0M275.2 287.2h0M271.9 289.8h0M269.5 280.6h0M285.0 273.3h0M284.4 275.0h0M271.7 281.1h0M274.7 284.2h0M266.5 278.8h0M285.1 275.4h0M271.8 285.5h0M267.9 282.7h0M278.7 283.3h0M276.6 293.4h0M284.0 275.4h0M285.4 276.2h0M268.1 275.4h0M277.8 288.7h0M279.0 287.8h0M271.0 284.0h0M271.1 286.4h0M275.3 289.2h0M274.2 293.0h0M272.5 289.2h0M277.9 288.9h0M278.5 283.7h0M268.8 274.7h0M273.4 291.6h0M277.3 292.1h0M275.3 293.1h0M272.0 288.3h0M282.4 278.7h0M284.0 282.0h0M271.2 285.2h0M268.8 272.4h0M276.0 290.1h0M270.5 282.2h0M268.1 276.0h0M269.3 274.9h0M271.3 290.6h0M273.4 282.5h0M280.8 287.5h0M277.2 285.4h0M279.4 290.2h0M275.0 290.5h0M271.7 286.0h0M277.8 284.3h0M269.2 280.4h0M266.9 274.2h0M284.5 276.5h0M283.5 281.6h0M266.1 272.4h0M272.5 287.3h0M282.6 276.9h0M274.5 291.1h0M281.4 279.1h0M282.0 278.7h0M270.9 279.7h0M268.1 280.9h0M275.9 288.6h0M277.2 283.5h0M269.3 286.5h0M271.2 284.1h0M281.8 278.7h0M269.8 277.6h0M269.3 284.2h0M278.7 290.8h0M273.4 288.5h0M271.7 281.3h0M280.5 281.0h0M285.9 277.7h0M271.1 285.4h0M269.3 282.2h0M275.0 286.4h0M284.2 278.5h0M276.6 289.7h0M274.9 285.0h0M282.9 275.3h0M269.3 280.3h0M281.2 283.5h0M268.2 283.6h0M280.4 290.2h0M277.9 291.8h0M267.1 275.5h0M279.2 287.9h0M283.9 282.0h0M277.3 287.9h0M265.3 272.2h0M280.1 282.9h0M277.4 287.0h0M270.3 281.4h0M282.6 285.6h0M281.3 288.6h0M276.9 289.7h0M271.0 286.1h0M279.9 284.2h0M272.1 284.7h0M270.7 284.3h0M274.8 290.7h0M283.9 275.4h0M281.1 281.2h0M278.3 285.6h0M270.4 284.8h0M284.4 275.9h0M283.0 282.0h0M275.0 286.3h0M277.1 289.5h0M268.4 282.7h0M281.0 280.1h0M280.7 284.8h0M276.9 285.4h0M271.7 287.7h0M273.0 283.6h0M267.3 276.6h0M278.6 292.0h0M278.0 283.1h0M271.3 282.6h0M277.2 289.1h0M276.0 291.9h0M270.5 282.8h0M268.4 284.6h0M281.6 279.1h0M283.8 282.3h0M273.7 285.2h0M268.9 281.9h0M268.7 281.5h0M282.4 287.0h0M272.3 287.7h0M268.3 275.1h0M272.0 283.1h0M270.2 287.0h0M267.3 275.1h0M281.8 285.3h0M279.5 288.9h0M277.7 288.0h0M277.5 286.8h0M269.1 279.2h0M271.3 286.9h0M283.5 273.8h0M280.1 290.3h0M271.8 284.9h0M269.6 279.6h0M284.7 276.7h0M283.0 285.8h0M280.8 286.5h0M276.6 292.9h0M275.5 289.0h0M273.2 290.5h0M283.2 280.7h0M273.4 291.8h0M276.5 292.2h0M268.5 278.3h0M278.7 291.7h0M270.4 282.4h0M278.2 291.9h0M273.1 284.8h0M276.3 286.5h0M267.6 281.8h0M284.5 278.1h0M269.7 286.9h0M279.9 282.4h0M282.1 285.5h0M276.3 289.4h0M285.9 274.3h0M275.3 285.3h0M282.0 286.9h0M284.8 279.9h0M277.6 291.0h0M273.0 289.6h0M278.5 291.8h0M270.1 281.7h0M267.0 273.2h0M268.0 283.3h0M277.5 291.8h0M281.1 283.2h0M282.4 277.5h0M277.6 289.2h0M277.6 285.6h0M277.2 284.6h0M274.3 285.4h0M281.6 279.9h0M267.8 281.8h0M271.7 290.6h0M277.5 286.7h0M282.3 285.2h0M277.3 283.4h0M272.3 283.6h0M282.8 284.0h0M283.5 280.3h0M281.2 284.4h0M280.8 284.6h0M278.3 290.5h0M285.4 274.0h0M283.2 282.3h0M278.4 290.5h0M277.8 287.3h0M268.5 281.8h0M268.3 281.8h0M274.5 292.7h0M268.6 273.7h0M281.2 286.7h0M284.6 275.0h0M266.4 276.1h0M282.9 273.8h0M272.0 288.7h0M268.1 281.9h0M280.8 287.9h0M270.2 279.9h0M267.1 277.1h0M268.9 284.6h0M273.6 287.1h0M274.2 293.3h0M284.9 272.6h0M276.4 292.6h0M283.9 280.5h0M267.9 276.0h0M272.5 286.1h0M280.1 288.7h0M277.2 285.7h0M281.0 280.5h0M266.3 275.0h0M275.7 286.2h0M269.2 284.1h0M272.4 283.8h0M277.5 288.8h0M276.6 290.8h0M267.7 279.8h0M271.2 286.3h0M272.9 292.0h0M282.1 285.8h0M280.6 288.7h0M274.5 287.3h0M276.8 288.2h0M268.7 281.3h0M281.8 286.0h0M271.1 286.0h0M282.4 279.2h0M278.9 284.6h0M268.0 281.2h0M266.0 278.5h0M274.9 292.1h0M284.8 277.4h0M268.6 279.3h0M266.6 275.1h0M268.0 283.6h0M271.9 280.7h0M280.2 287.9h0M280.5 286.9h0M276.3 290.9h0M273.6 292.8h0M272.7 287.9h0M281.4 287.2h0M272.6 287.5h0M276.8 293.1h0M274.7 293.4h0M269.8 279.3h0M272.0 286.5h0M274.2 288.7h0M271.7 288.0h0M281.1 286.6h0M275.4 293.2h0M271.7 282.0h0M273.2 286.1h0M283.9 272.2h0M283.3 272.5h0M284.5 272.1h0M285.9 272.3h0M285.7 272.3h0M284.0 272.3h0M283.1 272.4h0M282.9 272.5h0M284.5 272.2h0M287.5 272.3h0M283.1 272.4h0M285.1 272.2h0M284.6 272.3h0M285.1 272.2h0M284.0 272.2h0M285.0 272.3h0M286.3 272.2h0M285.3 272.2h0M286.0 272.4h0M286.0 272.1h0M285.2 272.4h0M284.1 272.3h0M265.3 285.3h0M265.3 283.7h0" stroke="#3d3d3d" stroke-width="1.1" stroke-linecap="round" fill="none"/>
<path d="M292.0 279.3h0M294.7 281.7h0M294.5 276.8h0M294.0 282.6h0M294.6 285.2h0M290.3 273.8h0M290.3 290.4h0M294.7 273.4h0M292.3 275.2h0M295.7 276.6h0M289.0 288.3h0M293.6 279.5h0M290.7 287.2h0M290.2 273.1h0M291.0 286.6h0M289.7 290.0h0M258.1 281.3h0M260.4 281.4h0M258.8 275.2h0M258.3 290.8h0M261.2 281.8h0M258.8 283.4h0" stroke="#2e9e3e" stroke-width="0.85" stroke-linecap="round" fill="none"/>
<path d="M265.9 267.7h0M285.5 271.1h0M265.3 269.1h0M265.0 269.6h0M287.0 269.3h0M268.3 270.4h0M268.0 267.9h0M267.6 270.9h0M284.7 269.3h0M284.6 268.5h0M264.9 269.4h0M286.9 271.7h0M268.1 271.6h0M265.5 271.9h0M265.6 268.8h0M286.7 269.4h0M286.9 271.6h0M286.1 270.5h0M265.1 268.2h0M265.3 269.6h0M285.5 268.9h0M264.7 270.7h0M268.1 271.9h0M283.9 272.0h0M266.6 270.8h0M265.3 272.0h0M284.6 268.8h0M286.7 270.1h0M265.8 270.9h0M264.8 268.3h0M268.1 270.4h0M268.4 271.9h0M286.9 271.9h0M286.1 270.6h0M266.5 268.2h0M283.5 270.4h0M287.0 269.1h0M264.8 270.4h0M286.4 270.0h0M267.3 269.8h0M267.5 271.8h0M267.4 270.1h0M287.2 270.4h0M283.3 269.6h0M286.5 271.4h0M266.6 268.5h0M264.6 268.8h0M284.9 270.3h0M285.5 269.8h0M265.7 270.5h0M265.2 271.4h0M284.4 271.0h0M286.5 271.2h0M287.1 272.0h0M265.7 270.2h0M267.1 268.5h0M268.1 271.1h0M283.6 271.7h0M265.7 268.1h0M265.0 270.8h0M265.5 271.6h0M286.3 270.7h0M267.5 270.7h0M267.4 269.9h0M265.5 268.0h0M284.1 270.6h0M286.0 270.2h0M267.9 271.1h0M286.3 270.3h0M267.8 270.1h0M284.7 270.7h0M285.4 268.3h0M266.8 270.2h0M267.6 268.9h0M286.4 269.7h0M285.3 270.6h0M284.1 261.8h0M285.0 263.5h0M284.9 265.7h0M285.0 261.7h0M284.2 259.5h0M285.0 268.2h0M285.7 264.6h0M286.6 265.2h0M284.2 256.9h0M284.7 267.2h0M285.9 271.5h0M285.3 266.3h0M284.7 269.2h0M286.0 270.0h0M286.0 261.5h0M285.1 262.0h0M285.3 268.9h0M287.6 266.6h0M284.4 260.6h0M285.4 264.0h0M284.3 266.6h0M284.5 270.4h0M284.6 266.4h0M286.6 260.1h0M285.0 267.7h0M287.9 261.8h0M284.8 268.5h0M283.5 271.2h0M285.7 259.7h0M284.2 269.9h0M287.1 259.1h0M283.8 271.0h0M285.6 259.3h0M286.4 266.4h0M284.2 270.2h0M285.8 264.3h0M286.1 267.3h0M286.6 255.5h0M287.1 269.6h0M284.3 269.9h0M287.1 259.5h0M285.7 257.0h0M286.5 257.0h0M285.9 263.4h0M285.8 263.0h0M286.3 268.1h0M284.9 269.6h0M284.7 262.4h0M287.6 268.1h0M285.2 271.1h0M283.9 264.2h0M286.1 261.7h0M286.4 262.5h0M284.6 271.4h0M285.6 259.6h0M284.7 267.3h0M284.2 270.3h0M287.3 258.0h0M283.8 272.0h0M286.8 264.3h0M284.4 267.3h0M286.8 269.6h0M283.7 269.8h0M284.7 269.0h0M286.4 255.0h0M285.3 271.1h0M286.1 262.3h0M282.5 265.6h0M286.6 255.2h0M288.2 263.1h0M283.6 267.6h0M285.0 271.8h0M284.4 267.8h0M284.1 271.0h0M286.6 255.9h0M286.8 255.0h0M284.0 269.5h0M285.4 259.1h0M285.5 262.8h0M287.6 259.8h0M285.4 259.1h0M286.5 256.0h0M285.4 258.3h0M285.4 262.3h0M285.6 263.8h0M288.4 263.9h0M284.6 265.4h0M282.9 271.0h0M285.3 269.9h0M286.6 260.9h0M283.8 270.0h0M283.6 261.9h0M284.6 261.5h0M284.6 264.0h0M284.9 256.1h0M286.7 261.4h0M282.9 270.2h0M285.7 257.1h0M284.3 268.9h0M284.1 269.9h0M282.6 271.9h0M285.4 264.2h0M284.5 269.3h0M285.8 262.1h0M285.0 259.8h0M286.6 258.6h0M284.5 260.0h0M283.5 271.6h0M285.9 271.4h0M286.3 261.3h0M284.9 266.0h0M285.5 266.3h0M284.1 270.9h0M287.0 267.4h0M285.5 264.3h0M284.8 265.6h0M286.1 269.0h0M285.7 259.2h0M286.0 265.7h0M284.7 269.8h0M285.9 267.6h0M285.6 267.4h0M284.2 269.0h0M285.3 263.5h0M284.8 269.1h0M287.8 255.3h0M285.1 257.8h0M285.6 270.7h0M286.2 256.6h0M286.0 270.8h0M285.2 269.8h0M286.4 263.6h0M284.9 263.1h0M286.3 271.4h0M286.5 264.4h0M284.3 271.8h0M285.2 256.5h0M283.6 255.7h0M284.4 271.3h0M286.3 256.4h0M285.2 263.9h0M282.6 268.1h0M287.3 268.3h0M285.2 269.8h0M287.1 262.0h0M286.1 264.3h0M284.8 268.7h0M285.5 260.9h0M285.1 262.5h0M284.9 265.9h0M286.3 265.3h0M286.2 256.2h0M286.0 266.9h0M284.3 264.6h0M284.3 268.7h0M284.7 258.4h0M284.5 259.7h0M286.2 265.7h0M285.8 257.7h0M284.2 265.9h0M285.1 270.5h0M287.4 255.3h0M283.7 271.3h0M284.4 256.4h0M285.5 259.9h0M284.8 269.9h0M283.4 265.9h0M284.8 264.9h0M286.4 262.5h0M285.0 271.8h0M286.6 255.3h0M284.4 268.8h0M285.2 268.1h0M285.0 264.1h0M286.0 261.6h0M288.7 255.1h0M282.6 269.2h0M284.3 267.9h0M284.0 265.4h0M284.0 266.8h0M285.4 265.0h0M284.8 257.2h0M286.1 263.7h0M282.9 268.4h0M284.8 255.8h0M286.3 261.4h0M284.3 270.5h0M286.1 270.3h0M284.7 269.3h0M285.0 268.2h0M282.9 266.1h0M287.2 262.1h0M286.9 268.6h0M285.8 262.4h0M286.3 261.3h0M284.9 261.6h0M286.9 267.4h0M284.6 265.9h0M284.6 270.2h0M287.1 258.0h0M284.0 257.9h0M283.8 268.7h0M286.4 267.5h0M285.9 270.3h0M286.2 262.6h0M287.1 256.8h0M285.0 258.7h0M286.9 260.4h0M286.3 261.9h0M283.7 265.4h0M284.3 269.4h0M284.7 260.1h0M284.7 261.9h0M285.8 270.8h0M285.5 271.5h0M285.7 260.4h0M283.0 270.7h0M286.0 261.2h0M284.8 269.2h0M284.8 262.0h0M284.3 269.3h0M283.7 272.0h0M285.7 265.6h0M284.4 266.3h0M284.5 271.7h0M285.4 256.2h0M287.0 261.0h0M286.6 256.0h0M286.2 257.4h0M282.9 265.3h0M284.1 271.9h0M284.6 263.4h0M285.5 264.7h0M287.8 271.4h0M285.5 261.4h0M286.3 259.4h0M285.1 265.8h0M286.8 259.2h0M285.3 270.6h0M286.5 265.8h0M285.8 257.3h0M282.6 264.3h0M286.7 257.2h0M283.2 271.3h0M285.7 269.2h0M287.4 256.1h0M285.1 255.4h0M285.0 258.0h0M284.6 264.6h0M286.3 262.9h0M283.6 262.2h0M284.8 266.7h0M287.0 259.2h0M284.4 255.8h0M285.9 260.5h0M284.1 264.6h0M286.3 259.4h0M283.5 268.6h0M283.5 270.8h0M285.8 260.5h0M285.4 270.3h0M286.0 262.8h0M286.2 257.5h0M285.8 259.0h0M285.2 266.1h0M286.2 268.6h0M285.7 264.7h0M286.1 267.5h0M284.0 262.6h0M286.5 269.9h0M283.9 257.3h0M284.9 265.5h0M286.5 266.2h0M284.5 267.0h0M284.0 269.5h0M285.7 261.6h0M287.6 256.2h0M286.8 263.7h0M284.2 257.6h0M285.4 257.8h0M283.5 269.9h0M284.4 264.1h0M283.7 267.0h0M284.3 263.7h0M283.4 269.4h0M287.0 257.7h0M284.9 267.3h0M285.8 268.8h0M286.4 259.4h0M283.2 271.3h0M286.5 259.1h0M284.1 262.0h0M284.0 266.8h0M285.8 260.9h0M284.2 271.8h0M284.7 265.9h0M286.0 266.8h0M285.9 257.8h0M281.6 265.8h0M286.6 271.7h0M287.3 271.7h0M286.3 261.9h0M285.8 271.3h0M285.5 267.9h0M284.1 268.1h0M284.8 272.0h0M285.4 267.9h0M286.4 255.8h0M286.0 262.0h0M284.7 267.1h0M286.7 257.7h0M287.0 270.6h0M286.9 264.4h0M285.4 271.8h0M285.1 258.1h0M284.6 263.4h0M285.3 265.2h0M283.6 271.2h0M285.8 260.2h0M285.0 270.4h0M285.9 269.0h0M286.5 267.3h0M285.8 265.6h0M285.9 262.9h0M285.9 263.4h0M286.7 255.0h0M287.1 263.8h0M286.2 266.1h0M285.1 266.2h0M285.1 271.7h0M287.1 255.6h0M286.8 258.8h0M287.2 256.3h0M283.7 263.2h0M286.1 266.7h0M286.2 262.7h0M285.0 270.2h0M285.1 270.6h0M284.7 263.7h0M284.8 265.6h0M284.8 269.2h0M283.9 271.0h0M285.1 260.4h0M285.5 267.4h0M285.2 266.0h0M283.4 270.2h0M288.3 259.1h0M282.3 264.8h0M285.5 270.6h0M284.9 260.8h0M285.1 271.3h0M286.2 261.2h0M286.1 260.5h0M286.2 255.6h0M285.1 266.4h0M286.7 267.7h0M284.5 262.2h0M266.6 265.9h0M269.2 271.8h0M265.9 263.0h0M266.6 257.9h0M268.0 263.2h0M267.9 261.2h0M267.5 257.8h0M267.2 266.3h0M266.3 268.6h0M267.1 264.4h0M266.0 268.9h0M266.9 257.5h0M266.4 258.6h0M266.9 256.7h0M268.0 264.7h0M266.3 262.5h0M267.4 263.5h0M267.2 269.5h0M266.1 268.8h0M268.4 269.3h0M266.3 257.4h0M267.1 266.2h0M266.5 269.4h0M266.6 256.9h0M267.4 256.8h0M266.9 270.9h0M269.6 267.9h0M266.9 267.9h0M265.6 263.5h0M268.8 269.4h0M266.5 262.3h0M266.3 264.3h0M266.6 260.5h0M269.4 265.9h0M269.4 268.8h0M266.7 269.5h0M267.3 269.6h0M268.9 271.5h0M266.6 260.3h0M267.8 270.6h0M267.1 260.8h0M269.6 268.1h0M269.1 266.4h0M266.9 259.3h0M266.3 266.3h0" stroke="#3867cc" stroke-width="0.95" stroke-linecap="round" fill="none"/>
<path d="M264.4 268.4h0M288.9 255.0h0M292.2 256.5h0M290.5 264.0h0M292.9 265.8h0M293.0 249.0h0M294.6 266.6h0M292.9 265.8h0M291.8 268.3h0M290.0 255.3h0M294.4 249.2h0M289.8 254.4h0M291.6 255.5h0M291.6 265.6h0M291.1 251.1h0M292.3 259.1h0M293.6 259.6h0M291.0 260.2h0M263.2 256.1h0M263.4 255.7h0M257.3 246.2h0M262.9 259.8h0M256.5 246.3h0M259.8 247.7h0M258.0 267.8h0M256.5 247.7h0M255.9 268.8h0M261.7 260.8h0M261.3 248.2h0M258.0 247.4h0M261.4 260.4h0M263.1 250.8h0" stroke="#e8302a" stroke-width="0.85" stroke-linecap="round" fill="none"/>
<path d="M212.6 198.5V298H341" stroke="#1a1a1a" stroke-width="1" fill="none"/>
<path d="M238.25 298v3.3M277 298v3.3M315.75 298v3.3M212.6 293.5h-3.3M212.6 272.05h-3.3M212.6 250.6h-3.3M212.6 229.15h-3.3M212.6 207.7h-3.3" stroke="#1a1a1a" stroke-width=".9" fill="none"/>
<text transform="translate(237.05 310.75) scale(.92 1)" font-size="8.1" fill="#303030" stroke="#303030" stroke-width=".12" text-anchor="middle">−1</text>
<text transform="translate(277 310.75) scale(.92 1)" font-size="8.1" fill="#303030" stroke="#303030" stroke-width=".12" text-anchor="middle">0</text>
<text transform="translate(315.75 310.75) scale(.92 1)" font-size="8.1" fill="#303030" stroke="#303030" stroke-width=".12" text-anchor="middle">1</text>
<text transform="translate(206.4 296.15) scale(.92 1)" font-size="8.1" fill="#303030" stroke="#303030" stroke-width=".12" text-anchor="end">0</text>
<text transform="translate(206.4 274.7) scale(.92 1)" font-size="8.1" fill="#303030" stroke="#303030" stroke-width=".12" text-anchor="end">50</text>
<text transform="translate(206.4 253.25) scale(.92 1)" font-size="8.1" fill="#303030" stroke="#303030" stroke-width=".12" text-anchor="end">100</text>
<text transform="translate(206.4 231.8) scale(.92 1)" font-size="8.1" fill="#303030" stroke="#303030" stroke-width=".12" text-anchor="end">150</text>
<text transform="translate(206.4 210.35) scale(.92 1)" font-size="8.1" fill="#303030" stroke="#303030" stroke-width=".12" text-anchor="end">200</text>
<text x="277" y="193.2" font-size="7.85" fill="#333" text-anchor="middle">Eight days post-infusion</text>
<text x="277" y="323.55" font-size="8.6" fill="#303030" stroke="#303030" stroke-width=".25" text-anchor="middle" textLength="51" lengthAdjust="spacingAndGlyphs">Log<tspan font-size="6" dy="2">2</tspan><tspan dy="-2"> fold change</tspan></text>
<text transform="translate(186.5 248.2) rotate(-90)" font-size="8.4" fill="#303030" stroke="#303030" stroke-width=".25" text-anchor="middle" textLength="33.5" lengthAdjust="spacingAndGlyphs">-Log<tspan font-size="6" dy="2">10</tspan><tspan dy="-2"> FDR</tspan></text>
<g transform="scale(.25)" font-size="17" fill="#0c0c0c" stroke="#0c0c0c" stroke-width=".3" text-anchor="middle"><text x="1220" y="812.6">Serpinb6b</text><text x="1165" y="830.6">Rora</text><text x="1218" y="842.6">Lgals3</text><text x="1150" y="850.6">Il18r1</text><text x="1212" y="867.6">mt-Atp8</text><text x="1131.2" y="879.6">Gm10260</text><text x="1045" y="895.6">Ly6c1</text><text x="1144.4" y="906.4">Gldc</text><text x="990" y="908.6">Ly6c2</text><text x="1088" y="915.6">H2-K1</text><text x="1015.2" y="922.6">Stat1,</text><text x="1071.6" y="930.8">Llba52</text><text x="1188" y="922.6">Cd226</text><text x="1265.2" y="922.4">Hsp3</text><text x="1246.8" y="936.8">Tsd13</text><text x="1022" y="950.6">Zfp36l</text><text x="1220.8" y="947.6">Bgl3b1</text><text x="1125" y="955.6">Serpinb9</text><text x="1185" y="958.6">Dgka4a</text><text x="1049.2" y="964.8">Gapdh</text><text x="1131.2" y="969.6">Ubb5</text><text x="1105" y="982.6">AA467197</text><text x="1210" y="983.6">Klrc1</text><text x="1120" y="995.6">Rpl4</text><text x="1191.2" y="996.8">Tpt1</text><text x="1175" y="1007.6">MifGlpes3</text><text x="1022" y="1010.6">Ifi27l2a</text><text x="1130" y="1023.6">Rps4</text><text x="1184" y="1022.8">Gls150</text></g>
</g>
<g>
<path d="M433 198.7V298M473 198.7V298M393 198.7V298M513 198.7V298M386.7 279.33H520M386.7 250.39H520M386.7 221.45H520" stroke="#f5f5f5" stroke-width=".35" fill="none"/>
<path d="M413 198.7V298M453 198.7V298M493 198.7V298M386.7 293.8H520M386.7 264.86H520M386.7 235.92H520M386.7 206.98H520" stroke="#efefef" stroke-width=".6" fill="none"/>
<path d="M439 198.7V298M467 198.7V298M386.7 287.14H520" stroke="#cdcdcd" stroke-width="1" fill="none"/>
<path d="M435.0 289.5h0M433.0 285.1h0M471.0 288.7h0M437.0 282.2h0M441.0 290.2h0M440.2 292.1h0" stroke="#9a9a9a" stroke-width="0.85" stroke-linecap="round" fill="none"/>
<path d="M455.4 287.9h0M450.5 292.6h0M451.1 289.7h0M451.2 289.9h0M466.7 287.5h0M457.7 289.8h0M458.8 290.1h0M450.1 287.9h0M458.9 292.9h0M444.9 288.9h0M443.1 288.7h0M463.2 287.9h0M442.0 287.5h0M466.5 287.3h0M462.6 288.4h0M461.6 287.6h0M443.0 287.9h0M447.0 291.6h0M463.2 288.3h0M452.7 293.7h0M457.6 293.0h0M444.9 289.5h0M446.5 289.3h0M454.3 293.3h0M460.9 289.8h0M455.4 292.6h0M444.5 289.4h0M463.6 287.5h0M445.3 288.9h0M452.9 287.2h0M456.6 289.2h0M449.8 291.0h0M452.3 288.3h0M464.2 288.2h0M453.2 292.2h0M455.4 292.0h0M466.3 287.8h0M448.8 290.8h0M464.3 287.4h0M450.9 287.8h0M449.7 293.0h0M464.0 289.0h0M443.5 288.8h0M463.6 287.9h0M462.7 289.3h0M464.3 288.9h0M443.3 287.7h0M447.8 288.0h0M461.3 292.4h0M452.8 292.9h0M441.9 287.4h0M459.3 287.6h0M462.0 290.3h0M466.3 287.8h0M445.6 289.9h0M448.1 291.8h0M463.0 290.5h0M444.1 288.9h0M448.7 287.8h0M453.2 291.3h0M452.3 293.5h0M455.5 291.6h0M463.7 289.3h0M457.7 288.6h0M458.3 289.1h0M456.7 290.3h0M447.1 290.6h0M453.1 293.2h0M466.7 287.5h0M464.7 288.9h0M461.1 287.9h0M455.2 293.9h0M463.7 289.3h0M457.7 289.4h0M451.8 293.2h0M455.1 290.7h0M446.8 288.2h0M456.2 290.2h0M449.7 291.2h0M461.5 287.7h0M462.7 289.3h0M466.8 287.3h0M462.8 290.0h0M443.3 287.6h0M460.1 291.0h0M462.2 289.2h0M463.8 289.2h0M454.2 291.2h0M453.8 292.5h0M455.2 292.1h0M445.7 289.1h0M465.9 287.8h0M466.7 287.5h0M448.4 289.2h0M465.9 287.3h0M447.0 289.0h0M443.9 288.2h0M460.3 288.2h0M462.4 289.0h0M446.8 290.8h0M465.8 288.4h0M451.9 292.0h0M446.5 289.6h0M449.4 291.4h0M444.6 289.8h0M461.2 287.5h0M449.0 288.0h0M459.3 292.5h0M453.4 290.8h0M444.9 287.2h0M456.6 287.8h0M466.2 287.9h0M446.5 290.9h0M466.1 288.1h0M444.8 290.4h0M456.3 288.5h0M446.2 287.7h0M466.9 287.3h0M455.7 287.9h0M463.8 289.7h0M459.6 291.1h0M453.1 289.3h0M448.3 292.4h0M463.8 287.9h0M464.1 289.8h0M461.6 291.9h0M462.1 290.3h0M442.9 288.2h0M447.3 290.4h0M455.8 293.5h0M443.8 288.6h0M456.7 289.1h0M465.7 288.2h0M450.7 290.7h0M459.2 291.4h0M446.9 291.1h0M461.9 287.9h0M464.4 288.4h0M462.3 288.5h0M452.9 290.4h0M450.6 289.7h0M443.9 288.6h0M463.2 289.2h0M464.6 288.3h0M455.9 291.8h0M461.1 290.7h0M447.5 292.0h0M460.8 288.4h0M448.1 292.0h0M460.2 290.2h0M442.1 287.5h0M451.5 293.2h0M447.8 290.3h0M442.8 287.8h0M448.3 288.8h0M464.9 289.3h0M449.4 290.9h0M444.7 287.3h0M458.6 290.3h0M461.3 290.1h0M450.5 290.4h0M465.1 289.2h0M459.4 287.5h0M455.3 292.7h0M464.4 288.1h0M462.2 291.0h0M457.0 290.1h0M448.1 292.2h0M455.0 292.9h0M457.4 289.2h0M464.4 289.7h0M465.5 288.1h0M443.3 287.9h0M455.1 289.2h0M465.4 287.6h0M452.7 289.0h0M460.8 289.3h0M447.6 290.5h0M463.8 288.3h0M446.2 290.6h0M448.4 291.3h0M448.0 291.2h0M445.4 289.9h0M458.7 291.5h0M463.0 288.5h0M445.8 287.4h0M446.8 289.3h0M451.8 287.8h0M449.4 290.0h0M457.9 290.0h0M444.7 288.9h0M456.5 293.1h0M454.5 288.9h0M444.8 289.7h0M453.1 291.8h0M451.2 293.8h0M443.5 288.5h0M450.0 290.4h0M458.0 291.9h0M463.9 289.9h0M465.8 287.8h0M460.4 289.5h0M452.1 290.1h0M445.6 289.7h0M459.0 291.8h0M456.2 290.7h0M463.5 289.9h0M448.3 291.7h0M458.4 289.5h0M444.2 288.9h0M449.6 292.8h0M452.7 287.9h0M462.1 290.4h0M450.6 291.4h0M457.4 290.6h0M466.6 287.3h0M465.6 287.7h0M453.8 292.8h0M447.1 289.0h0M457.3 291.2h0M461.8 288.1h0M456.8 287.3h0M460.6 287.4h0M447.2 288.8h0M449.0 290.4h0M445.7 288.1h0M443.3 287.4h0M453.4 291.1h0M461.3 291.5h0M451.2 292.0h0M465.8 288.1h0M450.7 291.4h0M451.4 290.8h0M463.3 290.0h0M458.4 290.0h0M455.3 293.1h0M447.8 289.5h0M444.0 289.0h0M445.9 289.0h0M446.0 290.5h0M452.4 290.0h0M450.1 290.9h0M455.6 288.0h0M448.3 291.9h0M459.0 291.1h0M465.6 288.2h0M462.4 290.0h0M456.3 291.5h0M448.3 289.4h0M461.7 292.1h0M462.9 289.8h0M444.2 288.8h0M463.1 287.8h0M465.0 287.3h0M446.9 288.1h0M446.4 287.9h0M460.1 287.3h0M453.9 287.3h0M443.7 288.0h0M457.3 293.4h0M462.7 287.8h0M460.2 290.1h0M443.1 288.7h0M442.9 288.3h0M454.9 290.3h0M458.4 289.1h0M465.0 287.3h0M459.7 288.3h0M458.9 287.9h0M463.9 290.4h0M452.1 291.0h0M446.1 288.1h0M444.7 287.8h0M450.8 292.4h0M463.6 288.7h0M455.6 292.3h0M442.9 288.3h0M464.7 287.7h0M462.6 290.0h0M443.2 287.4h0M461.6 292.0h0M446.4 287.6h0M443.1 287.5h0M451.8 290.7h0M459.6 290.0h0M448.6 291.3h0M452.7 290.5h0M462.9 288.3h0M444.9 288.2h0M457.9 290.0h0M449.7 292.6h0M443.4 288.5h0M461.0 287.4h0M458.8 291.1h0M453.4 291.4h0M453.6 291.3h0M451.6 288.2h0M458.9 291.0h0M442.0 287.3h0M444.5 289.0h0M443.9 289.1h0M444.5 289.3h0M455.8 292.5h0M452.3 288.6h0M458.4 287.2h0M455.0 288.8h0M461.5 289.7h0M459.5 289.6h0M442.7 287.7h0M444.0 287.6h0M458.6 292.7h0M463.3 290.9h0M462.6 288.5h0M444.1 288.6h0M456.9 288.9h0M445.6 287.5h0M449.4 292.1h0M463.2 288.1h0M457.5 289.0h0M462.9 288.8h0M457.0 291.3h0M464.6 288.3h0M448.7 290.0h0M453.9 293.4h0M465.4 288.0h0M461.1 292.5h0M443.1 288.2h0M447.1 288.8h0M451.2 287.8h0M457.9 287.9h0M449.1 291.2h0M462.9 291.3h0M462.2 287.6h0M452.3 293.2h0M448.2 288.9h0M447.8 291.4h0M447.5 288.1h0M454.3 293.4h0M455.5 287.6h0M464.3 289.9h0M454.3 289.9h0M456.0 288.2h0M447.6 291.6h0M466.5 287.5h0M453.8 292.0h0M445.6 287.5h0M449.1 289.6h0M460.2 287.8h0M448.6 287.3h0M466.8 287.3h0M455.9 288.6h0M461.8 289.6h0M456.9 291.1h0M459.1 287.4h0M451.7 291.4h0M462.2 290.1h0M462.1 290.3h0M462.1 290.9h0M457.6 291.5h0M461.9 290.7h0M462.0 287.9h0M447.7 288.5h0M443.0 287.8h0M465.0 287.6h0M451.6 288.9h0M443.7 287.3h0M463.7 290.1h0M463.0 290.1h0M457.2 288.1h0M444.4 289.1h0M463.7 290.7h0M454.1 292.3h0M444.0 289.3h0M446.2 288.8h0M445.4 287.7h0M463.7 289.2h0M464.2 288.7h0M465.3 288.5h0M449.9 291.9h0M456.5 293.5h0M457.3 287.3h0M450.9 290.8h0M442.2 287.4h0M443.3 287.9h0M443.8 287.3h0M453.2 288.2h0M452.2 288.8h0M442.5 287.8h0M443.3 287.2h0M451.4 292.8h0M458.1 289.9h0M454.5 290.6h0M460.8 292.4h0M455.9 288.4h0M444.0 289.2h0M444.5 288.7h0M450.8 290.6h0M457.0 291.6h0M463.6 289.5h0M463.9 287.9h0M466.0 287.3h0M463.5 288.4h0M452.0 290.4h0M455.9 292.7h0M443.3 289.0h0M465.5 287.9h0M456.6 288.9h0M442.9 287.4h0M464.2 289.4h0M459.9 289.6h0M466.6 287.5h0M444.3 289.7h0M452.5 288.9h0M444.5 287.4h0M465.5 288.2h0M445.6 288.2h0M459.9 288.1h0M458.9 293.1h0M457.0 289.6h0M453.8 291.8h0M452.6 291.3h0M461.9 288.2h0M457.0 292.0h0M450.4 288.0h0M460.2 288.3h0M458.7 293.4h0M452.9 292.7h0M459.5 287.4h0M446.0 290.0h0M452.6 287.6h0M461.5 288.8h0M461.7 289.7h0M460.8 290.7h0M467.0 287.2h0M451.6 290.3h0M464.8 289.2h0M461.4 288.2h0M461.0 287.4h0M449.9 293.4h0M444.1 287.6h0M461.2 287.4h0M443.4 287.9h0M458.4 290.9h0M442.2 287.6h0M446.5 290.7h0M453.0 287.4h0M462.8 290.9h0M449.4 289.0h0M465.0 288.1h0M465.5 288.1h0M460.7 289.7h0M450.6 287.5h0M453.2 290.2h0M466.2 287.6h0M456.1 289.7h0M456.8 289.3h0M456.0 290.2h0M445.8 288.1h0M466.8 287.2h0M456.7 289.2h0M458.9 287.8h0M462.3 291.1h0M454.2 290.7h0M448.0 290.2h0M465.4 287.6h0M446.3 290.2h0M451.1 291.6h0M459.5 290.3h0M453.0 292.5h0M456.8 290.8h0M447.4 289.2h0M463.1 290.2h0M463.6 290.1h0M452.9 288.9h0M464.9 287.6h0M463.7 288.6h0M458.1 289.1h0M447.5 291.9h0M442.6 287.5h0M465.3 288.1h0M465.2 289.3h0M457.3 292.0h0M455.4 288.0h0M460.3 291.4h0M451.8 292.5h0M449.9 289.9h0M450.6 292.8h0M450.6 291.0h0M455.4 289.1h0M442.1 287.5h0M447.5 289.9h0M456.0 293.5h0M464.1 289.3h0M455.0 287.9h0M448.9 290.0h0M465.6 287.5h0M463.3 288.6h0M448.6 290.7h0M466.8 287.3h0M459.3 288.4h0M448.3 289.9h0M457.2 289.7h0M450.0 287.8h0M465.1 288.8h0M457.3 289.4h0M443.1 287.6h0M454.8 287.9h0M455.6 290.8h0M462.5 288.0h0M465.6 287.6h0M458.9 290.2h0M456.4 292.2h0M455.2 291.3h0M446.1 288.9h0M460.4 290.0h0M454.4 288.7h0M451.8 289.2h0M460.7 289.8h0M450.8 287.8h0M459.5 291.0h0M450.0 289.6h0M446.6 290.5h0M455.9 287.7h0M464.9 287.7h0M446.6 291.1h0M445.6 287.4h0M449.8 289.3h0M463.5 289.5h0M453.3 292.6h0M451.3 291.5h0M451.1 289.9h0M450.1 288.8h0M455.6 289.7h0M452.1 291.1h0M445.5 288.1h0M460.4 289.3h0M445.7 288.5h0M455.6 292.1h0M454.0 291.1h0M442.2 287.6h0M448.0 290.2h0M462.0 290.9h0M462.9 289.5h0M463.5 289.2h0M445.3 287.5h0M460.6 290.7h0M450.6 293.2h0M447.5 290.1h0M446.7 288.9h0M464.0 288.5h0M466.5 287.3h0M455.7 288.7h0M465.5 288.2h0M445.3 289.4h0M441.9 287.4h0M453.5 289.0h0M464.3 290.1h0M454.7 291.2h0M448.3 290.9h0M465.0 287.9h0M458.0 291.7h0M450.5 292.0h0M456.4 287.5h0M458.2 290.2h0M443.8 288.9h0M455.7 288.3h0M457.0 293.0h0M443.9 287.4h0M446.3 290.5h0M442.6 287.4h0M447.4 290.0h0M442.6 287.3h0M456.6 292.9h0M462.4 291.3h0M444.5 287.6h0M463.9 289.2h0M447.9 292.2h0M441.8 287.2h0M452.3 288.4h0M449.4 288.5h0M450.8 293.6h0M449.8 288.0h0M461.5 289.9h0M451.1 290.2h0M462.9 290.1h0M458.8 290.9h0M459.0 292.7h0M461.2 288.9h0M446.2 289.8h0M465.1 287.3h0M456.2 293.6h0M442.3 287.4h0M446.8 290.6h0M464.7 288.3h0M457.8 293.1h0M441.9 287.2h0M444.4 289.5h0M466.0 288.1h0M447.2 290.8h0M453.1 291.1h0M456.0 288.2h0M442.1 287.5h0M452.4 289.4h0M456.3 289.7h0M442.8 288.1h0M454.2 291.5h0M461.3 291.7h0M458.4 287.7h0M447.1 288.0h0M453.0 287.9h0M446.4 289.0h0M452.0 290.8h0M450.6 290.0h0M452.7 289.0h0M460.1 289.8h0M446.5 287.6h0M465.3 287.3h0M461.2 292.3h0M465.8 287.6h0M450.9 290.7h0M457.6 293.1h0M458.7 292.5h0M466.1 287.5h0M459.3 289.6h0M454.7 291.9h0M445.6 287.4h0M461.6 288.9h0M465.0 287.5h0M458.1 290.7h0M455.2 289.6h0M442.2 287.6h0M466.8 287.3h0M463.0 288.1h0M457.7 291.6h0M454.5 290.7h0M459.7 289.4h0M463.4 287.6h0M450.6 292.7h0M445.7 289.1h0M450.9 292.3h0M445.0 288.7h0M453.4 292.0h0M460.7 289.5h0M451.4 289.7h0M453.5 288.5h0M446.3 288.7h0M466.2 287.7h0M446.6 288.9h0M464.5 289.9h0M448.3 291.5h0" stroke="#3d3d3d" stroke-width="1.1" stroke-linecap="round" fill="none"/>
<path d="M468.9 291.9h0M471.7 289.1h0M436.9 290.6h0M470.5 291.9h0M438.3 291.2h0" stroke="#2e9e3e" stroke-width="0.85" stroke-linecap="round" fill="none"/>
<path d="M462.5 278.0h0M455.7 273.3h0M454.8 268.0h0M456.4 281.2h0M458.2 269.9h0M463.3 264.9h0M464.2 271.9h0M455.7 279.2h0M461.0 270.2h0M461.7 269.8h0M465.0 269.5h0M448.0 276.7h0M459.8 284.8h0M458.7 273.7h0M460.4 270.9h0M457.8 264.7h0M452.9 274.6h0M450.8 277.4h0M458.2 277.3h0M466.2 277.5h0M464.2 271.8h0M466.2 279.7h0M460.7 276.9h0M446.8 285.2h0M460.3 268.2h0M454.1 271.8h0M455.8 269.7h0M458.0 268.5h0M461.6 278.6h0M454.4 279.6h0M462.0 276.4h0M461.2 272.2h0M460.6 286.9h0M464.2 272.2h0M447.9 280.8h0M463.4 284.9h0M465.0 285.1h0M451.7 284.3h0M455.7 267.8h0M464.9 270.7h0M466.1 277.9h0M456.0 273.8h0M452.4 283.6h0M455.1 279.9h0M459.1 275.0h0M461.0 264.8h0M462.0 275.5h0M462.4 271.1h0M463.4 279.9h0M463.8 282.6h0M449.8 286.8h0M458.6 261.8h0M457.6 273.1h0M453.4 282.7h0M452.4 286.0h0M455.9 267.6h0M463.6 278.5h0M446.7 284.2h0M459.0 264.8h0M462.9 282.3h0M461.0 281.4h0M463.6 267.7h0M452.3 280.1h0M456.4 276.4h0M462.3 286.9h0M462.2 275.4h0M463.3 279.3h0M459.6 285.3h0M452.4 285.4h0M450.2 286.3h0M453.0 278.0h0M456.7 264.2h0M455.5 283.0h0M455.5 268.8h0M463.3 283.7h0M452.0 271.7h0M457.7 260.2h0M459.1 286.5h0M463.2 274.0h0M462.0 276.3h0M464.0 275.4h0M456.9 286.8h0M459.7 276.7h0M456.0 275.0h0M450.9 279.1h0M461.0 264.3h0M460.9 264.4h0M458.0 285.8h0M464.1 279.8h0M458.8 266.3h0M454.9 283.6h0M463.5 286.5h0M457.3 260.4h0M464.8 273.9h0M465.5 275.8h0M452.8 278.6h0M455.3 283.3h0M452.3 285.2h0M461.3 279.9h0M456.3 271.5h0M448.5 286.5h0M461.3 262.4h0M457.0 276.6h0M463.0 274.8h0M462.4 278.6h0M457.3 285.4h0M453.2 286.8h0M463.1 278.1h0M455.0 272.2h0M453.7 281.8h0M461.4 266.2h0M456.0 273.6h0M463.4 278.6h0M458.2 275.4h0M452.8 276.2h0M466.3 283.6h0M457.4 266.4h0M460.4 287.1h0M454.9 286.6h0M453.6 278.6h0M458.0 261.4h0M454.1 271.0h0M451.5 283.5h0M463.0 269.4h0M465.7 271.3h0M456.0 285.7h0M463.8 284.7h0M448.1 283.5h0M448.9 281.4h0M446.2 281.1h0M464.3 267.6h0M464.7 283.0h0M448.1 287.0h0M458.5 285.2h0M464.0 275.2h0M449.8 284.6h0M460.8 264.0h0M461.6 274.7h0M457.9 284.9h0M464.2 282.9h0M454.2 276.5h0M446.9 285.6h0M458.6 265.8h0M461.4 270.5h0M452.9 268.1h0M459.5 285.8h0M463.0 271.8h0M459.7 274.7h0M458.7 272.5h0M465.3 282.8h0M447.5 286.3h0M456.9 260.7h0M464.8 286.9h0M466.1 277.8h0M461.1 270.4h0M465.0 282.6h0M456.2 271.7h0M454.2 278.5h0M463.6 269.5h0M459.8 262.2h0M450.3 284.3h0M457.5 281.6h0M450.7 286.1h0M451.9 284.7h0M447.7 283.6h0M465.4 271.6h0M452.7 268.5h0M459.9 279.2h0M459.1 276.5h0M447.2 284.1h0M455.4 263.6h0M463.8 282.2h0M447.3 285.0h0M460.0 281.0h0M445.0 284.0h0M458.0 282.1h0M457.0 267.8h0M463.1 276.4h0M464.7 284.2h0M455.9 275.1h0M453.3 279.6h0M463.1 283.2h0M443.3 285.7h0M442.2 286.5h0M445.0 281.4h0M460.1 284.6h0M462.4 263.4h0M460.6 283.7h0M463.4 271.6h0M456.8 282.7h0M455.8 262.7h0M464.6 266.5h0M447.4 281.6h0M462.5 272.6h0M464.9 268.3h0M454.9 282.9h0M456.2 265.4h0M456.7 265.6h0M452.0 276.2h0M453.3 270.4h0M450.1 283.5h0M452.3 278.0h0M452.5 286.1h0M458.5 282.1h0M445.2 282.7h0M457.1 277.7h0M450.1 287.1h0M455.0 272.8h0M454.2 270.4h0M447.2 285.2h0M460.2 269.2h0M463.8 284.2h0M451.1 283.2h0M460.6 286.6h0M466.1 279.3h0M459.2 265.1h0M451.7 281.3h0M447.7 283.9h0M452.3 279.1h0M464.3 281.8h0M462.4 279.2h0M453.6 281.9h0M453.1 281.1h0M446.0 285.3h0M460.8 263.4h0M449.1 286.8h0M464.1 274.6h0M455.7 284.0h0M457.2 261.2h0M464.9 275.3h0M450.2 286.3h0M450.4 286.1h0M447.7 286.6h0M453.7 278.4h0M460.1 285.1h0M451.3 277.2h0M462.7 284.5h0M458.9 274.4h0M448.1 283.6h0M460.9 261.6h0M460.6 275.6h0M463.8 268.5h0M456.8 285.3h0M456.2 274.9h0M450.3 283.9h0M457.4 267.8h0M462.2 277.0h0M453.0 281.9h0M453.1 274.2h0M465.0 272.8h0M452.9 280.9h0M463.5 281.5h0M463.4 268.8h0M465.7 279.3h0M462.9 267.2h0M461.3 265.9h0M450.8 274.7h0M462.5 273.2h0M457.9 264.9h0M445.4 282.0h0M454.2 274.5h0M448.3 282.9h0M456.3 287.1h0M462.9 286.1h0M459.4 272.6h0M458.0 266.8h0M462.7 264.9h0M462.1 280.7h0M458.4 279.5h0M456.0 285.6h0M454.0 283.3h0M452.8 275.4h0M451.9 281.4h0M452.6 280.1h0M459.0 283.9h0M457.6 276.7h0M456.7 260.6h0M445.8 286.8h0M455.8 276.0h0M458.9 261.4h0M461.2 275.6h0M459.7 279.0h0M460.2 275.6h0M447.3 286.1h0M465.3 285.5h0M446.1 280.1h0M457.7 285.1h0M455.1 274.4h0M457.6 273.4h0M464.9 267.5h0M457.4 276.0h0M458.3 272.6h0M454.1 278.6h0M457.8 277.1h0M459.7 274.9h0M464.1 278.0h0M452.3 280.4h0M459.4 270.0h0M448.5 281.8h0M448.9 283.7h0M459.5 280.8h0M461.4 279.4h0M454.7 285.8h0M444.2 281.9h0M462.3 279.7h0M466.3 286.2h0M462.0 269.8h0M463.4 276.3h0M458.5 273.6h0M455.1 273.9h0M464.2 276.1h0M458.4 271.9h0M460.2 272.1h0M461.9 266.0h0M456.6 266.3h0M451.4 283.4h0M442.9 284.1h0M449.4 283.1h0M458.9 277.1h0M464.4 277.7h0M464.0 277.2h0M447.3 285.7h0M456.7 283.7h0M454.1 275.9h0M465.8 277.7h0M456.2 283.5h0M457.9 284.3h0M462.0 283.2h0M448.5 284.9h0M456.4 262.3h0M461.7 267.9h0M462.9 274.9h0M458.9 266.1h0M458.9 287.0h0M464.5 278.0h0M448.9 277.7h0M460.7 284.9h0M454.7 282.8h0M441.9 285.8h0M459.3 282.1h0M461.5 284.9h0M462.8 266.6h0M454.5 276.8h0M465.0 281.3h0M465.0 282.7h0M452.2 282.7h0M460.5 269.2h0M455.2 286.7h0M462.5 280.5h0M463.5 274.3h0M465.6 274.4h0M459.6 268.2h0M459.9 281.0h0M458.1 265.6h0M460.9 269.4h0M457.5 273.5h0M455.2 277.6h0M462.1 286.6h0M463.0 276.4h0M457.5 283.8h0M463.0 270.0h0M456.8 268.7h0M457.5 280.2h0M459.7 281.3h0M462.8 275.1h0M451.9 278.7h0M458.3 285.9h0M459.6 286.6h0M466.3 275.0h0M446.9 286.7h0M459.2 283.6h0M461.4 265.5h0M463.9 279.3h0M442.5 286.5h0M448.9 286.6h0M466.3 283.4h0M450.6 281.4h0M456.4 284.6h0M456.8 282.3h0M456.4 285.3h0M454.8 271.7h0M462.5 263.9h0M461.4 279.5h0M459.2 269.6h0M458.4 270.9h0M462.1 272.1h0M462.3 264.7h0M456.6 272.6h0M461.2 281.8h0M456.2 284.1h0M457.3 267.6h0M441.9 284.9h0M458.8 268.4h0M452.8 285.1h0M464.2 275.9h0M447.0 283.6h0M456.5 278.6h0M461.9 267.9h0M456.6 275.1h0M460.1 286.9h0M462.7 281.1h0M453.9 266.6h0M464.4 280.9h0M448.9 287.0h0M456.1 272.5h0M461.9 283.4h0M461.9 265.0h0M461.7 282.3h0M459.1 281.5h0M463.6 268.1h0M461.9 266.5h0M453.6 268.3h0M451.7 279.8h0M461.1 268.9h0M461.8 286.9h0M461.0 265.0h0M459.0 268.6h0M456.3 287.1h0M464.1 280.6h0M446.7 280.0h0M453.4 276.1h0M461.5 267.0h0M461.7 267.7h0M452.8 280.3h0M455.8 278.5h0M455.4 284.0h0M454.2 273.1h0M450.4 284.7h0M463.7 286.2h0M459.9 265.6h0M455.1 285.3h0M462.3 279.4h0M457.4 275.9h0M452.4 269.8h0M457.1 263.0h0M462.8 276.5h0M463.0 285.3h0M465.1 268.5h0M455.9 265.2h0M441.2 285.3h0M450.9 285.6h0M453.1 281.8h0M451.3 286.9h0M464.0 273.8h0M462.3 274.0h0M447.7 277.5h0M463.7 270.2h0M462.7 281.9h0M464.1 270.0h0M454.0 268.5h0M453.0 269.6h0M459.3 262.6h0M455.6 267.2h0M460.0 268.0h0M455.4 273.5h0M461.0 278.8h0M462.0 281.8h0M456.6 283.5h0M452.8 272.0h0M456.9 265.5h0M464.6 283.5h0M458.1 271.9h0M461.4 268.7h0M448.2 278.8h0M463.3 270.3h0M454.5 280.7h0M462.6 276.4h0M464.1 273.9h0M450.6 283.1h0M463.7 285.5h0M450.7 278.6h0M464.7 275.8h0M458.5 286.5h0M460.3 262.9h0M458.4 265.0h0M463.8 273.4h0M461.0 281.9h0M448.4 274.8h0M454.9 278.1h0M456.7 263.2h0M462.1 270.4h0M443.1 285.3h0M462.8 280.1h0M454.7 284.2h0M448.2 284.1h0M459.0 274.2h0M459.2 283.2h0M466.2 282.4h0M458.4 268.7h0M455.6 284.2h0M463.4 281.1h0M453.6 265.9h0M464.6 281.7h0M457.0 270.7h0M452.3 280.2h0M466.3 285.9h0M462.2 266.1h0M461.5 275.1h0M454.3 274.5h0M465.0 278.5h0M462.6 282.0h0M456.0 283.5h0M456.0 274.9h0M445.1 284.7h0M462.1 275.0h0M450.2 280.2h0M457.8 276.3h0M460.9 281.0h0M457.1 277.6h0M462.2 276.9h0M458.9 282.1h0M456.2 281.2h0M466.1 272.8h0M457.7 282.8h0M458.2 280.5h0M462.7 266.3h0M456.8 270.8h0M453.1 280.4h0M461.8 279.5h0M462.4 274.5h0M461.1 275.2h0M456.6 262.5h0M451.5 278.1h0M454.8 281.5h0M459.8 266.5h0M458.4 259.8h0M451.6 283.7h0M449.3 285.0h0M453.2 273.5h0M459.3 269.7h0M465.0 274.1h0M465.1 277.0h0M454.6 279.1h0M456.2 268.4h0M456.4 279.0h0M452.7 278.8h0M462.2 280.0h0M452.1 282.8h0M460.2 279.0h0M458.0 260.0h0M451.9 286.2h0M465.4 275.1h0M455.6 287.1h0M451.5 280.0h0M463.8 283.8h0M457.6 281.9h0M460.8 279.3h0M458.1 263.5h0M453.7 276.3h0M456.7 262.2h0M459.9 265.6h0M464.4 281.3h0M455.8 282.0h0M444.3 281.8h0M458.3 272.2h0M460.5 270.7h0M452.0 284.7h0M460.7 276.2h0M454.9 281.6h0M460.6 282.8h0M464.5 283.2h0M462.2 277.7h0M461.8 271.0h0M464.3 268.0h0M462.2 286.5h0M463.9 286.0h0M465.9 282.9h0M454.1 284.5h0M449.2 281.3h0M462.4 272.8h0M460.7 283.8h0M443.1 283.8h0M443.9 282.4h0M452.7 278.2h0M454.8 276.0h0M450.6 279.5h0M464.4 286.5h0M456.8 284.6h0M458.5 273.0h0M453.5 280.2h0M448.5 284.2h0M463.1 268.2h0M459.6 268.9h0M459.9 268.0h0M464.8 271.9h0M453.5 266.5h0M457.8 281.4h0M453.6 284.2h0M450.9 285.3h0M463.3 277.9h0M455.8 281.2h0M448.8 282.1h0M462.3 280.3h0M452.2 276.9h0M462.8 282.7h0M458.6 267.7h0M448.0 281.4h0M465.0 283.5h0M464.6 276.1h0M456.5 279.2h0M459.7 282.2h0M461.4 269.6h0M454.7 282.2h0M458.8 268.0h0M462.8 267.6h0M449.3 283.7h0M449.6 277.9h0M464.0 273.8h0M458.7 276.0h0M460.4 265.2h0M458.2 281.5h0M457.0 270.0h0M459.4 259.6h0M452.8 272.4h0M463.4 280.2h0M450.5 279.9h0M455.8 275.7h0M460.5 266.0h0M462.9 264.9h0M449.7 281.1h0M456.2 280.7h0M461.1 275.0h0M454.3 277.3h0M452.8 278.0h0M457.7 275.6h0M448.3 284.8h0M464.4 274.8h0M454.6 282.9h0M460.8 274.0h0M444.2 283.0h0M447.4 282.7h0M458.8 283.6h0M442.3 284.0h0M458.3 270.7h0M463.2 272.6h0M462.7 264.0h0M447.2 283.0h0M450.4 280.7h0M462.3 287.0h0M455.8 279.0h0M455.3 279.7h0M455.6 287.1h0M461.4 279.7h0M453.2 273.6h0M460.2 284.6h0M461.6 286.9h0M463.5 265.0h0M451.5 286.7h0M454.7 277.8h0M448.7 285.5h0M461.0 282.6h0M459.6 282.8h0M463.3 284.4h0M442.0 284.4h0M462.1 275.8h0M454.8 281.0h0M458.3 286.6h0M450.6 283.9h0M453.0 282.8h0M454.0 268.3h0M460.2 285.8h0M465.1 268.6h0M460.2 265.8h0M456.5 282.3h0M465.4 275.8h0M457.6 260.0h0M458.0 278.6h0M457.5 285.7h0M447.0 283.1h0M452.3 284.8h0M463.3 281.1h0M465.8 285.9h0M456.5 283.2h0M466.2 286.1h0M457.7 266.6h0M442.8 286.2h0M451.0 283.2h0M464.8 287.1h0M458.1 284.9h0M456.7 282.7h0M466.2 282.8h0M448.7 284.6h0M462.4 277.3h0M456.8 282.2h0M456.9 285.5h0M460.2 276.1h0M460.9 285.1h0M458.1 263.0h0M459.6 283.3h0M443.3 282.3h0M463.7 274.1h0M451.7 283.4h0M451.3 280.8h0M455.7 278.4h0M455.2 276.6h0M455.9 265.5h0M455.0 280.7h0M452.4 270.3h0M458.0 266.3h0M463.7 268.1h0M458.0 266.1h0M465.2 281.7h0M454.7 281.6h0M465.5 277.1h0M451.5 272.6h0M459.1 282.5h0M461.0 266.5h0M453.8 280.6h0M460.4 285.1h0M456.2 265.3h0M464.3 282.8h0M454.2 277.8h0M465.8 285.8h0M453.0 269.6h0M448.6 285.3h0M460.3 278.0h0M459.3 266.8h0M464.6 269.4h0M455.8 273.7h0M449.9 282.0h0M463.7 284.2h0M456.4 268.8h0M456.8 278.6h0M456.5 278.4h0M449.8 282.3h0M461.6 285.1h0M458.5 268.2h0M461.7 284.7h0M455.5 281.5h0M466.1 277.9h0M461.8 285.8h0M450.8 286.0h0M446.1 285.1h0M444.1 283.8h0M464.1 273.7h0M462.3 283.6h0M458.4 271.4h0M464.3 269.0h0M460.7 274.7h0M458.6 263.5h0M457.0 280.6h0M460.1 263.5h0M454.7 278.3h0M458.3 282.1h0M457.8 277.6h0M459.5 278.7h0M459.8 265.6h0M462.4 283.3h0M442.7 285.6h0M456.8 286.2h0M454.9 266.8h0M461.1 281.3h0M455.2 276.7h0M460.9 263.7h0M453.4 276.9h0M453.0 285.8h0M455.2 277.3h0M462.2 277.3h0M456.9 278.8h0M459.1 269.6h0M463.8 279.1h0M457.0 285.1h0M463.0 268.2h0M462.6 268.4h0M456.6 268.8h0M460.6 283.7h0M463.3 279.4h0M460.7 265.3h0M459.9 280.6h0M452.3 282.4h0M462.3 281.5h0M441.8 284.3h0M460.0 272.4h0M444.1 285.9h0M455.6 278.7h0M456.9 266.0h0M458.5 281.5h0M453.7 266.8h0M454.6 283.4h0M450.7 280.1h0M461.2 279.1h0M457.8 278.8h0M463.5 277.1h0M461.2 280.9h0M451.6 274.4h0M451.8 279.9h0M458.0 280.7h0M463.4 279.1h0M454.0 273.3h0M458.2 276.8h0M457.7 275.7h0M458.4 275.8h0M459.3 275.7h0M458.0 277.5h0M455.0 265.7h0M450.9 282.0h0M448.2 276.3h0M459.2 279.7h0M462.9 267.7h0M464.8 283.9h0M459.3 271.9h0M455.4 276.8h0M452.2 281.1h0M461.4 272.5h0M460.5 271.3h0M450.5 281.0h0M455.2 272.0h0M465.3 281.5h0M462.8 268.0h0M452.8 278.3h0M460.0 273.2h0M453.1 283.9h0M460.5 263.8h0M454.1 265.8h0M458.9 280.5h0M454.0 279.7h0M461.2 278.3h0M458.1 262.8h0M456.6 268.7h0M464.2 284.1h0M463.9 275.1h0M449.5 281.9h0M462.4 279.6h0M454.2 269.0h0M464.8 272.2h0M456.4 267.8h0M452.8 279.1h0M448.4 283.4h0M462.4 278.0h0M465.7 273.1h0M457.7 279.4h0M456.9 275.6h0M451.7 276.1h0M455.0 278.8h0M454.2 272.5h0M454.8 285.6h0M450.0 282.8h0M453.2 275.1h0M461.6 287.0h0M455.9 262.4h0M464.4 276.2h0M448.4 279.7h0M457.2 278.3h0M461.6 263.4h0M460.2 264.9h0M453.6 266.9h0M464.0 268.4h0M456.7 265.1h0M459.5 262.4h0M451.7 276.8h0M456.9 276.5h0M440.2 286.9h0M461.9 268.1h0M449.0 279.3h0M460.8 283.1h0M455.4 275.8h0M458.3 273.5h0M465.3 275.4h0M449.4 285.1h0M456.3 270.8h0M449.9 286.0h0M458.5 285.9h0M453.3 286.9h0M458.1 260.3h0M457.4 276.3h0M445.3 280.3h0M453.9 283.3h0M458.9 261.9h0M444.7 286.2h0M459.9 266.4h0M461.8 284.3h0M465.7 271.1h0M460.0 267.3h0M461.9 286.6h0M457.2 265.9h0M465.9 283.8h0M465.5 271.9h0M458.1 259.6h0M454.7 268.6h0M450.2 278.0h0M464.4 280.1h0M455.2 262.7h0M457.1 265.8h0M466.2 280.9h0M455.8 282.9h0M455.5 285.0h0M455.7 284.0h0M450.6 282.6h0M462.8 265.5h0M459.3 279.5h0M461.2 263.9h0M464.0 265.5h0M461.2 261.1h0M458.7 263.0h0M450.7 282.1h0M465.2 278.4h0M451.3 273.0h0M457.1 284.7h0M451.7 286.4h0M461.5 283.2h0M453.7 270.7h0M458.9 261.4h0M444.2 285.8h0M450.8 278.5h0M447.2 279.5h0M453.9 272.6h0M456.5 271.7h0M443.1 284.4h0M460.5 274.8h0M456.3 261.5h0M454.1 265.4h0M450.1 282.5h0M461.0 287.1h0M454.0 272.7h0M450.9 282.8h0M457.2 276.4h0M460.4 274.8h0M446.5 283.4h0M455.7 286.1h0M455.7 276.5h0M455.6 272.1h0M454.9 275.1h0M463.6 269.5h0M458.9 268.0h0M462.7 265.0h0M453.8 279.2h0M449.4 281.2h0M453.8 281.8h0M450.4 283.7h0M457.2 279.7h0M463.3 279.4h0M461.6 277.8h0M464.1 267.8h0M449.0 281.1h0M460.0 284.6h0M456.6 268.6h0M454.2 269.4h0M457.5 272.4h0M445.1 281.4h0M460.4 264.4h0M462.3 264.4h0M458.4 267.2h0M454.9 285.2h0M455.6 269.7h0M457.7 285.8h0M448.2 276.5h0M451.9 282.0h0M464.8 269.3h0M458.2 285.9h0M454.5 285.1h0M453.8 280.0h0M452.0 285.4h0M458.7 282.7h0M463.7 281.9h0M453.6 284.9h0M450.6 280.3h0M464.9 278.3h0M456.1 271.6h0M455.2 265.0h0M453.5 283.2h0M459.8 269.3h0M456.6 269.4h0M463.7 281.7h0M458.0 262.1h0M460.1 287.1h0M460.4 264.4h0M463.7 278.4h0M452.2 281.1h0M451.4 272.9h0M457.0 265.5h0M455.7 271.4h0M452.4 280.3h0M450.0 278.2h0M458.7 260.5h0M458.1 284.8h0M462.0 264.6h0M462.8 281.1h0M461.0 278.2h0M445.1 285.9h0M461.0 286.2h0M462.1 274.7h0M461.2 278.4h0M458.1 275.4h0M459.4 271.2h0M462.7 277.3h0M464.8 285.5h0M457.2 266.2h0M464.8 278.0h0M450.7 284.4h0M462.1 269.9h0M461.9 273.8h0M459.9 262.9h0M461.1 265.3h0M447.6 283.1h0M463.1 275.2h0M461.2 277.1h0M465.1 277.5h0M458.0 274.5h0M463.9 283.9h0M461.6 281.4h0M455.5 275.6h0M453.3 283.5h0M451.2 276.5h0M456.7 285.9h0M454.2 270.8h0M459.6 269.4h0M450.6 281.0h0M452.2 281.5h0M465.1 285.0h0" stroke="#3867cc" stroke-width="0.95" stroke-linecap="round" fill="none"/>
<path d="M431.2 278.4h0M432.3 285.8h0M427.5 285.3h0M437.1 285.1h0M424.1 276.7h0M434.8 277.2h0M431.4 279.4h0M428.9 278.2h0M427.5 285.6h0M429.4 282.1h0M431.7 281.6h0M428.0 285.8h0M421.6 277.3h0M434.9 285.0h0M426.7 278.6h0M425.5 281.0h0M426.5 284.5h0M437.8 282.7h0M428.3 279.1h0M436.4 281.6h0M472.1 268.4h0M470.6 273.1h0M471.5 268.4h0M470.7 278.9h0M470.8 283.9h0M469.8 279.8h0M471.0 264.4h0" stroke="#e8302a" stroke-width="0.85" stroke-linecap="round" fill="none"/>
<path d="M386.7 198.7V298H521" stroke="#1a1a1a" stroke-width="1" fill="none"/>
<path d="M413 298v3.3M453 298v3.3M493 298v3.3M386.7 293.8h-3.3M386.7 264.86h-3.3M386.7 235.92h-3.3M386.7 206.98h-3.3" stroke="#1a1a1a" stroke-width=".9" fill="none"/>
<text transform="translate(411.8 310.75) scale(.92 1)" font-size="8.1" fill="#303030" stroke="#303030" stroke-width=".12" text-anchor="middle">−1</text>
<text transform="translate(453 310.75) scale(.92 1)" font-size="8.1" fill="#303030" stroke="#303030" stroke-width=".12" text-anchor="middle">0</text>
<text transform="translate(493 310.75) scale(.92 1)" font-size="8.1" fill="#303030" stroke="#303030" stroke-width=".12" text-anchor="middle">1</text>
<text transform="translate(380.5 296.45) scale(.92 1)" font-size="8.1" fill="#303030" stroke="#303030" stroke-width=".12" text-anchor="end">0</text>
<text transform="translate(380.5 267.51) scale(.92 1)" font-size="8.1" fill="#303030" stroke="#303030" stroke-width=".12" text-anchor="end">20</text>
<text transform="translate(380.5 238.57) scale(.92 1)" font-size="8.1" fill="#303030" stroke="#303030" stroke-width=".12" text-anchor="end">40</text>
<text transform="translate(380.5 209.63) scale(.92 1)" font-size="8.1" fill="#303030" stroke="#303030" stroke-width=".12" text-anchor="end">60</text>
<text x="451" y="193.2" font-size="7.85" fill="#333" text-anchor="middle">Sixteen days post-infusion</text>
<text x="453" y="323.55" font-size="8.6" fill="#303030" stroke="#303030" stroke-width=".25" text-anchor="middle" textLength="51" lengthAdjust="spacingAndGlyphs">Log<tspan font-size="6" dy="2">2</tspan><tspan dy="-2"> fold change</tspan></text>
<text transform="translate(364.3 248.2) rotate(-90)" font-size="8.4" fill="#303030" stroke="#303030" stroke-width=".25" text-anchor="middle" textLength="33.5" lengthAdjust="spacingAndGlyphs">-Log<tspan font-size="6" dy="2">10</tspan><tspan dy="-2"> FDR</tspan></text>
<g transform="scale(.25)" font-size="17" fill="#0c0c0c" stroke="#0c0c0c" stroke-width=".3" text-anchor="middle"><text x="1688" y="833.6">Gm42418</text><text x="1933.2" y="967.2">Gm11808</text><text x="1911.2" y="982.4">Satb1</text><text x="2008" y="995.6">Gzma</text><text x="1844" y="1001.6">Rgs1</text><text x="1894" y="1000">Ptp1a1</text><text x="1798.4" y="1015.6">Vdac1</text><text x="1868" y="1016.8">Ppp1r14b</text><text x="1803" y="1028">Bcl3</text><text x="1905" y="1030.6">Zfp36l2</text><text x="1778" y="1042.8">Adgre5</text><text x="1880" y="1048">Capg</text><text x="1928" y="1052.8">Klrc1</text><text x="1792" y="1055.6">Dnajb</text><text x="1820" y="1065.6">Jund</text><text x="1865" y="1062.6">Cd3</text></g>
</g>
<text transform="translate(-0.5 9.75) scale(1.2 1.04)" font-size="11.4" font-weight="bold" fill="#000">A</text>
<text x="0.6" y="180.45" font-size="11.4" font-weight="bold" fill="#000" stroke="#000" stroke-width=".2">B</text>
<text x="272.8" y="10.8" font-size="8.75" fill="#2c2c2c" text-anchor="middle">CD4<tspan font-size="5.6" dy="-3.2">+</tspan><tspan dy="3.2"> CAR-T cells</tspan></text>
<text x="272.8" y="181.8" font-size="8.75" fill="#2c2c2c" text-anchor="middle">CD8<tspan font-size="5.6" dy="-3.2">+</tspan><tspan dy="3.2"> CAR-T cells</tspan></text>
</svg>
</body></html>
